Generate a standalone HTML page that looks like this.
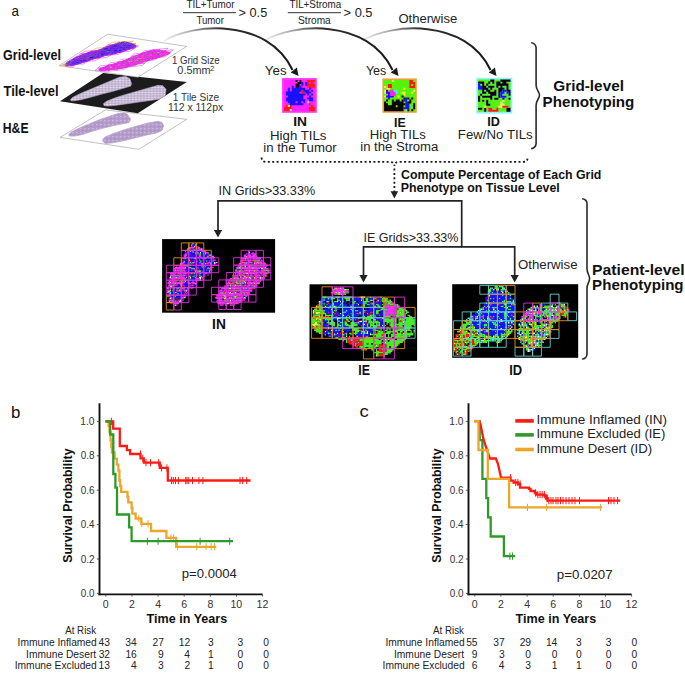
<!DOCTYPE html>
<html><head><meta charset="utf-8"><style>
html,body{margin:0;padding:0;background:#fff;overflow:hidden;}
svg{display:block;font-family:"Liberation Sans", sans-serif;}
</style></head><body>
<svg width="685" height="680" viewBox="0 0 685 680">
<rect width="685" height="680" fill="#fff"/>
<text x="11.52" y="16.0" font-size="15.00" fill="#111" textLength="7.46" lengthAdjust="spacingAndGlyphs">a</text>
<text x="3.10" y="59.6" font-size="13.95" font-weight="bold" fill="#111" textLength="57.85" lengthAdjust="spacingAndGlyphs">Grid-level</text>
<text x="3.47" y="96.1" font-size="13.81" font-weight="bold" fill="#111" textLength="55.09" lengthAdjust="spacingAndGlyphs">Tile-level</text>
<text x="2.81" y="132.9" font-size="13.81" font-weight="bold" fill="#111" textLength="25.74" lengthAdjust="spacingAndGlyphs">H&amp;E</text>
<defs><g id="inT"><path d="M192.4 243.2h1.2v1.25h-1.2zM191.2 244.4h1.2v1.25h-1.2zM194.9 244.4h1.2v1.25h-1.2zM193.7 245.7h1.2v1.25h-1.2zM187.4 248.2h1.2v1.25h-1.2zM201.2 248.2h1.2v1.25h-1.2zM187.4 249.4h1.2v1.25h-1.2zM198.7 249.4h1.2v1.25h-1.2zM201.2 249.4h1.2v1.25h-1.2zM192.4 251.9h1.2v1.25h-1.2zM199.9 251.9h1.2v1.25h-1.2zM248.7 251.9h1.2v1.25h-1.2zM204.9 253.2h1.2v1.25h-1.2zM207.4 253.2h1.2v1.25h-1.2zM186.2 254.4h1.2v1.25h-1.2zM208.7 254.4h2.5v1.25h-2.5zM212.4 255.7h1.2v1.25h-1.2zM246.2 255.7h1.2v1.25h-1.2zM194.9 258.1h1.2v1.25h-1.2zM198.7 259.4h1.2v1.25h-1.2zM258.6 259.4h1.2v1.25h-1.2zM183.7 260.6h1.2v1.25h-1.2zM213.7 261.9h1.2v1.25h-1.2zM216.2 261.9h1.2v1.25h-1.2zM242.4 261.9h1.2v1.25h-1.2zM256.1 261.9h1.2v1.25h-1.2zM201.2 263.1h1.2v1.25h-1.2zM213.7 263.1h1.2v1.25h-1.2zM253.7 263.1h1.2v1.25h-1.2zM179.9 264.4h1.2v1.25h-1.2zM251.2 264.4h1.2v1.25h-1.2zM263.6 264.4h1.2v1.25h-1.2zM202.4 265.6h1.2v1.25h-1.2zM239.9 265.6h1.2v1.25h-1.2zM244.9 265.6h1.2v1.25h-1.2zM207.4 266.9h1.2v1.25h-1.2zM211.2 266.9h1.2v1.25h-1.2zM264.9 266.9h1.2v1.25h-1.2zM193.7 268.1h1.2v1.25h-1.2zM174.9 269.4h1.2v1.25h-1.2zM206.2 269.4h1.2v1.25h-1.2zM209.9 269.4h1.2v1.25h-1.2zM236.2 269.4h1.2v1.25h-1.2zM246.2 269.4h1.2v1.25h-1.2zM263.6 269.4h1.2v1.25h-1.2zM194.9 270.6h1.2v1.25h-1.2zM198.7 270.6h1.2v1.25h-1.2zM202.4 270.6h1.2v1.25h-1.2zM208.7 270.6h1.2v1.25h-1.2zM242.4 270.6h1.2v1.25h-1.2zM172.4 271.9h1.2v1.25h-1.2zM194.9 271.9h1.2v1.25h-1.2zM202.4 271.9h1.2v1.25h-1.2zM241.2 271.9h1.2v1.25h-1.2zM256.1 273.1h1.2v1.25h-1.2zM172.4 274.4h1.2v1.25h-1.2zM238.7 274.4h1.2v1.25h-1.2zM258.6 274.4h1.2v1.25h-1.2zM264.9 274.4h1.2v1.25h-1.2zM169.9 275.6h1.2v1.25h-1.2zM181.2 275.6h1.2v1.25h-1.2zM188.7 275.6h1.2v1.25h-1.2zM192.4 275.6h1.2v1.25h-1.2zM201.2 275.6h1.2v1.25h-1.2zM239.9 275.6h1.2v1.25h-1.2zM243.7 275.6h1.2v1.25h-1.2zM252.4 275.6h1.2v1.25h-1.2zM169.9 276.9h1.2v1.25h-1.2zM176.2 276.9h1.2v1.25h-1.2zM186.2 276.9h1.2v1.25h-1.2zM189.9 276.9h1.2v1.25h-1.2zM198.7 276.9h2.5v1.25h-2.5zM239.9 276.9h1.2v1.25h-1.2zM248.7 276.9h1.2v1.25h-1.2zM199.9 278.1h1.2v1.25h-1.2zM233.7 278.1h1.2v1.25h-1.2zM196.2 279.4h1.2v1.25h-1.2zM198.7 279.4h2.5v1.25h-2.5zM242.4 279.4h1.2v1.25h-1.2zM246.2 279.4h1.2v1.25h-1.2zM252.4 279.4h1.2v1.25h-1.2zM168.7 280.6h1.2v1.25h-1.2zM184.9 280.6h1.2v1.25h-1.2zM196.2 280.6h1.2v1.25h-1.2zM236.2 280.6h1.2v1.25h-1.2zM243.7 280.6h1.2v1.25h-1.2zM256.1 280.6h1.2v1.25h-1.2zM169.9 281.9h1.2v1.25h-1.2zM181.2 283.1h1.2v1.25h-1.2zM194.9 283.1h1.2v1.25h-1.2zM239.9 283.1h1.2v1.25h-1.2zM253.7 283.1h1.2v1.25h-1.2zM168.7 284.4h1.2v1.25h-1.2zM229.9 284.4h1.2v1.25h-1.2zM169.9 285.6h2.5v1.25h-2.5zM233.7 285.6h1.2v1.25h-1.2zM253.7 285.6h1.2v1.25h-1.2zM178.7 286.9h1.2v1.25h-1.2zM192.4 286.9h1.2v1.25h-1.2zM243.7 286.9h1.2v1.25h-1.2zM167.4 288.1h1.2v1.25h-1.2zM229.9 288.1h1.2v1.25h-1.2zM169.9 289.4h1.2v1.25h-1.2zM186.2 289.4h1.2v1.25h-1.2zM167.4 290.6h2.5v1.25h-2.5zM186.2 290.6h1.2v1.25h-1.2zM167.4 291.9h1.2v1.25h-1.2zM229.9 291.9h1.2v1.25h-1.2zM228.7 293.1h1.2v1.25h-1.2zM232.4 293.1h1.2v1.25h-1.2zM222.4 294.4h2.5v1.25h-2.5zM227.4 294.4h1.2v1.25h-1.2zM167.4 295.6h1.2v1.25h-1.2zM224.9 295.6h1.2v1.25h-1.2zM233.7 295.6h2.5v1.25h-2.5zM183.7 296.9h1.2v1.25h-1.2zM224.9 296.9h1.2v1.25h-1.2zM243.7 296.9h1.2v1.25h-1.2zM169.9 298.1h1.2v1.25h-1.2zM181.2 298.1h1.2v1.25h-1.2zM172.4 299.4h1.2v1.25h-1.2zM179.9 299.4h1.2v1.25h-1.2zM218.7 299.4h1.2v1.25h-1.2zM229.9 299.4h1.2v1.25h-1.2zM236.2 299.4h1.2v1.25h-1.2zM168.7 300.6h1.2v1.25h-1.2zM172.4 300.6h1.2v1.25h-1.2zM178.7 300.6h2.5v1.25h-2.5zM229.9 300.6h1.2v1.25h-1.2zM169.9 301.9h1.2v1.25h-1.2zM219.9 301.9h1.2v1.25h-1.2zM229.9 301.9h1.2v1.25h-1.2zM236.2 301.9h1.2v1.25h-1.2zM177.4 303.1h1.2v1.25h-1.2zM174.9 304.4h1.2v1.25h-1.2z" fill="#ffffff"/>
<path d="M192.4 244.4h2.5v1.25h-2.5zM188.7 245.7h1.2v1.25h-1.2zM192.4 245.7h1.2v1.25h-1.2zM194.9 245.7h1.2v1.25h-1.2zM194.9 246.9h2.5v1.25h-2.5zM191.2 248.2h1.2v1.25h-1.2zM193.7 248.2h3.8v1.25h-3.8zM186.2 249.4h1.2v1.25h-1.2zM188.7 249.4h5.0v1.25h-5.0zM197.4 249.4h1.2v1.25h-1.2zM204.9 249.4h1.2v1.25h-1.2zM188.7 250.7h1.2v1.25h-1.2zM191.2 250.7h1.2v1.25h-1.2zM193.7 250.7h2.5v1.25h-2.5zM197.4 250.7h3.8v1.25h-3.8zM184.9 251.9h2.5v1.25h-2.5zM188.7 251.9h3.8v1.25h-3.8zM193.7 251.9h1.2v1.25h-1.2zM198.7 251.9h1.2v1.25h-1.2zM201.2 251.9h3.8v1.25h-3.8zM183.7 253.2h1.2v1.25h-1.2zM187.4 253.2h7.5v1.25h-7.5zM201.2 253.2h2.5v1.25h-2.5zM206.2 253.2h1.2v1.25h-1.2zM208.7 253.2h1.2v1.25h-1.2zM249.9 253.2h1.2v1.25h-1.2zM187.4 254.4h3.8v1.25h-3.8zM192.4 254.4h6.2v1.25h-6.2zM201.2 254.4h7.5v1.25h-7.5zM211.2 254.4h1.2v1.25h-1.2zM246.2 254.4h1.2v1.25h-1.2zM251.2 254.4h1.2v1.25h-1.2zM186.2 255.7h12.5v1.25h-12.5zM201.2 255.7h6.2v1.25h-6.2zM208.7 255.7h2.5v1.25h-2.5zM186.2 256.9h5.0v1.25h-5.0zM192.4 256.9h2.5v1.25h-2.5zM197.4 256.9h3.8v1.25h-3.8zM202.4 256.9h7.5v1.25h-7.5zM186.2 258.1h7.5v1.25h-7.5zM196.2 258.1h2.5v1.25h-2.5zM199.9 258.1h2.5v1.25h-2.5zM206.2 258.1h6.2v1.25h-6.2zM248.7 258.1h1.2v1.25h-1.2zM254.9 258.1h1.2v1.25h-1.2zM183.7 259.4h5.0v1.25h-5.0zM189.9 259.4h8.8v1.25h-8.8zM199.9 259.4h12.5v1.25h-12.5zM259.9 259.4h1.2v1.25h-1.2zM184.9 260.6h5.0v1.25h-5.0zM191.2 260.6h2.5v1.25h-2.5zM194.9 260.6h1.2v1.25h-1.2zM197.4 260.6h2.5v1.25h-2.5zM202.4 260.6h3.8v1.25h-3.8zM207.4 260.6h1.2v1.25h-1.2zM209.9 260.6h2.5v1.25h-2.5zM213.7 260.6h1.2v1.25h-1.2zM244.9 260.6h1.2v1.25h-1.2zM184.9 261.9h5.0v1.25h-5.0zM191.2 261.9h1.2v1.25h-1.2zM194.9 261.9h3.8v1.25h-3.8zM201.2 261.9h5.0v1.25h-5.0zM211.2 261.9h2.5v1.25h-2.5zM183.7 263.1h3.8v1.25h-3.8zM188.7 263.1h2.5v1.25h-2.5zM192.4 263.1h8.8v1.25h-8.8zM203.7 263.1h1.2v1.25h-1.2zM208.7 263.1h1.2v1.25h-1.2zM211.2 263.1h2.5v1.25h-2.5zM248.7 263.1h2.5v1.25h-2.5zM252.4 263.1h1.2v1.25h-1.2zM188.7 264.4h1.2v1.25h-1.2zM191.2 264.4h10.0v1.25h-10.0zM203.7 264.4h6.2v1.25h-6.2zM212.4 264.4h1.2v1.25h-1.2zM256.1 264.4h1.2v1.25h-1.2zM258.6 264.4h1.2v1.25h-1.2zM188.7 265.6h12.5v1.25h-12.5zM203.7 265.6h1.2v1.25h-1.2zM206.2 265.6h3.8v1.25h-3.8zM246.2 265.6h1.2v1.25h-1.2zM186.2 266.9h2.5v1.25h-2.5zM192.4 266.9h5.0v1.25h-5.0zM198.7 266.9h3.8v1.25h-3.8zM203.7 266.9h3.8v1.25h-3.8zM208.7 266.9h1.2v1.25h-1.2zM266.1 266.9h1.2v1.25h-1.2zM186.2 268.1h1.2v1.25h-1.2zM188.7 268.1h2.5v1.25h-2.5zM194.9 268.1h2.5v1.25h-2.5zM198.7 268.1h8.8v1.25h-8.8zM259.9 268.1h1.2v1.25h-1.2zM172.4 269.4h1.2v1.25h-1.2zM184.9 269.4h6.2v1.25h-6.2zM192.4 269.4h1.2v1.25h-1.2zM197.4 269.4h1.2v1.25h-1.2zM199.9 269.4h6.2v1.25h-6.2zM207.4 269.4h1.2v1.25h-1.2zM237.4 269.4h2.5v1.25h-2.5zM258.6 269.4h2.5v1.25h-2.5zM186.2 270.6h8.8v1.25h-8.8zM201.2 270.6h1.2v1.25h-1.2zM203.7 270.6h5.0v1.25h-5.0zM209.9 270.6h1.2v1.25h-1.2zM266.1 270.6h1.2v1.25h-1.2zM186.2 271.9h1.2v1.25h-1.2zM188.7 271.9h3.8v1.25h-3.8zM193.7 271.9h1.2v1.25h-1.2zM198.7 271.9h3.8v1.25h-3.8zM203.7 271.9h2.5v1.25h-2.5zM207.4 271.9h1.2v1.25h-1.2zM234.9 271.9h1.2v1.25h-1.2zM247.4 271.9h1.2v1.25h-1.2zM181.2 273.1h1.2v1.25h-1.2zM187.4 273.1h2.5v1.25h-2.5zM192.4 273.1h1.2v1.25h-1.2zM194.9 273.1h3.8v1.25h-3.8zM201.2 273.1h3.8v1.25h-3.8zM207.4 273.1h2.5v1.25h-2.5zM236.2 273.1h1.2v1.25h-1.2zM258.6 273.1h1.2v1.25h-1.2zM186.2 274.4h10.0v1.25h-10.0zM197.4 274.4h1.2v1.25h-1.2zM199.9 274.4h3.8v1.25h-3.8zM204.9 274.4h1.2v1.25h-1.2zM247.4 274.4h2.5v1.25h-2.5zM252.4 274.4h1.2v1.25h-1.2zM259.9 274.4h1.2v1.25h-1.2zM184.9 275.6h1.2v1.25h-1.2zM187.4 275.6h1.2v1.25h-1.2zM191.2 275.6h1.2v1.25h-1.2zM194.9 275.6h3.8v1.25h-3.8zM202.4 275.6h1.2v1.25h-1.2zM204.9 275.6h1.2v1.25h-1.2zM241.2 275.6h1.2v1.25h-1.2zM262.4 275.6h1.2v1.25h-1.2zM184.9 276.9h1.2v1.25h-1.2zM187.4 276.9h2.5v1.25h-2.5zM191.2 276.9h3.8v1.25h-3.8zM196.2 276.9h2.5v1.25h-2.5zM238.7 276.9h1.2v1.25h-1.2zM252.4 276.9h1.2v1.25h-1.2zM168.7 278.1h1.2v1.25h-1.2zM186.2 278.1h2.5v1.25h-2.5zM191.2 278.1h5.0v1.25h-5.0zM252.4 278.1h1.2v1.25h-1.2zM168.7 279.4h2.5v1.25h-2.5zM176.2 279.4h3.8v1.25h-3.8zM186.2 279.4h1.2v1.25h-1.2zM188.7 279.4h6.2v1.25h-6.2zM253.7 279.4h1.2v1.25h-1.2zM177.4 280.6h1.2v1.25h-1.2zM186.2 280.6h1.2v1.25h-1.2zM188.7 280.6h3.8v1.25h-3.8zM193.7 280.6h2.5v1.25h-2.5zM197.4 280.6h1.2v1.25h-1.2zM247.4 280.6h1.2v1.25h-1.2zM184.9 281.9h2.5v1.25h-2.5zM189.9 281.9h1.2v1.25h-1.2zM194.9 281.9h1.2v1.25h-1.2zM231.2 281.9h1.2v1.25h-1.2zM183.7 283.1h5.0v1.25h-5.0zM234.9 283.1h1.2v1.25h-1.2zM241.2 283.1h1.2v1.25h-1.2zM243.7 283.1h1.2v1.25h-1.2zM246.2 283.1h1.2v1.25h-1.2zM177.4 284.4h2.5v1.25h-2.5zM183.7 284.4h7.5v1.25h-7.5zM193.7 284.4h1.2v1.25h-1.2zM242.4 284.4h1.2v1.25h-1.2zM173.7 285.6h7.5v1.25h-7.5zM184.9 285.6h5.0v1.25h-5.0zM191.2 285.6h1.2v1.25h-1.2zM228.7 285.6h1.2v1.25h-1.2zM241.2 285.6h1.2v1.25h-1.2zM249.9 285.6h1.2v1.25h-1.2zM173.7 286.9h2.5v1.25h-2.5zM179.9 286.9h1.2v1.25h-1.2zM183.7 286.9h3.8v1.25h-3.8zM224.9 286.9h1.2v1.25h-1.2zM236.2 286.9h1.2v1.25h-1.2zM238.7 286.9h1.2v1.25h-1.2zM168.7 288.1h1.2v1.25h-1.2zM171.2 288.1h1.2v1.25h-1.2zM174.9 288.1h1.2v1.25h-1.2zM178.7 288.1h1.2v1.25h-1.2zM184.9 288.1h2.5v1.25h-2.5zM188.7 288.1h1.2v1.25h-1.2zM241.2 288.1h1.2v1.25h-1.2zM247.4 288.1h1.2v1.25h-1.2zM171.2 289.4h1.2v1.25h-1.2zM173.7 289.4h2.5v1.25h-2.5zM177.4 289.4h1.2v1.25h-1.2zM181.2 289.4h1.2v1.25h-1.2zM222.4 289.4h1.2v1.25h-1.2zM171.2 290.6h1.2v1.25h-1.2zM173.7 290.6h2.5v1.25h-2.5zM181.2 290.6h2.5v1.25h-2.5zM187.4 290.6h1.2v1.25h-1.2zM171.2 291.9h3.8v1.25h-3.8zM177.4 291.9h7.5v1.25h-7.5zM186.2 291.9h1.2v1.25h-1.2zM218.7 291.9h1.2v1.25h-1.2zM231.2 291.9h1.2v1.25h-1.2zM237.4 291.9h1.2v1.25h-1.2zM167.4 293.1h1.2v1.25h-1.2zM171.2 293.1h6.2v1.25h-6.2zM178.7 293.1h5.0v1.25h-5.0zM184.9 293.1h1.2v1.25h-1.2zM226.2 293.1h1.2v1.25h-1.2zM171.2 294.4h5.0v1.25h-5.0zM178.7 294.4h5.0v1.25h-5.0zM184.9 294.4h2.5v1.25h-2.5zM241.2 294.4h1.2v1.25h-1.2zM171.2 295.6h3.8v1.25h-3.8zM176.2 295.6h6.2v1.25h-6.2zM243.7 295.6h1.2v1.25h-1.2zM168.7 296.9h1.2v1.25h-1.2zM172.4 296.9h8.8v1.25h-8.8zM232.4 296.9h1.2v1.25h-1.2zM172.4 298.1h3.8v1.25h-3.8zM177.4 298.1h3.8v1.25h-3.8zM222.4 298.1h1.2v1.25h-1.2zM174.9 299.4h2.5v1.25h-2.5zM181.2 299.4h1.2v1.25h-1.2zM222.4 299.4h1.2v1.25h-1.2zM234.9 299.4h1.2v1.25h-1.2zM173.7 300.6h1.2v1.25h-1.2zM172.4 301.9h1.2v1.25h-1.2zM176.2 301.9h1.2v1.25h-1.2zM224.9 301.9h1.2v1.25h-1.2zM173.7 304.4h1.2v1.25h-1.2z" fill="#1414ff"/>
<path d="M191.2 245.7h1.2v1.25h-1.2zM197.4 245.7h1.2v1.25h-1.2zM188.7 246.9h6.2v1.25h-6.2zM197.4 246.9h2.5v1.25h-2.5zM188.7 248.2h2.5v1.25h-2.5zM192.4 248.2h1.2v1.25h-1.2zM197.4 248.2h3.8v1.25h-3.8zM199.9 249.4h1.2v1.25h-1.2zM202.4 249.4h1.2v1.25h-1.2zM184.9 250.7h1.2v1.25h-1.2zM187.4 250.7h1.2v1.25h-1.2zM201.2 250.7h5.0v1.25h-5.0zM248.7 250.7h1.2v1.25h-1.2zM187.4 251.9h1.2v1.25h-1.2zM194.9 251.9h2.5v1.25h-2.5zM204.9 251.9h3.8v1.25h-3.8zM252.4 251.9h1.2v1.25h-1.2zM184.9 253.2h2.5v1.25h-2.5zM194.9 253.2h2.5v1.25h-2.5zM198.7 253.2h1.2v1.25h-1.2zM246.2 253.2h1.2v1.25h-1.2zM248.7 253.2h1.2v1.25h-1.2zM251.2 253.2h5.0v1.25h-5.0zM183.7 254.4h2.5v1.25h-2.5zM198.7 254.4h1.2v1.25h-1.2zM243.7 254.4h2.5v1.25h-2.5zM247.4 254.4h3.8v1.25h-3.8zM252.4 254.4h3.8v1.25h-3.8zM183.7 255.7h2.5v1.25h-2.5zM198.7 255.7h2.5v1.25h-2.5zM211.2 255.7h1.2v1.25h-1.2zM243.7 255.7h2.5v1.25h-2.5zM247.4 255.7h10.0v1.25h-10.0zM184.9 256.9h1.2v1.25h-1.2zM209.9 256.9h5.0v1.25h-5.0zM243.7 256.9h2.5v1.25h-2.5zM247.4 256.9h1.2v1.25h-1.2zM249.9 256.9h1.2v1.25h-1.2zM252.4 256.9h7.5v1.25h-7.5zM182.4 258.1h3.8v1.25h-3.8zM202.4 258.1h3.8v1.25h-3.8zM212.4 258.1h1.2v1.25h-1.2zM241.2 258.1h3.8v1.25h-3.8zM246.2 258.1h2.5v1.25h-2.5zM249.9 258.1h1.2v1.25h-1.2zM252.4 258.1h2.5v1.25h-2.5zM256.1 258.1h2.5v1.25h-2.5zM259.9 258.1h1.2v1.25h-1.2zM212.4 259.4h3.8v1.25h-3.8zM241.2 259.4h3.8v1.25h-3.8zM246.2 259.4h12.5v1.25h-12.5zM261.1 259.4h1.2v1.25h-1.2zM182.4 260.6h1.2v1.25h-1.2zM193.7 260.6h1.2v1.25h-1.2zM201.2 260.6h1.2v1.25h-1.2zM208.7 260.6h1.2v1.25h-1.2zM239.9 260.6h3.8v1.25h-3.8zM246.2 260.6h1.2v1.25h-1.2zM248.7 260.6h2.5v1.25h-2.5zM252.4 260.6h1.2v1.25h-1.2zM256.1 260.6h1.2v1.25h-1.2zM259.9 260.6h3.8v1.25h-3.8zM182.4 261.9h2.5v1.25h-2.5zM193.7 261.9h1.2v1.25h-1.2zM198.7 261.9h2.5v1.25h-2.5zM207.4 261.9h3.8v1.25h-3.8zM214.9 261.9h1.2v1.25h-1.2zM241.2 261.9h1.2v1.25h-1.2zM243.7 261.9h2.5v1.25h-2.5zM247.4 261.9h1.2v1.25h-1.2zM249.9 261.9h1.2v1.25h-1.2zM253.7 261.9h2.5v1.25h-2.5zM258.6 261.9h3.8v1.25h-3.8zM263.6 261.9h1.2v1.25h-1.2zM179.9 263.1h3.8v1.25h-3.8zM191.2 263.1h1.2v1.25h-1.2zM206.2 263.1h2.5v1.25h-2.5zM214.9 263.1h1.2v1.25h-1.2zM238.7 263.1h1.2v1.25h-1.2zM243.7 263.1h3.8v1.25h-3.8zM254.9 263.1h1.2v1.25h-1.2zM257.4 263.1h8.8v1.25h-8.8zM181.2 264.4h3.8v1.25h-3.8zM186.2 264.4h1.2v1.25h-1.2zM202.4 264.4h1.2v1.25h-1.2zM211.2 264.4h1.2v1.25h-1.2zM213.7 264.4h1.2v1.25h-1.2zM238.7 264.4h5.0v1.25h-5.0zM246.2 264.4h3.8v1.25h-3.8zM253.7 264.4h1.2v1.25h-1.2zM257.4 264.4h1.2v1.25h-1.2zM262.4 264.4h1.2v1.25h-1.2zM264.9 264.4h2.5v1.25h-2.5zM176.2 265.6h1.2v1.25h-1.2zM178.7 265.6h8.8v1.25h-8.8zM201.2 265.6h1.2v1.25h-1.2zM211.2 265.6h1.2v1.25h-1.2zM237.4 265.6h2.5v1.25h-2.5zM242.4 265.6h1.2v1.25h-1.2zM247.4 265.6h1.2v1.25h-1.2zM249.9 265.6h1.2v1.25h-1.2zM252.4 265.6h15.0v1.25h-15.0zM174.9 266.9h10.0v1.25h-10.0zM197.4 266.9h1.2v1.25h-1.2zM209.9 266.9h1.2v1.25h-1.2zM212.4 266.9h1.2v1.25h-1.2zM236.2 266.9h2.5v1.25h-2.5zM241.2 266.9h11.2v1.25h-11.2zM253.7 266.9h2.5v1.25h-2.5zM257.4 266.9h1.2v1.25h-1.2zM259.9 266.9h5.0v1.25h-5.0zM173.7 268.1h12.5v1.25h-12.5zM197.4 268.1h1.2v1.25h-1.2zM208.7 268.1h2.5v1.25h-2.5zM236.2 268.1h1.2v1.25h-1.2zM241.2 268.1h18.8v1.25h-18.8zM263.6 268.1h5.0v1.25h-5.0zM173.7 269.4h1.2v1.25h-1.2zM176.2 269.4h8.8v1.25h-8.8zM191.2 269.4h1.2v1.25h-1.2zM193.7 269.4h2.5v1.25h-2.5zM198.7 269.4h1.2v1.25h-1.2zM208.7 269.4h1.2v1.25h-1.2zM211.2 269.4h1.2v1.25h-1.2zM234.9 269.4h1.2v1.25h-1.2zM239.9 269.4h2.5v1.25h-2.5zM243.7 269.4h2.5v1.25h-2.5zM248.7 269.4h10.0v1.25h-10.0zM261.1 269.4h2.5v1.25h-2.5zM267.4 269.4h2.5v1.25h-2.5zM173.7 270.6h6.2v1.25h-6.2zM181.2 270.6h5.0v1.25h-5.0zM196.2 270.6h1.2v1.25h-1.2zM234.9 270.6h3.8v1.25h-3.8zM243.7 270.6h5.0v1.25h-5.0zM249.9 270.6h3.8v1.25h-3.8zM254.9 270.6h7.5v1.25h-7.5zM263.6 270.6h2.5v1.25h-2.5zM268.6 270.6h1.2v1.25h-1.2zM171.2 271.9h1.2v1.25h-1.2zM173.7 271.9h12.5v1.25h-12.5zM196.2 271.9h2.5v1.25h-2.5zM206.2 271.9h1.2v1.25h-1.2zM208.7 271.9h1.2v1.25h-1.2zM236.2 271.9h3.8v1.25h-3.8zM242.4 271.9h3.8v1.25h-3.8zM248.7 271.9h3.8v1.25h-3.8zM253.7 271.9h8.8v1.25h-8.8zM264.9 271.9h5.0v1.25h-5.0zM169.9 273.1h6.2v1.25h-6.2zM177.4 273.1h3.8v1.25h-3.8zM182.4 273.1h5.0v1.25h-5.0zM198.7 273.1h1.2v1.25h-1.2zM204.9 273.1h2.5v1.25h-2.5zM234.9 273.1h1.2v1.25h-1.2zM237.4 273.1h3.8v1.25h-3.8zM242.4 273.1h3.8v1.25h-3.8zM248.7 273.1h7.5v1.25h-7.5zM257.4 273.1h1.2v1.25h-1.2zM259.9 273.1h2.5v1.25h-2.5zM263.6 273.1h2.5v1.25h-2.5zM267.4 273.1h1.2v1.25h-1.2zM169.9 274.4h2.5v1.25h-2.5zM173.7 274.4h1.2v1.25h-1.2zM176.2 274.4h1.2v1.25h-1.2zM178.7 274.4h2.5v1.25h-2.5zM182.4 274.4h3.8v1.25h-3.8zM203.7 274.4h1.2v1.25h-1.2zM207.4 274.4h1.2v1.25h-1.2zM232.4 274.4h1.2v1.25h-1.2zM234.9 274.4h3.8v1.25h-3.8zM239.9 274.4h1.2v1.25h-1.2zM243.7 274.4h1.2v1.25h-1.2zM246.2 274.4h1.2v1.25h-1.2zM249.9 274.4h2.5v1.25h-2.5zM253.7 274.4h5.0v1.25h-5.0zM261.1 274.4h3.8v1.25h-3.8zM171.2 275.6h1.2v1.25h-1.2zM174.9 275.6h3.8v1.25h-3.8zM179.9 275.6h1.2v1.25h-1.2zM182.4 275.6h2.5v1.25h-2.5zM186.2 275.6h1.2v1.25h-1.2zM198.7 275.6h1.2v1.25h-1.2zM203.7 275.6h1.2v1.25h-1.2zM233.7 275.6h5.0v1.25h-5.0zM242.4 275.6h1.2v1.25h-1.2zM246.2 275.6h1.2v1.25h-1.2zM248.7 275.6h3.8v1.25h-3.8zM254.9 275.6h6.2v1.25h-6.2zM263.6 275.6h3.8v1.25h-3.8zM168.7 276.9h1.2v1.25h-1.2zM171.2 276.9h5.0v1.25h-5.0zM177.4 276.9h7.5v1.25h-7.5zM201.2 276.9h2.5v1.25h-2.5zM233.7 276.9h3.8v1.25h-3.8zM241.2 276.9h5.0v1.25h-5.0zM247.4 276.9h1.2v1.25h-1.2zM251.2 276.9h1.2v1.25h-1.2zM254.9 276.9h5.0v1.25h-5.0zM261.1 276.9h1.2v1.25h-1.2zM263.6 276.9h1.2v1.25h-1.2zM169.9 278.1h16.2v1.25h-16.2zM196.2 278.1h3.8v1.25h-3.8zM202.4 278.1h1.2v1.25h-1.2zM229.9 278.1h2.5v1.25h-2.5zM234.9 278.1h2.5v1.25h-2.5zM238.7 278.1h1.2v1.25h-1.2zM243.7 278.1h3.8v1.25h-3.8zM248.7 278.1h1.2v1.25h-1.2zM251.2 278.1h1.2v1.25h-1.2zM253.7 278.1h1.2v1.25h-1.2zM256.1 278.1h1.2v1.25h-1.2zM258.6 278.1h1.2v1.25h-1.2zM261.1 278.1h3.8v1.25h-3.8zM171.2 279.4h3.8v1.25h-3.8zM181.2 279.4h3.8v1.25h-3.8zM187.4 279.4h1.2v1.25h-1.2zM194.9 279.4h1.2v1.25h-1.2zM197.4 279.4h1.2v1.25h-1.2zM228.7 279.4h1.2v1.25h-1.2zM231.2 279.4h1.2v1.25h-1.2zM233.7 279.4h3.8v1.25h-3.8zM238.7 279.4h2.5v1.25h-2.5zM243.7 279.4h2.5v1.25h-2.5zM247.4 279.4h5.0v1.25h-5.0zM256.1 279.4h6.2v1.25h-6.2zM169.9 280.6h6.2v1.25h-6.2zM178.7 280.6h1.2v1.25h-1.2zM183.7 280.6h1.2v1.25h-1.2zM187.4 280.6h1.2v1.25h-1.2zM227.4 280.6h5.0v1.25h-5.0zM233.7 280.6h2.5v1.25h-2.5zM241.2 280.6h1.2v1.25h-1.2zM246.2 280.6h1.2v1.25h-1.2zM248.7 280.6h2.5v1.25h-2.5zM252.4 280.6h3.8v1.25h-3.8zM257.4 280.6h3.8v1.25h-3.8zM167.4 281.9h2.5v1.25h-2.5zM171.2 281.9h13.8v1.25h-13.8zM187.4 281.9h2.5v1.25h-2.5zM191.2 281.9h3.8v1.25h-3.8zM196.2 281.9h1.2v1.25h-1.2zM227.4 281.9h2.5v1.25h-2.5zM234.9 281.9h1.2v1.25h-1.2zM238.7 281.9h3.8v1.25h-3.8zM243.7 281.9h1.2v1.25h-1.2zM249.9 281.9h10.0v1.25h-10.0zM167.4 283.1h7.5v1.25h-7.5zM176.2 283.1h5.0v1.25h-5.0zM182.4 283.1h1.2v1.25h-1.2zM188.7 283.1h2.5v1.25h-2.5zM192.4 283.1h2.5v1.25h-2.5zM226.2 283.1h2.5v1.25h-2.5zM229.9 283.1h3.8v1.25h-3.8zM236.2 283.1h1.2v1.25h-1.2zM238.7 283.1h1.2v1.25h-1.2zM244.9 283.1h1.2v1.25h-1.2zM248.7 283.1h2.5v1.25h-2.5zM252.4 283.1h1.2v1.25h-1.2zM254.9 283.1h2.5v1.25h-2.5zM258.6 283.1h1.2v1.25h-1.2zM169.9 284.4h2.5v1.25h-2.5zM173.7 284.4h3.8v1.25h-3.8zM179.9 284.4h3.8v1.25h-3.8zM191.2 284.4h2.5v1.25h-2.5zM226.2 284.4h3.8v1.25h-3.8zM231.2 284.4h2.5v1.25h-2.5zM236.2 284.4h2.5v1.25h-2.5zM241.2 284.4h1.2v1.25h-1.2zM243.7 284.4h1.2v1.25h-1.2zM246.2 284.4h1.2v1.25h-1.2zM249.9 284.4h7.5v1.25h-7.5zM167.4 285.6h2.5v1.25h-2.5zM172.4 285.6h1.2v1.25h-1.2zM181.2 285.6h1.2v1.25h-1.2zM183.7 285.6h1.2v1.25h-1.2zM189.9 285.6h1.2v1.25h-1.2zM192.4 285.6h1.2v1.25h-1.2zM223.7 285.6h5.0v1.25h-5.0zM231.2 285.6h2.5v1.25h-2.5zM234.9 285.6h6.2v1.25h-6.2zM243.7 285.6h1.2v1.25h-1.2zM246.2 285.6h1.2v1.25h-1.2zM248.7 285.6h1.2v1.25h-1.2zM251.2 285.6h1.2v1.25h-1.2zM254.9 285.6h2.5v1.25h-2.5zM168.7 286.9h2.5v1.25h-2.5zM172.4 286.9h1.2v1.25h-1.2zM176.2 286.9h1.2v1.25h-1.2zM181.2 286.9h2.5v1.25h-2.5zM188.7 286.9h2.5v1.25h-2.5zM222.4 286.9h1.2v1.25h-1.2zM226.2 286.9h10.0v1.25h-10.0zM239.9 286.9h1.2v1.25h-1.2zM244.9 286.9h7.5v1.25h-7.5zM253.7 286.9h1.2v1.25h-1.2zM169.9 288.1h1.2v1.25h-1.2zM176.2 288.1h1.2v1.25h-1.2zM179.9 288.1h5.0v1.25h-5.0zM187.4 288.1h1.2v1.25h-1.2zM191.2 288.1h1.2v1.25h-1.2zM221.2 288.1h7.5v1.25h-7.5zM231.2 288.1h2.5v1.25h-2.5zM234.9 288.1h6.2v1.25h-6.2zM242.4 288.1h3.8v1.25h-3.8zM248.7 288.1h3.8v1.25h-3.8zM253.7 288.1h1.2v1.25h-1.2zM167.4 289.4h2.5v1.25h-2.5zM179.9 289.4h1.2v1.25h-1.2zM183.7 289.4h2.5v1.25h-2.5zM187.4 289.4h1.2v1.25h-1.2zM219.9 289.4h2.5v1.25h-2.5zM223.7 289.4h2.5v1.25h-2.5zM227.4 289.4h8.8v1.25h-8.8zM237.4 289.4h2.5v1.25h-2.5zM241.2 289.4h11.2v1.25h-11.2zM172.4 290.6h1.2v1.25h-1.2zM176.2 290.6h5.0v1.25h-5.0zM183.7 290.6h2.5v1.25h-2.5zM218.7 290.6h6.2v1.25h-6.2zM226.2 290.6h7.5v1.25h-7.5zM234.9 290.6h5.0v1.25h-5.0zM241.2 290.6h11.2v1.25h-11.2zM168.7 291.9h1.2v1.25h-1.2zM176.2 291.9h1.2v1.25h-1.2zM184.9 291.9h1.2v1.25h-1.2zM187.4 291.9h1.2v1.25h-1.2zM219.9 291.9h1.2v1.25h-1.2zM226.2 291.9h3.8v1.25h-3.8zM232.4 291.9h2.5v1.25h-2.5zM236.2 291.9h1.2v1.25h-1.2zM239.9 291.9h1.2v1.25h-1.2zM242.4 291.9h5.0v1.25h-5.0zM248.7 291.9h1.2v1.25h-1.2zM168.7 293.1h1.2v1.25h-1.2zM186.2 293.1h1.2v1.25h-1.2zM218.7 293.1h3.8v1.25h-3.8zM223.7 293.1h2.5v1.25h-2.5zM227.4 293.1h1.2v1.25h-1.2zM229.9 293.1h1.2v1.25h-1.2zM233.7 293.1h8.8v1.25h-8.8zM246.2 293.1h1.2v1.25h-1.2zM248.7 293.1h1.2v1.25h-1.2zM168.7 294.4h2.5v1.25h-2.5zM183.7 294.4h1.2v1.25h-1.2zM216.2 294.4h1.2v1.25h-1.2zM218.7 294.4h3.8v1.25h-3.8zM226.2 294.4h1.2v1.25h-1.2zM228.7 294.4h6.2v1.25h-6.2zM236.2 294.4h5.0v1.25h-5.0zM242.4 294.4h1.2v1.25h-1.2zM244.9 294.4h3.8v1.25h-3.8zM168.7 295.6h2.5v1.25h-2.5zM182.4 295.6h3.8v1.25h-3.8zM216.2 295.6h5.0v1.25h-5.0zM222.4 295.6h1.2v1.25h-1.2zM226.2 295.6h7.5v1.25h-7.5zM238.7 295.6h5.0v1.25h-5.0zM244.9 295.6h2.5v1.25h-2.5zM169.9 296.9h1.2v1.25h-1.2zM181.2 296.9h2.5v1.25h-2.5zM184.9 296.9h1.2v1.25h-1.2zM214.9 296.9h10.0v1.25h-10.0zM226.2 296.9h1.2v1.25h-1.2zM229.9 296.9h1.2v1.25h-1.2zM236.2 296.9h7.5v1.25h-7.5zM244.9 296.9h1.2v1.25h-1.2zM168.7 298.1h1.2v1.25h-1.2zM171.2 298.1h1.2v1.25h-1.2zM182.4 298.1h1.2v1.25h-1.2zM216.2 298.1h6.2v1.25h-6.2zM226.2 298.1h15.0v1.25h-15.0zM242.4 298.1h3.8v1.25h-3.8zM168.7 299.4h3.8v1.25h-3.8zM178.7 299.4h1.2v1.25h-1.2zM182.4 299.4h1.2v1.25h-1.2zM217.4 299.4h1.2v1.25h-1.2zM219.9 299.4h2.5v1.25h-2.5zM224.9 299.4h5.0v1.25h-5.0zM231.2 299.4h3.8v1.25h-3.8zM237.4 299.4h7.5v1.25h-7.5zM169.9 300.6h2.5v1.25h-2.5zM176.2 300.6h2.5v1.25h-2.5zM181.2 300.6h1.2v1.25h-1.2zM216.2 300.6h1.2v1.25h-1.2zM218.7 300.6h6.2v1.25h-6.2zM226.2 300.6h3.8v1.25h-3.8zM231.2 300.6h3.8v1.25h-3.8zM236.2 300.6h3.8v1.25h-3.8zM241.2 300.6h1.2v1.25h-1.2zM173.7 301.9h2.5v1.25h-2.5zM177.4 301.9h2.5v1.25h-2.5zM217.4 301.9h2.5v1.25h-2.5zM221.2 301.9h3.8v1.25h-3.8zM226.2 301.9h3.8v1.25h-3.8zM231.2 301.9h3.8v1.25h-3.8zM237.4 301.9h1.2v1.25h-1.2zM171.2 303.1h1.2v1.25h-1.2zM173.7 303.1h3.8v1.25h-3.8zM217.4 303.1h8.8v1.25h-8.8zM228.7 303.1h2.5v1.25h-2.5zM232.4 303.1h6.2v1.25h-6.2zM176.2 304.4h1.2v1.25h-1.2zM219.9 304.4h3.8v1.25h-3.8zM224.9 304.4h2.5v1.25h-2.5zM229.9 304.4h5.0v1.25h-5.0z" fill="#ff2cff"/>
<path d="M193.7 249.4h1.2v1.25h-1.2zM207.4 255.7h1.2v1.25h-1.2zM248.7 256.9h1.2v1.25h-1.2zM188.7 259.4h1.2v1.25h-1.2zM196.2 260.6h1.2v1.25h-1.2zM254.9 260.6h1.2v1.25h-1.2zM257.4 260.6h1.2v1.25h-1.2zM192.4 261.9h1.2v1.25h-1.2zM257.4 261.9h1.2v1.25h-1.2zM239.9 263.1h1.2v1.25h-1.2zM184.9 264.4h1.2v1.25h-1.2zM201.2 264.4h1.2v1.25h-1.2zM243.7 264.4h2.5v1.25h-2.5zM248.7 265.6h1.2v1.25h-1.2zM238.7 266.9h1.2v1.25h-1.2zM252.4 266.9h1.2v1.25h-1.2zM192.4 268.1h1.2v1.25h-1.2zM261.1 268.1h2.5v1.25h-2.5zM266.1 269.4h1.2v1.25h-1.2zM197.4 270.6h1.2v1.25h-1.2zM199.9 270.6h1.2v1.25h-1.2zM238.7 270.6h2.5v1.25h-2.5zM248.7 270.6h1.2v1.25h-1.2zM253.7 270.6h1.2v1.25h-1.2zM262.4 270.6h1.2v1.25h-1.2zM267.4 270.6h1.2v1.25h-1.2zM246.2 271.9h1.2v1.25h-1.2zM191.2 273.1h1.2v1.25h-1.2zM246.2 273.1h2.5v1.25h-2.5zM196.2 274.4h1.2v1.25h-1.2zM242.4 274.4h1.2v1.25h-1.2zM244.9 275.6h1.2v1.25h-1.2zM247.4 275.6h1.2v1.25h-1.2zM246.2 276.9h1.2v1.25h-1.2zM253.7 276.9h1.2v1.25h-1.2zM259.9 276.9h1.2v1.25h-1.2zM262.4 276.9h1.2v1.25h-1.2zM237.4 278.1h1.2v1.25h-1.2zM242.4 278.1h1.2v1.25h-1.2zM249.9 278.1h1.2v1.25h-1.2zM241.2 279.4h1.2v1.25h-1.2zM239.9 280.6h1.2v1.25h-1.2zM242.4 280.6h1.2v1.25h-1.2zM236.2 281.9h1.2v1.25h-1.2zM244.9 281.9h1.2v1.25h-1.2zM237.4 283.1h1.2v1.25h-1.2zM242.4 283.1h1.2v1.25h-1.2zM247.4 283.1h1.2v1.25h-1.2zM251.2 283.1h1.2v1.25h-1.2zM257.4 283.1h1.2v1.25h-1.2zM234.9 284.4h1.2v1.25h-1.2zM239.9 284.4h1.2v1.25h-1.2zM187.4 286.9h1.2v1.25h-1.2zM242.4 286.9h1.2v1.25h-1.2zM228.7 288.1h1.2v1.25h-1.2zM233.7 288.1h1.2v1.25h-1.2zM178.7 289.4h1.2v1.25h-1.2zM222.4 291.9h1.2v1.25h-1.2zM234.9 291.9h1.2v1.25h-1.2zM241.2 291.9h1.2v1.25h-1.2zM231.2 293.1h1.2v1.25h-1.2zM223.7 295.6h1.2v1.25h-1.2zM236.2 295.6h1.2v1.25h-1.2zM223.7 298.1h2.5v1.25h-2.5zM226.2 303.1h2.5v1.25h-2.5z" fill="#f0f040"/>
<path d="M194.9 249.4h1.2v1.25h-1.2zM203.7 253.2h1.2v1.25h-1.2zM247.4 253.2h1.2v1.25h-1.2zM191.2 254.4h1.2v1.25h-1.2zM196.2 256.9h1.2v1.25h-1.2zM198.7 258.1h1.2v1.25h-1.2zM251.2 258.1h1.2v1.25h-1.2zM189.9 260.6h1.2v1.25h-1.2zM243.7 260.6h1.2v1.25h-1.2zM247.4 260.6h1.2v1.25h-1.2zM251.2 260.6h1.2v1.25h-1.2zM206.2 261.9h1.2v1.25h-1.2zM239.9 261.9h1.2v1.25h-1.2zM252.4 261.9h1.2v1.25h-1.2zM262.4 261.9h1.2v1.25h-1.2zM187.4 263.1h1.2v1.25h-1.2zM241.2 263.1h2.5v1.25h-2.5zM247.4 263.1h1.2v1.25h-1.2zM251.2 263.1h1.2v1.25h-1.2zM209.9 265.6h1.2v1.25h-1.2zM191.2 266.9h1.2v1.25h-1.2zM187.4 268.1h1.2v1.25h-1.2zM242.4 269.4h1.2v1.25h-1.2zM176.2 273.1h1.2v1.25h-1.2zM189.9 273.1h1.2v1.25h-1.2zM241.2 273.1h1.2v1.25h-1.2zM262.4 273.1h1.2v1.25h-1.2zM233.7 274.4h1.2v1.25h-1.2zM244.9 274.4h1.2v1.25h-1.2zM266.1 274.4h1.2v1.25h-1.2zM238.7 275.6h1.2v1.25h-1.2zM253.7 275.6h1.2v1.25h-1.2zM261.1 275.6h1.2v1.25h-1.2zM188.7 278.1h1.2v1.25h-1.2zM232.4 278.1h1.2v1.25h-1.2zM239.9 278.1h2.5v1.25h-2.5zM247.4 278.1h1.2v1.25h-1.2zM257.4 278.1h1.2v1.25h-1.2zM174.9 279.4h1.2v1.25h-1.2zM179.9 279.4h1.2v1.25h-1.2zM229.9 279.4h1.2v1.25h-1.2zM179.9 280.6h1.2v1.25h-1.2zM251.2 280.6h1.2v1.25h-1.2zM229.9 281.9h1.2v1.25h-1.2zM233.7 281.9h1.2v1.25h-1.2zM246.2 281.9h1.2v1.25h-1.2zM191.2 283.1h1.2v1.25h-1.2zM233.7 283.1h1.2v1.25h-1.2zM247.4 284.4h1.2v1.25h-1.2zM182.4 285.6h1.2v1.25h-1.2zM244.9 285.6h1.2v1.25h-1.2zM171.2 286.9h1.2v1.25h-1.2zM241.2 286.9h1.2v1.25h-1.2zM172.4 288.1h1.2v1.25h-1.2zM252.4 288.1h1.2v1.25h-1.2zM226.2 289.4h1.2v1.25h-1.2zM224.9 290.6h1.2v1.25h-1.2zM223.7 291.9h1.2v1.25h-1.2zM238.7 291.9h1.2v1.25h-1.2zM183.7 293.1h1.2v1.25h-1.2zM242.4 293.1h1.2v1.25h-1.2zM244.9 293.1h1.2v1.25h-1.2zM234.9 294.4h1.2v1.25h-1.2zM227.4 296.9h1.2v1.25h-1.2zM176.2 298.1h1.2v1.25h-1.2zM241.2 298.1h1.2v1.25h-1.2zM173.7 299.4h1.2v1.25h-1.2zM177.4 299.4h1.2v1.25h-1.2zM234.9 301.9h1.2v1.25h-1.2z" fill="#ff1818"/>
<path d="M196.2 249.4h1.2v1.25h-1.2zM189.9 250.7h1.2v1.25h-1.2zM197.4 253.2h1.2v1.25h-1.2zM199.9 254.4h1.2v1.25h-1.2zM194.9 256.9h1.2v1.25h-1.2zM246.2 256.9h1.2v1.25h-1.2zM258.6 258.1h1.2v1.25h-1.2zM244.9 259.4h1.2v1.25h-1.2zM199.9 260.6h1.2v1.25h-1.2zM253.7 260.6h1.2v1.25h-1.2zM258.6 260.6h1.2v1.25h-1.2zM189.9 261.9h1.2v1.25h-1.2zM248.7 261.9h1.2v1.25h-1.2zM251.2 261.9h1.2v1.25h-1.2zM256.1 263.1h1.2v1.25h-1.2zM189.9 264.4h1.2v1.25h-1.2zM249.9 264.4h1.2v1.25h-1.2zM252.4 264.4h1.2v1.25h-1.2zM254.9 264.4h1.2v1.25h-1.2zM259.9 264.4h2.5v1.25h-2.5zM204.9 265.6h1.2v1.25h-1.2zM241.2 265.6h1.2v1.25h-1.2zM243.7 265.6h1.2v1.25h-1.2zM184.9 266.9h1.2v1.25h-1.2zM189.9 266.9h1.2v1.25h-1.2zM256.1 266.9h1.2v1.25h-1.2zM258.6 266.9h1.2v1.25h-1.2zM238.7 268.1h1.2v1.25h-1.2zM247.4 269.4h1.2v1.25h-1.2zM264.9 269.4h1.2v1.25h-1.2zM179.9 270.6h1.2v1.25h-1.2zM241.2 270.6h1.2v1.25h-1.2zM187.4 271.9h1.2v1.25h-1.2zM192.4 271.9h1.2v1.25h-1.2zM239.9 271.9h1.2v1.25h-1.2zM252.4 271.9h1.2v1.25h-1.2zM262.4 271.9h2.5v1.25h-2.5zM193.7 273.1h1.2v1.25h-1.2zM266.1 273.1h1.2v1.25h-1.2zM174.9 274.4h1.2v1.25h-1.2zM198.7 274.4h1.2v1.25h-1.2zM241.2 274.4h1.2v1.25h-1.2zM189.9 275.6h1.2v1.25h-1.2zM193.7 275.6h1.2v1.25h-1.2zM199.9 275.6h1.2v1.25h-1.2zM232.4 275.6h1.2v1.25h-1.2zM232.4 276.9h1.2v1.25h-1.2zM237.4 276.9h1.2v1.25h-1.2zM249.9 276.9h1.2v1.25h-1.2zM189.9 278.1h1.2v1.25h-1.2zM254.9 278.1h1.2v1.25h-1.2zM232.4 279.4h1.2v1.25h-1.2zM237.4 279.4h1.2v1.25h-1.2zM254.9 279.4h1.2v1.25h-1.2zM176.2 280.6h1.2v1.25h-1.2zM181.2 280.6h1.2v1.25h-1.2zM232.4 280.6h1.2v1.25h-1.2zM237.4 280.6h1.2v1.25h-1.2zM244.9 280.6h1.2v1.25h-1.2zM232.4 281.9h1.2v1.25h-1.2zM237.4 281.9h1.2v1.25h-1.2zM247.4 281.9h2.5v1.25h-2.5zM174.9 283.1h1.2v1.25h-1.2zM228.7 283.1h1.2v1.25h-1.2zM172.4 284.4h1.2v1.25h-1.2zM233.7 284.4h1.2v1.25h-1.2zM238.7 284.4h1.2v1.25h-1.2zM244.9 284.4h1.2v1.25h-1.2zM229.9 285.6h1.2v1.25h-1.2zM247.4 285.6h1.2v1.25h-1.2zM252.4 285.6h1.2v1.25h-1.2zM177.4 286.9h1.2v1.25h-1.2zM223.7 286.9h1.2v1.25h-1.2zM237.4 286.9h1.2v1.25h-1.2zM182.4 289.4h1.2v1.25h-1.2zM236.2 289.4h1.2v1.25h-1.2zM169.9 290.6h1.2v1.25h-1.2zM233.7 290.6h1.2v1.25h-1.2zM221.2 291.9h1.2v1.25h-1.2zM243.7 293.1h1.2v1.25h-1.2zM247.4 293.1h1.2v1.25h-1.2zM176.2 294.4h2.5v1.25h-2.5zM217.4 294.4h1.2v1.25h-1.2zM224.9 294.4h1.2v1.25h-1.2zM221.2 295.6h1.2v1.25h-1.2zM237.4 295.6h1.2v1.25h-1.2zM228.7 296.9h1.2v1.25h-1.2zM233.7 296.9h2.5v1.25h-2.5zM223.7 299.4h1.2v1.25h-1.2zM224.9 300.6h1.2v1.25h-1.2zM238.7 301.9h1.2v1.25h-1.2zM231.2 303.1h1.2v1.25h-1.2z" fill="#40f020"/>
<path d="M192.4 250.7h1.2v1.25h-1.2zM196.2 250.7h1.2v1.25h-1.2zM197.4 251.9h1.2v1.25h-1.2zM199.9 253.2h1.2v1.25h-1.2zM191.2 256.9h1.2v1.25h-1.2zM201.2 256.9h1.2v1.25h-1.2zM251.2 256.9h1.2v1.25h-1.2zM193.7 258.1h1.2v1.25h-1.2zM244.9 258.1h1.2v1.25h-1.2zM206.2 260.6h1.2v1.25h-1.2zM212.4 260.6h1.2v1.25h-1.2zM246.2 261.9h1.2v1.25h-1.2zM202.4 263.1h1.2v1.25h-1.2zM204.9 263.1h1.2v1.25h-1.2zM209.9 263.1h1.2v1.25h-1.2zM187.4 264.4h1.2v1.25h-1.2zM209.9 264.4h1.2v1.25h-1.2zM187.4 265.6h1.2v1.25h-1.2zM251.2 265.6h1.2v1.25h-1.2zM188.7 266.9h1.2v1.25h-1.2zM202.4 266.9h1.2v1.25h-1.2zM239.9 266.9h1.2v1.25h-1.2zM191.2 268.1h1.2v1.25h-1.2zM207.4 268.1h1.2v1.25h-1.2zM237.4 268.1h1.2v1.25h-1.2zM239.9 268.1h1.2v1.25h-1.2zM196.2 269.4h1.2v1.25h-1.2zM199.9 273.1h1.2v1.25h-1.2zM177.4 274.4h1.2v1.25h-1.2zM181.2 274.4h1.2v1.25h-1.2zM172.4 275.6h2.5v1.25h-2.5zM178.7 275.6h1.2v1.25h-1.2zM194.9 276.9h1.2v1.25h-1.2zM259.9 278.1h1.2v1.25h-1.2zM184.9 279.4h1.2v1.25h-1.2zM182.4 280.6h1.2v1.25h-1.2zM192.4 280.6h1.2v1.25h-1.2zM238.7 280.6h1.2v1.25h-1.2zM242.4 281.9h1.2v1.25h-1.2zM248.7 284.4h1.2v1.25h-1.2zM242.4 285.6h1.2v1.25h-1.2zM252.4 286.9h1.2v1.25h-1.2zM173.7 288.1h1.2v1.25h-1.2zM177.4 288.1h1.2v1.25h-1.2zM246.2 288.1h1.2v1.25h-1.2zM172.4 289.4h1.2v1.25h-1.2zM176.2 289.4h1.2v1.25h-1.2zM239.9 289.4h1.2v1.25h-1.2zM239.9 290.6h1.2v1.25h-1.2zM169.9 291.9h1.2v1.25h-1.2zM174.9 291.9h1.2v1.25h-1.2zM224.9 291.9h1.2v1.25h-1.2zM247.4 291.9h1.2v1.25h-1.2zM169.9 293.1h1.2v1.25h-1.2zM177.4 293.1h1.2v1.25h-1.2zM222.4 293.1h1.2v1.25h-1.2zM243.7 294.4h1.2v1.25h-1.2zM174.9 295.6h1.2v1.25h-1.2zM171.2 296.9h1.2v1.25h-1.2zM231.2 296.9h1.2v1.25h-1.2zM174.9 300.6h1.2v1.25h-1.2zM217.4 300.6h1.2v1.25h-1.2zM234.9 300.6h1.2v1.25h-1.2zM239.9 300.6h1.2v1.25h-1.2z" fill="#40e8f0"/>
<path d="M181.3 242.9h7.5v7.5h-7.5zM188.8 242.9h7.5v7.5h-7.5zM196.3 242.9h7.5v7.5h-7.5zM203.8 250.3h7.5v7.5h-7.5zM173.8 257.8h7.5v7.5h-7.5zM181.3 257.8h7.5v7.5h-7.5zM173.8 280.1h7.5v7.5h-7.5zM181.3 280.1h7.5v7.5h-7.5zM166.3 295.1h7.5v7.5h-7.5zM166.3 302.5h7.5v7.5h-7.5z" fill="none" stroke="#e0921e"/>
<path d="M181.3 250.3h7.5v7.5h-7.5zM188.8 250.3h7.5v7.5h-7.5zM196.3 250.3h7.5v7.5h-7.5zM188.8 257.8h7.5v7.5h-7.5zM196.3 257.8h7.5v7.5h-7.5zM203.8 257.8h7.5v7.5h-7.5zM211.3 257.8h7.5v7.5h-7.5zM166.3 265.2h7.5v7.5h-7.5zM173.8 265.2h7.5v7.5h-7.5zM181.3 265.2h7.5v7.5h-7.5zM188.8 265.2h7.5v7.5h-7.5zM196.3 265.2h7.5v7.5h-7.5zM203.8 265.2h7.5v7.5h-7.5zM211.3 265.2h7.5v7.5h-7.5zM166.3 272.7h7.5v7.5h-7.5zM173.8 272.7h7.5v7.5h-7.5zM181.3 272.7h7.5v7.5h-7.5zM188.8 272.7h7.5v7.5h-7.5zM196.3 272.7h7.5v7.5h-7.5zM203.8 272.7h7.5v7.5h-7.5zM166.3 280.1h7.5v7.5h-7.5zM188.8 280.1h7.5v7.5h-7.5zM196.3 280.1h7.5v7.5h-7.5zM166.3 287.6h7.5v7.5h-7.5zM173.8 287.6h7.5v7.5h-7.5zM181.3 287.6h7.5v7.5h-7.5zM188.8 287.6h7.5v7.5h-7.5zM173.8 295.1h7.5v7.5h-7.5zM181.3 295.1h7.5v7.5h-7.5zM173.8 302.5h7.5v7.5h-7.5z" fill="none" stroke="#dc32dc"/>
<path d="M241.1 250.3h7.4v7.4h-7.4zM248.6 250.3h7.4v7.4h-7.4zM256.0 250.3h7.4v7.4h-7.4zM233.7 257.7h7.4v7.4h-7.4zM241.1 257.7h7.4v7.4h-7.4zM248.6 257.7h7.4v7.4h-7.4zM256.0 257.7h7.4v7.4h-7.4zM263.4 257.7h7.4v7.4h-7.4zM233.7 265.1h7.4v7.4h-7.4zM241.1 265.1h7.4v7.4h-7.4zM248.6 265.1h7.4v7.4h-7.4zM256.0 265.1h7.4v7.4h-7.4zM263.4 265.1h7.4v7.4h-7.4zM226.3 272.5h7.4v7.4h-7.4zM233.7 272.5h7.4v7.4h-7.4zM241.1 272.5h7.4v7.4h-7.4zM248.6 272.5h7.4v7.4h-7.4zM256.0 272.5h7.4v7.4h-7.4zM263.4 272.5h7.4v7.4h-7.4zM218.8 279.9h7.4v7.4h-7.4zM226.3 279.9h7.4v7.4h-7.4zM233.7 279.9h7.4v7.4h-7.4zM241.1 279.9h7.4v7.4h-7.4zM248.6 279.9h7.4v7.4h-7.4zM256.0 279.9h7.4v7.4h-7.4zM211.4 287.3h7.4v7.4h-7.4zM218.8 287.3h7.4v7.4h-7.4zM226.3 287.3h7.4v7.4h-7.4zM233.7 287.3h7.4v7.4h-7.4zM241.1 287.3h7.4v7.4h-7.4zM248.6 287.3h7.4v7.4h-7.4zM211.4 294.7h7.4v7.4h-7.4zM218.8 294.7h7.4v7.4h-7.4zM226.3 294.7h7.4v7.4h-7.4zM233.7 294.7h7.4v7.4h-7.4zM241.1 294.7h7.4v7.4h-7.4zM248.6 294.7h7.4v7.4h-7.4zM218.8 302.1h7.4v7.4h-7.4zM226.3 302.1h7.4v7.4h-7.4zM233.7 302.1h7.4v7.4h-7.4z" fill="none" stroke="#dc32dc"/></g></defs>
<polygon points="60.0,137.4 105.5,109.9 186.8,119.3 138.8,149.3" fill="#fff" stroke="#999" stroke-width="0.6"/>
<defs><pattern id="hep" width="4" height="4" patternUnits="userSpaceOnUse"><rect width="4" height="4" fill="#b59dcb"/><rect x="0" y="0" width="1.6" height="1.2" fill="#cbb9dc"/><rect x="2" y="2" width="1.2" height="1.2" fill="#a58bbd"/></pattern></defs>
<polygon points="68.8,134.5 71.2,132.1 79.3,128.1 88.9,124.1 98.5,120.1 108.2,116.8 117.8,113.6 124.2,112.8 127.4,114.4 130.7,119.3 129.1,122.5 121.0,124.1 113.0,125.7 103.4,128.1 92.1,131.3 82.5,134.5 74.5,136.1 69.6,136.1" fill="url(#hep)" stroke="#b9a3cf" stroke-width="0.8" stroke-linejoin="round"/>
<polygon points="102.4,140.6 104.6,137.2 113.0,133.7 124.2,129.7 135.5,126.5 146.7,123.3 158.0,121.3 162.0,122.5 163.6,125.7 162.0,130.5 156.4,132.9 146.7,135.0 135.5,137.8 124.2,140.6 113.0,142.8 105.0,143.4" fill="url(#hep)" stroke="#b9a3cf" stroke-width="0.8" stroke-linejoin="round"/>
<polygon points="60.0,101.3 103.1,73.0 186.8,81.9 137.8,113.3" fill="#1c1c1c"/>
<defs><pattern id="hexp" width="3.2" height="2.4" patternUnits="userSpaceOnUse"><rect width="3.2" height="2.4" fill="#e8e0f0"/><path d="M0,1.2 L0.8,0 L2.4,0 L3.2,1.2 L2.4,2.4 L0.8,2.4 z" fill="none" stroke="#9684ac" stroke-width="0.55"/></pattern></defs>
<polygon points="70.4,99.7 72.8,97.3 80.9,93.3 90.5,89.3 100.1,85.3 109.8,81.2 119.4,77.2 125.8,76.4 129.9,78.8 131.5,83.7 130.7,86.1 122.6,88.5 111.4,91.7 101.8,94.1 90.5,97.3 80.9,99.7 73.7,100.8 71.0,100.8" fill="url(#hexp)" stroke="#b8a8cc" stroke-width="0.6" stroke-linejoin="round"/>
<polygon points="103.4,103.7 106.6,101.3 114.6,98.1 124.2,94.9 135.5,91.7 146.7,88.5 158.0,85.3 162.8,85.7 166.0,89.3 165.2,95.7 159.6,98.9 149.9,100.5 138.7,102.1 127.4,103.7 116.2,105.3 108.2,106.1 104.2,105.7" fill="url(#hexp)" stroke="#b8a8cc" stroke-width="0.6" stroke-linejoin="round"/>
<polygon points="59.0,65.7 107.7,34.2 186.7,46.4 138.0,77.2" fill="#fff" stroke="#999" stroke-width="0.6"/>
<defs><clipPath id="gclip"><polygon points="59.0,65.7 107.7,34.2 186.7,46.4 138.0,77.2"/></clipPath></defs>
<defs><clipPath id="cpL"><polygon points="150,230 222,230 222,270 210,285 210,320 150,320"/></clipPath><clipPath id="cpR"><polygon points="222,230 290,230 290,320 210,320 210,285 222,270"/></clipPath></defs>
<g clip-path="url(#gclip)"><g transform="matrix(0.9389,-0.0495,-0.5969,0.3701,87.02,-38.68)"><g clip-path="url(#cpL)"><polygon points="166.9,293.3 168.0,281.8 170.3,273.8 173.8,268.1 179.5,264.6 182.9,258.9 184.1,253.2 188.7,246.3 193.2,243.4 196.7,245.2 203.5,248.6 210.4,253.2 215.0,257.8 217.3,262.4 213.9,266.9 210.4,272.7 205.8,277.3 197.8,281.8 194.4,286.4 189.8,291.0 186.4,296.7 181.8,302.5 178.3,305.9 172.6,304.8 169.2,301.3" fill="#7a2cf0" stroke="#7a2cf0" stroke-width="3" stroke-linejoin="round"/><use href="#inT" stroke-width="0.6"/><polygon points="166.9,293.3 168.0,281.8 170.3,273.8 173.8,268.1 179.5,264.6 182.9,258.9 184.1,253.2 188.7,246.3 193.2,243.4 196.7,245.2 203.5,248.6 210.4,253.2 215.0,257.8 217.3,262.4 213.9,266.9 210.4,272.7 205.8,277.3 197.8,281.8 194.4,286.4 189.8,291.0 186.4,296.7 181.8,302.5 178.3,305.9 172.6,304.8 169.2,301.3" fill="#2418e8" fill-opacity="0.4"/></g></g><g transform="matrix(1.0602,-0.1133,-0.3458,0.3170,-24.65,-1.26)"><g clip-path="url(#cpR)"><polygon points="214.9,298.0 218.3,291.1 225.2,284.2 231.0,277.3 235.5,269.3 239.0,262.4 243.6,255.5 249.3,250.9 255.0,253.2 261.9,259.0 267.7,264.7 270.5,270.4 267.7,276.2 261.9,281.9 256.2,287.6 250.5,293.4 245.9,299.1 240.1,303.7 231.0,306.0 221.8,306.0 217.2,303.7" fill="#f030f0" stroke="#f030f0" stroke-width="3" stroke-linejoin="round"/><use href="#inT" stroke-width="0.6"/></g></g></g>
<text x="171.88" y="63.8" font-size="10.17" fill="#333" textLength="47.77" lengthAdjust="spacingAndGlyphs">1 Grid Size</text>
<text x="177.37" y="73.5" font-size="10.03" fill="#333" textLength="33.20" lengthAdjust="spacingAndGlyphs">0.5mm</text>
<text x="210.00" y="70.9" font-size="7.00" fill="#333" textLength="4.40" lengthAdjust="spacingAndGlyphs">2</text>
<text x="172.75" y="100.9" font-size="10.03" fill="#333">1 Tile Size</text>
<text x="167.92" y="111.0" font-size="10.03" fill="#333" textLength="55.29" lengthAdjust="spacingAndGlyphs">112 x 112px</text>
<text x="186.40" y="8.3" font-size="10.17" fill="#222" textLength="48.16" lengthAdjust="spacingAndGlyphs">TIL+Tumor</text>
<line x1="183.1" y1="12.7" x2="236.1" y2="12.7" stroke="#333" stroke-width="1"/>
<text x="196.41" y="23.7" font-size="10.17" fill="#222" textLength="27.56" lengthAdjust="spacingAndGlyphs">Tumor</text>
<text x="238.56" y="17.0" font-size="13.08" fill="#222" textLength="28.67" lengthAdjust="spacingAndGlyphs">&gt; 0.5</text>
<text x="289.40" y="8.3" font-size="10.17" fill="#222" textLength="51.72" lengthAdjust="spacingAndGlyphs">TIL+Stroma</text>
<line x1="287.8" y1="12.7" x2="341.1" y2="12.7" stroke="#333" stroke-width="1"/>
<text x="298.04" y="23.8" font-size="10.17" fill="#222">Stroma</text>
<text x="343.56" y="17.0" font-size="13.08" fill="#222" textLength="28.98" lengthAdjust="spacingAndGlyphs">&gt; 0.5</text>
<text x="398.41" y="22.9" font-size="13.08" fill="#222">Otherwise</text>
<defs>
<linearGradient id="ag" gradientUnits="objectBoundingBox" x1="0" y1="0" x2="1" y2="0"><stop offset="0" stop-color="#eeeeee"/><stop offset="0.22" stop-color="#a8a8a8"/><stop offset="0.45" stop-color="#2e2e2e"/><stop offset="1" stop-color="#1a1a1a"/></linearGradient>
</defs>
<path d="M362,41 C390,23.2 466,17.5 490.5,70" fill="none" stroke="url(#ag)" stroke-width="2"/>
<path d="M496.5,76 L488.7,72.4 L494.9,67.6 z" fill="#1a1a1a"/>
<path d="M264,41 C292,23.2 368,17.5 392.5,70" fill="none" stroke="url(#ag)" stroke-width="2"/>
<path d="M398.5,76 L390.7,72.4 L396.9,67.6 z" fill="#1a1a1a"/>
<path d="M164,41 C192,23.2 268,17.5 292.5,70" fill="none" stroke="url(#ag)" stroke-width="2"/>
<path d="M298.5,76 L290.7,72.4 L296.9,67.6 z" fill="#1a1a1a"/>
<text x="264.87" y="74.6" font-size="12.79" fill="#222" textLength="21.72" lengthAdjust="spacingAndGlyphs">Yes</text>
<text x="365.89" y="74.6" font-size="12.79" fill="#222" textLength="20.47" lengthAdjust="spacingAndGlyphs">Yes</text>
<rect x="282.1" y="78.1" width="34.7" height="34.7" fill="#ff33ff"/>
<path d="M284.00 80.00h1.97v1.97h-1.97zM285.93 80.00h1.97v1.97h-1.97zM287.86 80.00h1.97v1.97h-1.97zM289.79 80.00h1.97v1.97h-1.97zM291.73 80.00h1.97v1.97h-1.97zM293.66 80.00h1.97v1.97h-1.97zM297.52 80.00h1.97v1.97h-1.97zM301.38 80.00h1.97v1.97h-1.97zM303.31 80.00h1.97v1.97h-1.97zM305.24 80.00h1.97v1.97h-1.97zM284.00 81.93h1.97v1.97h-1.97zM285.93 81.93h1.97v1.97h-1.97zM287.86 81.93h1.97v1.97h-1.97zM289.79 81.93h1.97v1.97h-1.97zM291.73 81.93h1.97v1.97h-1.97zM293.66 81.93h1.97v1.97h-1.97zM295.59 81.93h1.97v1.97h-1.97zM303.31 81.93h1.97v1.97h-1.97zM309.11 81.93h1.97v1.97h-1.97zM312.97 81.93h1.97v1.97h-1.97zM284.00 83.86h1.97v1.97h-1.97zM285.93 83.86h1.97v1.97h-1.97zM287.86 83.86h1.97v1.97h-1.97zM289.79 83.86h1.97v1.97h-1.97zM291.73 83.86h1.97v1.97h-1.97zM293.66 83.86h1.97v1.97h-1.97zM299.45 83.86h1.97v1.97h-1.97zM303.31 83.86h1.97v1.97h-1.97zM284.00 85.79h1.97v1.97h-1.97zM285.93 85.79h1.97v1.97h-1.97zM287.86 85.79h1.97v1.97h-1.97zM289.79 85.79h1.97v1.97h-1.97zM293.66 85.79h1.97v1.97h-1.97zM301.38 85.79h1.97v1.97h-1.97zM303.31 85.79h1.97v1.97h-1.97zM305.24 85.79h1.97v1.97h-1.97zM284.00 87.72h1.97v1.97h-1.97zM285.93 87.72h1.97v1.97h-1.97zM289.79 87.72h1.97v1.97h-1.97zM305.24 87.72h1.97v1.97h-1.97zM307.18 87.72h1.97v1.97h-1.97zM311.04 87.72h1.97v1.97h-1.97zM312.97 87.72h1.97v1.97h-1.97zM284.00 89.66h1.97v1.97h-1.97zM285.93 89.66h1.97v1.97h-1.97zM289.79 89.66h1.97v1.97h-1.97zM309.11 89.66h1.97v1.97h-1.97zM312.97 89.66h1.97v1.97h-1.97zM284.00 91.59h1.97v1.97h-1.97zM299.45 91.59h1.97v1.97h-1.97zM311.04 91.59h1.97v1.97h-1.97zM312.97 91.59h1.97v1.97h-1.97zM284.00 93.52h1.97v1.97h-1.97zM305.24 93.52h1.97v1.97h-1.97zM309.11 93.52h1.97v1.97h-1.97zM312.97 93.52h1.97v1.97h-1.97zM284.00 95.45h1.97v1.97h-1.97zM285.93 95.45h1.97v1.97h-1.97zM303.31 95.45h1.97v1.97h-1.97zM305.24 95.45h1.97v1.97h-1.97zM307.18 95.45h1.97v1.97h-1.97zM311.04 95.45h1.97v1.97h-1.97zM312.97 95.45h1.97v1.97h-1.97zM284.00 97.38h1.97v1.97h-1.97zM303.31 97.38h1.97v1.97h-1.97zM305.24 97.38h1.97v1.97h-1.97zM312.97 97.38h1.97v1.97h-1.97zM284.00 99.31h1.97v1.97h-1.97zM305.24 99.31h1.97v1.97h-1.97zM307.18 99.31h1.97v1.97h-1.97zM312.97 99.31h1.97v1.97h-1.97zM284.00 101.24h1.97v1.97h-1.97zM285.93 101.24h1.97v1.97h-1.97zM295.59 101.24h1.97v1.97h-1.97zM301.38 101.24h1.97v1.97h-1.97zM305.24 101.24h1.97v1.97h-1.97zM309.11 101.24h1.97v1.97h-1.97zM311.04 101.24h1.97v1.97h-1.97zM312.97 101.24h1.97v1.97h-1.97zM284.00 103.17h1.97v1.97h-1.97zM285.93 103.17h1.97v1.97h-1.97zM287.86 103.17h1.97v1.97h-1.97zM303.31 103.17h1.97v1.97h-1.97zM305.24 103.17h1.97v1.97h-1.97zM307.18 103.17h1.97v1.97h-1.97zM311.04 103.17h1.97v1.97h-1.97zM312.97 103.17h1.97v1.97h-1.97zM284.00 105.11h1.97v1.97h-1.97zM291.73 105.11h1.97v1.97h-1.97zM293.66 105.11h1.97v1.97h-1.97zM295.59 105.11h1.97v1.97h-1.97zM297.52 105.11h1.97v1.97h-1.97zM299.45 105.11h1.97v1.97h-1.97zM301.38 105.11h1.97v1.97h-1.97zM303.31 105.11h1.97v1.97h-1.97zM305.24 105.11h1.97v1.97h-1.97zM307.18 105.11h1.97v1.97h-1.97zM309.11 105.11h1.97v1.97h-1.97zM312.97 105.11h1.97v1.97h-1.97zM291.73 107.04h1.97v1.97h-1.97zM293.66 107.04h1.97v1.97h-1.97zM295.59 107.04h1.97v1.97h-1.97zM297.52 107.04h1.97v1.97h-1.97zM299.45 107.04h1.97v1.97h-1.97zM301.38 107.04h1.97v1.97h-1.97zM303.31 107.04h1.97v1.97h-1.97zM305.24 107.04h1.97v1.97h-1.97zM307.18 107.04h1.97v1.97h-1.97zM291.73 108.97h1.97v1.97h-1.97zM293.66 108.97h1.97v1.97h-1.97zM295.59 108.97h1.97v1.97h-1.97zM297.52 108.97h1.97v1.97h-1.97zM299.45 108.97h1.97v1.97h-1.97zM301.38 108.97h1.97v1.97h-1.97zM303.31 108.97h1.97v1.97h-1.97zM305.24 108.97h1.97v1.97h-1.97zM307.18 108.97h1.97v1.97h-1.97z" fill="#ff22ff"/>
<path d="M295.59 80.00h1.97v1.97h-1.97zM299.45 80.00h1.97v1.97h-1.97zM297.52 81.93h1.97v1.97h-1.97zM299.45 81.93h1.97v1.97h-1.97zM295.59 83.86h1.97v1.97h-1.97zM297.52 83.86h1.97v1.97h-1.97zM295.59 85.79h1.97v1.97h-1.97zM297.52 85.79h1.97v1.97h-1.97z" fill="#050505"/>
<path d="M307.18 80.00h1.97v1.97h-1.97zM309.11 80.00h1.97v1.97h-1.97zM311.04 80.00h1.97v1.97h-1.97zM312.97 80.00h1.97v1.97h-1.97zM307.18 81.93h1.97v1.97h-1.97zM311.04 81.93h1.97v1.97h-1.97zM307.18 83.86h1.97v1.97h-1.97zM309.11 83.86h1.97v1.97h-1.97zM311.04 83.86h1.97v1.97h-1.97zM312.97 83.86h1.97v1.97h-1.97zM307.18 85.79h1.97v1.97h-1.97zM309.11 85.79h1.97v1.97h-1.97zM311.04 85.79h1.97v1.97h-1.97zM312.97 85.79h1.97v1.97h-1.97zM301.38 89.66h1.97v1.97h-1.97zM301.38 91.59h1.97v1.97h-1.97zM303.31 91.59h1.97v1.97h-1.97zM309.11 103.17h1.97v1.97h-1.97zM285.93 105.11h1.97v1.97h-1.97zM289.79 105.11h1.97v1.97h-1.97zM311.04 105.11h1.97v1.97h-1.97zM284.00 107.04h1.97v1.97h-1.97zM285.93 107.04h1.97v1.97h-1.97zM287.86 107.04h1.97v1.97h-1.97zM289.79 107.04h1.97v1.97h-1.97zM309.11 107.04h1.97v1.97h-1.97zM311.04 107.04h1.97v1.97h-1.97zM312.97 107.04h1.97v1.97h-1.97zM284.00 108.97h1.97v1.97h-1.97zM285.93 108.97h1.97v1.97h-1.97zM287.86 108.97h1.97v1.97h-1.97zM309.11 108.97h1.97v1.97h-1.97zM311.04 108.97h1.97v1.97h-1.97zM312.97 108.97h1.97v1.97h-1.97z" fill="#ff1a10"/>
<path d="M301.38 81.93h1.97v1.97h-1.97zM305.24 81.93h1.97v1.97h-1.97zM301.38 83.86h1.97v1.97h-1.97zM305.24 83.86h1.97v1.97h-1.97zM291.73 85.79h1.97v1.97h-1.97zM299.45 85.79h1.97v1.97h-1.97zM287.86 87.72h1.97v1.97h-1.97zM291.73 87.72h1.97v1.97h-1.97zM293.66 87.72h1.97v1.97h-1.97zM295.59 87.72h1.97v1.97h-1.97zM297.52 87.72h1.97v1.97h-1.97zM299.45 87.72h1.97v1.97h-1.97zM301.38 87.72h1.97v1.97h-1.97zM303.31 87.72h1.97v1.97h-1.97zM309.11 87.72h1.97v1.97h-1.97zM287.86 89.66h1.97v1.97h-1.97zM291.73 89.66h1.97v1.97h-1.97zM293.66 89.66h1.97v1.97h-1.97zM295.59 89.66h1.97v1.97h-1.97zM297.52 89.66h1.97v1.97h-1.97zM299.45 89.66h1.97v1.97h-1.97zM303.31 89.66h1.97v1.97h-1.97zM305.24 89.66h1.97v1.97h-1.97zM307.18 89.66h1.97v1.97h-1.97zM311.04 89.66h1.97v1.97h-1.97zM285.93 91.59h1.97v1.97h-1.97zM287.86 91.59h1.97v1.97h-1.97zM289.79 91.59h1.97v1.97h-1.97zM291.73 91.59h1.97v1.97h-1.97zM293.66 91.59h1.97v1.97h-1.97zM295.59 91.59h1.97v1.97h-1.97zM297.52 91.59h1.97v1.97h-1.97zM305.24 91.59h1.97v1.97h-1.97zM307.18 91.59h1.97v1.97h-1.97zM309.11 91.59h1.97v1.97h-1.97zM285.93 93.52h1.97v1.97h-1.97zM287.86 93.52h1.97v1.97h-1.97zM289.79 93.52h1.97v1.97h-1.97zM291.73 93.52h1.97v1.97h-1.97zM293.66 93.52h1.97v1.97h-1.97zM295.59 93.52h1.97v1.97h-1.97zM297.52 93.52h1.97v1.97h-1.97zM299.45 93.52h1.97v1.97h-1.97zM301.38 93.52h1.97v1.97h-1.97zM303.31 93.52h1.97v1.97h-1.97zM307.18 93.52h1.97v1.97h-1.97zM311.04 93.52h1.97v1.97h-1.97zM287.86 95.45h1.97v1.97h-1.97zM289.79 95.45h1.97v1.97h-1.97zM291.73 95.45h1.97v1.97h-1.97zM293.66 95.45h1.97v1.97h-1.97zM295.59 95.45h1.97v1.97h-1.97zM297.52 95.45h1.97v1.97h-1.97zM299.45 95.45h1.97v1.97h-1.97zM301.38 95.45h1.97v1.97h-1.97zM309.11 95.45h1.97v1.97h-1.97zM285.93 97.38h1.97v1.97h-1.97zM287.86 97.38h1.97v1.97h-1.97zM289.79 97.38h1.97v1.97h-1.97zM291.73 97.38h1.97v1.97h-1.97zM293.66 97.38h1.97v1.97h-1.97zM295.59 97.38h1.97v1.97h-1.97zM297.52 97.38h1.97v1.97h-1.97zM299.45 97.38h1.97v1.97h-1.97zM301.38 97.38h1.97v1.97h-1.97zM307.18 97.38h1.97v1.97h-1.97zM309.11 97.38h1.97v1.97h-1.97zM311.04 97.38h1.97v1.97h-1.97zM285.93 99.31h1.97v1.97h-1.97zM287.86 99.31h1.97v1.97h-1.97zM289.79 99.31h1.97v1.97h-1.97zM291.73 99.31h1.97v1.97h-1.97zM293.66 99.31h1.97v1.97h-1.97zM295.59 99.31h1.97v1.97h-1.97zM297.52 99.31h1.97v1.97h-1.97zM299.45 99.31h1.97v1.97h-1.97zM301.38 99.31h1.97v1.97h-1.97zM303.31 99.31h1.97v1.97h-1.97zM309.11 99.31h1.97v1.97h-1.97zM311.04 99.31h1.97v1.97h-1.97zM287.86 101.24h1.97v1.97h-1.97zM289.79 101.24h1.97v1.97h-1.97zM291.73 101.24h1.97v1.97h-1.97zM293.66 101.24h1.97v1.97h-1.97zM297.52 101.24h1.97v1.97h-1.97zM299.45 101.24h1.97v1.97h-1.97zM303.31 101.24h1.97v1.97h-1.97zM289.79 103.17h1.97v1.97h-1.97zM291.73 103.17h1.97v1.97h-1.97zM293.66 103.17h1.97v1.97h-1.97zM295.59 103.17h1.97v1.97h-1.97zM297.52 103.17h1.97v1.97h-1.97zM299.45 103.17h1.97v1.97h-1.97zM301.38 103.17h1.97v1.97h-1.97z" fill="#1a10ff"/>
<path d="M307.18 101.24h1.97v1.97h-1.97z" fill="#40f0f0"/>
<path d="M287.86 105.11h1.97v1.97h-1.97zM289.79 108.97h1.97v1.97h-1.97z" fill="#f4f040"/>
<rect x="382.4" y="78.4" width="34.4" height="34.4" fill="#eba23a"/>
<path d="M384.10 80.10h1.98v1.98h-1.98zM386.04 80.10h1.98v1.98h-1.98zM387.97 80.10h1.98v1.98h-1.98zM389.91 80.10h1.98v1.98h-1.98zM393.79 80.10h1.98v1.98h-1.98zM395.72 80.10h1.98v1.98h-1.98zM397.66 80.10h1.98v1.98h-1.98zM399.60 80.10h1.98v1.98h-1.98zM401.54 80.10h1.98v1.98h-1.98zM403.47 80.10h1.98v1.98h-1.98zM405.41 80.10h1.98v1.98h-1.98zM407.35 80.10h1.98v1.98h-1.98zM413.16 80.10h1.98v1.98h-1.98zM384.10 82.04h1.98v1.98h-1.98zM386.04 82.04h1.98v1.98h-1.98zM387.97 82.04h1.98v1.98h-1.98zM389.91 82.04h1.98v1.98h-1.98zM391.85 82.04h1.98v1.98h-1.98zM393.79 82.04h1.98v1.98h-1.98zM395.72 82.04h1.98v1.98h-1.98zM397.66 82.04h1.98v1.98h-1.98zM399.60 82.04h1.98v1.98h-1.98zM401.54 82.04h1.98v1.98h-1.98zM403.47 82.04h1.98v1.98h-1.98zM405.41 82.04h1.98v1.98h-1.98zM407.35 82.04h1.98v1.98h-1.98zM384.10 83.98h1.98v1.98h-1.98zM386.04 83.98h1.98v1.98h-1.98zM391.85 83.98h1.98v1.98h-1.98zM393.79 83.98h1.98v1.98h-1.98zM395.72 83.98h1.98v1.98h-1.98zM397.66 83.98h1.98v1.98h-1.98zM399.60 83.98h1.98v1.98h-1.98zM401.54 83.98h1.98v1.98h-1.98zM403.47 83.98h1.98v1.98h-1.98zM405.41 83.98h1.98v1.98h-1.98zM407.35 83.98h1.98v1.98h-1.98zM411.22 83.98h1.98v1.98h-1.98zM386.04 85.91h1.98v1.98h-1.98zM391.85 85.91h1.98v1.98h-1.98zM393.79 85.91h1.98v1.98h-1.98zM395.72 85.91h1.98v1.98h-1.98zM397.66 85.91h1.98v1.98h-1.98zM399.60 85.91h1.98v1.98h-1.98zM401.54 85.91h1.98v1.98h-1.98zM403.47 85.91h1.98v1.98h-1.98zM405.41 85.91h1.98v1.98h-1.98zM407.35 85.91h1.98v1.98h-1.98zM384.10 87.85h1.98v1.98h-1.98zM389.91 87.85h1.98v1.98h-1.98zM391.85 87.85h1.98v1.98h-1.98zM393.79 87.85h1.98v1.98h-1.98zM395.72 87.85h1.98v1.98h-1.98zM397.66 87.85h1.98v1.98h-1.98zM399.60 87.85h1.98v1.98h-1.98zM401.54 87.85h1.98v1.98h-1.98zM405.41 87.85h1.98v1.98h-1.98zM407.35 87.85h1.98v1.98h-1.98zM409.29 87.85h1.98v1.98h-1.98zM411.22 87.85h1.98v1.98h-1.98zM413.16 87.85h1.98v1.98h-1.98zM387.97 89.79h1.98v1.98h-1.98zM397.66 89.79h1.98v1.98h-1.98zM399.60 89.79h1.98v1.98h-1.98zM401.54 89.79h1.98v1.98h-1.98zM403.47 89.79h1.98v1.98h-1.98zM405.41 89.79h1.98v1.98h-1.98zM407.35 89.79h1.98v1.98h-1.98zM409.29 89.79h1.98v1.98h-1.98zM411.22 89.79h1.98v1.98h-1.98zM397.66 91.73h1.98v1.98h-1.98zM399.60 91.73h1.98v1.98h-1.98zM405.41 91.73h1.98v1.98h-1.98zM407.35 91.73h1.98v1.98h-1.98zM409.29 91.73h1.98v1.98h-1.98zM413.16 91.73h1.98v1.98h-1.98zM384.10 93.66h1.98v1.98h-1.98zM386.04 93.66h1.98v1.98h-1.98zM395.72 93.66h1.98v1.98h-1.98zM397.66 93.66h1.98v1.98h-1.98zM399.60 93.66h1.98v1.98h-1.98zM401.54 93.66h1.98v1.98h-1.98zM405.41 93.66h1.98v1.98h-1.98zM407.35 93.66h1.98v1.98h-1.98zM409.29 93.66h1.98v1.98h-1.98zM411.22 93.66h1.98v1.98h-1.98zM413.16 93.66h1.98v1.98h-1.98zM393.79 95.60h1.98v1.98h-1.98zM395.72 95.60h1.98v1.98h-1.98zM399.60 95.60h1.98v1.98h-1.98zM403.47 95.60h1.98v1.98h-1.98zM405.41 95.60h1.98v1.98h-1.98zM407.35 95.60h1.98v1.98h-1.98zM409.29 95.60h1.98v1.98h-1.98zM411.22 95.60h1.98v1.98h-1.98zM413.16 95.60h1.98v1.98h-1.98zM384.10 97.54h1.98v1.98h-1.98zM386.04 97.54h1.98v1.98h-1.98zM389.91 97.54h1.98v1.98h-1.98zM391.85 97.54h1.98v1.98h-1.98zM393.79 97.54h1.98v1.98h-1.98zM395.72 97.54h1.98v1.98h-1.98zM397.66 97.54h1.98v1.98h-1.98zM399.60 97.54h1.98v1.98h-1.98zM401.54 97.54h1.98v1.98h-1.98zM409.29 97.54h1.98v1.98h-1.98zM413.16 97.54h1.98v1.98h-1.98zM384.10 99.48h1.98v1.98h-1.98zM387.97 99.48h1.98v1.98h-1.98zM389.91 99.48h1.98v1.98h-1.98zM393.79 99.48h1.98v1.98h-1.98zM399.60 99.48h1.98v1.98h-1.98zM411.22 99.48h1.98v1.98h-1.98zM413.16 99.48h1.98v1.98h-1.98zM386.04 101.41h1.98v1.98h-1.98zM387.97 101.41h1.98v1.98h-1.98zM389.91 101.41h1.98v1.98h-1.98zM403.47 101.41h1.98v1.98h-1.98zM411.22 101.41h1.98v1.98h-1.98zM413.16 101.41h1.98v1.98h-1.98zM387.97 103.35h1.98v1.98h-1.98zM389.91 103.35h1.98v1.98h-1.98zM409.29 103.35h1.98v1.98h-1.98zM411.22 103.35h1.98v1.98h-1.98zM395.72 105.29h1.98v1.98h-1.98zM403.47 105.29h1.98v1.98h-1.98zM409.29 105.29h1.98v1.98h-1.98zM411.22 105.29h1.98v1.98h-1.98zM409.29 107.23h1.98v1.98h-1.98zM411.22 107.23h1.98v1.98h-1.98zM403.47 109.16h1.98v1.98h-1.98zM409.29 109.16h1.98v1.98h-1.98zM413.16 109.16h1.98v1.98h-1.98z" fill="#55f20a"/>
<path d="M391.85 80.10h1.98v1.98h-1.98zM384.10 85.91h1.98v1.98h-1.98zM386.04 87.85h1.98v1.98h-1.98zM387.97 87.85h1.98v1.98h-1.98zM403.47 87.85h1.98v1.98h-1.98zM384.10 89.79h1.98v1.98h-1.98zM413.16 89.79h1.98v1.98h-1.98zM384.10 91.73h1.98v1.98h-1.98zM401.54 91.73h1.98v1.98h-1.98zM403.47 91.73h1.98v1.98h-1.98zM411.22 91.73h1.98v1.98h-1.98zM403.47 93.66h1.98v1.98h-1.98zM384.10 95.60h1.98v1.98h-1.98zM397.66 95.60h1.98v1.98h-1.98z" fill="#f4f040"/>
<path d="M409.29 80.10h1.98v1.98h-1.98zM411.22 80.10h1.98v1.98h-1.98zM409.29 82.04h1.98v1.98h-1.98zM411.22 82.04h1.98v1.98h-1.98zM413.16 82.04h1.98v1.98h-1.98zM387.97 83.98h1.98v1.98h-1.98zM389.91 83.98h1.98v1.98h-1.98zM409.29 83.98h1.98v1.98h-1.98zM413.16 83.98h1.98v1.98h-1.98zM387.97 85.91h1.98v1.98h-1.98zM389.91 85.91h1.98v1.98h-1.98zM409.29 85.91h1.98v1.98h-1.98zM411.22 85.91h1.98v1.98h-1.98zM413.16 85.91h1.98v1.98h-1.98z" fill="#ff1a10"/>
<path d="M386.04 89.79h1.98v1.98h-1.98zM386.04 91.73h1.98v1.98h-1.98zM387.97 91.73h1.98v1.98h-1.98zM387.97 93.66h1.98v1.98h-1.98zM386.04 95.60h1.98v1.98h-1.98zM387.97 95.60h1.98v1.98h-1.98zM389.91 95.60h1.98v1.98h-1.98zM391.85 95.60h1.98v1.98h-1.98zM387.97 97.54h1.98v1.98h-1.98zM405.41 97.54h1.98v1.98h-1.98zM403.47 99.48h1.98v1.98h-1.98zM405.41 99.48h1.98v1.98h-1.98zM405.41 101.41h1.98v1.98h-1.98zM405.41 103.35h1.98v1.98h-1.98zM407.35 103.35h1.98v1.98h-1.98zM405.41 105.29h1.98v1.98h-1.98zM407.35 105.29h1.98v1.98h-1.98zM403.47 107.23h1.98v1.98h-1.98zM405.41 107.23h1.98v1.98h-1.98zM407.35 107.23h1.98v1.98h-1.98z" fill="#1a10ff"/>
<path d="M389.91 89.79h1.98v1.98h-1.98zM391.85 89.79h1.98v1.98h-1.98zM389.91 91.73h1.98v1.98h-1.98zM391.85 91.73h1.98v1.98h-1.98zM393.79 91.73h1.98v1.98h-1.98zM389.91 93.66h1.98v1.98h-1.98zM391.85 93.66h1.98v1.98h-1.98zM393.79 93.66h1.98v1.98h-1.98z" fill="#ff22ff"/>
<path d="M393.79 89.79h1.98v1.98h-1.98zM395.72 89.79h1.98v1.98h-1.98zM395.72 91.73h1.98v1.98h-1.98zM407.35 99.48h1.98v1.98h-1.98zM405.41 109.16h1.98v1.98h-1.98z" fill="#40f0f0"/>
<path d="M401.54 95.60h1.98v1.98h-1.98zM403.47 97.54h1.98v1.98h-1.98zM407.35 97.54h1.98v1.98h-1.98zM411.22 97.54h1.98v1.98h-1.98zM386.04 99.48h1.98v1.98h-1.98zM391.85 99.48h1.98v1.98h-1.98zM395.72 99.48h1.98v1.98h-1.98zM397.66 99.48h1.98v1.98h-1.98zM401.54 99.48h1.98v1.98h-1.98zM409.29 99.48h1.98v1.98h-1.98zM384.10 101.41h1.98v1.98h-1.98zM391.85 101.41h1.98v1.98h-1.98zM393.79 101.41h1.98v1.98h-1.98zM395.72 101.41h1.98v1.98h-1.98zM397.66 101.41h1.98v1.98h-1.98zM399.60 101.41h1.98v1.98h-1.98zM401.54 101.41h1.98v1.98h-1.98zM407.35 101.41h1.98v1.98h-1.98zM409.29 101.41h1.98v1.98h-1.98zM384.10 103.35h1.98v1.98h-1.98zM386.04 103.35h1.98v1.98h-1.98zM391.85 103.35h1.98v1.98h-1.98zM393.79 103.35h1.98v1.98h-1.98zM395.72 103.35h1.98v1.98h-1.98zM397.66 103.35h1.98v1.98h-1.98zM399.60 103.35h1.98v1.98h-1.98zM401.54 103.35h1.98v1.98h-1.98zM403.47 103.35h1.98v1.98h-1.98zM413.16 103.35h1.98v1.98h-1.98zM384.10 105.29h1.98v1.98h-1.98zM386.04 105.29h1.98v1.98h-1.98zM387.97 105.29h1.98v1.98h-1.98zM389.91 105.29h1.98v1.98h-1.98zM391.85 105.29h1.98v1.98h-1.98zM393.79 105.29h1.98v1.98h-1.98zM397.66 105.29h1.98v1.98h-1.98zM399.60 105.29h1.98v1.98h-1.98zM401.54 105.29h1.98v1.98h-1.98zM413.16 105.29h1.98v1.98h-1.98zM384.10 107.23h1.98v1.98h-1.98zM386.04 107.23h1.98v1.98h-1.98zM387.97 107.23h1.98v1.98h-1.98zM389.91 107.23h1.98v1.98h-1.98zM391.85 107.23h1.98v1.98h-1.98zM393.79 107.23h1.98v1.98h-1.98zM395.72 107.23h1.98v1.98h-1.98zM397.66 107.23h1.98v1.98h-1.98zM399.60 107.23h1.98v1.98h-1.98zM401.54 107.23h1.98v1.98h-1.98zM413.16 107.23h1.98v1.98h-1.98zM384.10 109.16h1.98v1.98h-1.98zM386.04 109.16h1.98v1.98h-1.98zM387.97 109.16h1.98v1.98h-1.98zM389.91 109.16h1.98v1.98h-1.98zM391.85 109.16h1.98v1.98h-1.98zM393.79 109.16h1.98v1.98h-1.98zM395.72 109.16h1.98v1.98h-1.98zM397.66 109.16h1.98v1.98h-1.98zM399.60 109.16h1.98v1.98h-1.98zM401.54 109.16h1.98v1.98h-1.98zM407.35 109.16h1.98v1.98h-1.98zM411.22 109.16h1.98v1.98h-1.98z" fill="#050505"/>
<rect x="476.3" y="77.8" width="36" height="35.8" fill="#8ef2ff"/>
<path d="M478.10 79.60h2.06v2.05h-2.06zM480.12 79.60h2.06v2.05h-2.06zM482.15 79.60h2.06v2.05h-2.06zM484.18 79.60h2.06v2.05h-2.06zM486.20 79.60h2.06v2.05h-2.06zM488.23 79.60h2.06v2.05h-2.06zM494.30 79.60h2.06v2.05h-2.06zM496.33 79.60h2.06v2.05h-2.06zM498.35 79.60h2.06v2.05h-2.06zM484.18 81.61h2.06v2.05h-2.06zM486.20 81.61h2.06v2.05h-2.06zM490.25 81.61h2.06v2.05h-2.06zM494.30 81.61h2.06v2.05h-2.06zM500.38 81.61h2.06v2.05h-2.06zM506.45 81.61h2.06v2.05h-2.06zM508.48 81.61h2.06v2.05h-2.06zM480.12 83.62h2.06v2.05h-2.06zM484.18 83.62h2.06v2.05h-2.06zM488.23 83.62h2.06v2.05h-2.06zM490.25 83.62h2.06v2.05h-2.06zM492.28 83.62h2.06v2.05h-2.06zM494.30 83.62h2.06v2.05h-2.06zM508.48 83.62h2.06v2.05h-2.06zM486.20 85.64h2.06v2.05h-2.06zM494.30 85.64h2.06v2.05h-2.06zM498.35 85.64h2.06v2.05h-2.06zM502.40 85.64h2.06v2.05h-2.06zM504.43 85.64h2.06v2.05h-2.06zM508.48 85.64h2.06v2.05h-2.06zM488.23 87.65h2.06v2.05h-2.06zM492.28 87.65h2.06v2.05h-2.06zM494.30 87.65h2.06v2.05h-2.06zM496.33 87.65h2.06v2.05h-2.06zM504.43 87.65h2.06v2.05h-2.06zM508.48 87.65h2.06v2.05h-2.06zM478.10 89.66h2.06v2.05h-2.06zM480.12 89.66h2.06v2.05h-2.06zM484.18 89.66h2.06v2.05h-2.06zM490.25 89.66h2.06v2.05h-2.06zM492.28 89.66h2.06v2.05h-2.06zM496.33 89.66h2.06v2.05h-2.06zM478.10 91.67h2.06v2.05h-2.06zM480.12 91.67h2.06v2.05h-2.06zM486.20 91.67h2.06v2.05h-2.06zM496.33 91.67h2.06v2.05h-2.06zM504.43 91.67h2.06v2.05h-2.06zM478.10 93.69h2.06v2.05h-2.06zM482.15 93.69h2.06v2.05h-2.06zM484.18 93.69h2.06v2.05h-2.06zM486.20 93.69h2.06v2.05h-2.06zM488.23 93.69h2.06v2.05h-2.06zM496.33 93.69h2.06v2.05h-2.06zM502.40 93.69h2.06v2.05h-2.06zM504.43 93.69h2.06v2.05h-2.06zM506.45 93.69h2.06v2.05h-2.06zM480.12 95.70h2.06v2.05h-2.06zM492.28 95.70h2.06v2.05h-2.06zM494.30 95.70h2.06v2.05h-2.06zM496.33 95.70h2.06v2.05h-2.06zM506.45 95.70h2.06v2.05h-2.06zM508.48 95.70h2.06v2.05h-2.06zM480.12 97.71h2.06v2.05h-2.06zM482.15 97.71h2.06v2.05h-2.06zM484.18 97.71h2.06v2.05h-2.06zM486.20 97.71h2.06v2.05h-2.06zM488.23 97.71h2.06v2.05h-2.06zM492.28 97.71h2.06v2.05h-2.06zM498.35 97.71h2.06v2.05h-2.06zM500.38 97.71h2.06v2.05h-2.06zM504.43 97.71h2.06v2.05h-2.06zM506.45 97.71h2.06v2.05h-2.06zM480.12 99.72h2.06v2.05h-2.06zM484.18 99.72h2.06v2.05h-2.06zM488.23 99.72h2.06v2.05h-2.06zM490.25 99.72h2.06v2.05h-2.06zM492.28 99.72h2.06v2.05h-2.06zM494.30 99.72h2.06v2.05h-2.06zM496.33 99.72h2.06v2.05h-2.06zM498.35 99.72h2.06v2.05h-2.06zM500.38 99.72h2.06v2.05h-2.06zM504.43 99.72h2.06v2.05h-2.06zM506.45 99.72h2.06v2.05h-2.06zM508.48 99.72h2.06v2.05h-2.06zM478.10 101.74h2.06v2.05h-2.06zM480.12 101.74h2.06v2.05h-2.06zM482.15 101.74h2.06v2.05h-2.06zM484.18 101.74h2.06v2.05h-2.06zM488.23 101.74h2.06v2.05h-2.06zM490.25 101.74h2.06v2.05h-2.06zM492.28 101.74h2.06v2.05h-2.06zM494.30 101.74h2.06v2.05h-2.06zM496.33 101.74h2.06v2.05h-2.06zM498.35 101.74h2.06v2.05h-2.06zM502.40 101.74h2.06v2.05h-2.06zM504.43 101.74h2.06v2.05h-2.06zM506.45 101.74h2.06v2.05h-2.06zM508.48 101.74h2.06v2.05h-2.06zM478.10 103.75h2.06v2.05h-2.06zM480.12 103.75h2.06v2.05h-2.06zM482.15 103.75h2.06v2.05h-2.06zM484.18 103.75h2.06v2.05h-2.06zM490.25 103.75h2.06v2.05h-2.06zM492.28 103.75h2.06v2.05h-2.06zM494.30 103.75h2.06v2.05h-2.06zM496.33 103.75h2.06v2.05h-2.06zM498.35 103.75h2.06v2.05h-2.06zM504.43 103.75h2.06v2.05h-2.06zM506.45 103.75h2.06v2.05h-2.06zM508.48 103.75h2.06v2.05h-2.06zM478.10 105.76h2.06v2.05h-2.06zM480.12 105.76h2.06v2.05h-2.06zM482.15 105.76h2.06v2.05h-2.06zM486.20 105.76h2.06v2.05h-2.06zM488.23 105.76h2.06v2.05h-2.06zM490.25 105.76h2.06v2.05h-2.06zM492.28 105.76h2.06v2.05h-2.06zM494.30 105.76h2.06v2.05h-2.06zM496.33 105.76h2.06v2.05h-2.06zM508.48 105.76h2.06v2.05h-2.06zM482.15 107.77h2.06v2.05h-2.06zM486.20 107.77h2.06v2.05h-2.06zM492.28 107.77h2.06v2.05h-2.06zM494.30 107.77h2.06v2.05h-2.06zM498.35 107.77h2.06v2.05h-2.06zM500.38 107.77h2.06v2.05h-2.06zM502.40 107.77h2.06v2.05h-2.06zM504.43 107.77h2.06v2.05h-2.06zM478.10 109.79h2.06v2.05h-2.06zM480.12 109.79h2.06v2.05h-2.06zM482.15 109.79h2.06v2.05h-2.06zM486.20 109.79h2.06v2.05h-2.06zM498.35 109.79h2.06v2.05h-2.06zM500.38 109.79h2.06v2.05h-2.06zM502.40 109.79h2.06v2.05h-2.06zM504.43 109.79h2.06v2.05h-2.06z" fill="#55f20a"/>
<path d="M490.25 79.60h2.06v2.05h-2.06zM492.28 79.60h2.06v2.05h-2.06zM500.38 79.60h2.06v2.05h-2.06zM502.40 79.60h2.06v2.05h-2.06zM504.43 79.60h2.06v2.05h-2.06zM506.45 79.60h2.06v2.05h-2.06zM508.48 79.60h2.06v2.05h-2.06zM478.10 81.61h2.06v2.05h-2.06zM480.12 81.61h2.06v2.05h-2.06zM482.15 81.61h2.06v2.05h-2.06zM488.23 81.61h2.06v2.05h-2.06zM492.28 81.61h2.06v2.05h-2.06zM496.33 81.61h2.06v2.05h-2.06zM498.35 81.61h2.06v2.05h-2.06zM502.40 81.61h2.06v2.05h-2.06zM504.43 81.61h2.06v2.05h-2.06zM482.15 83.62h2.06v2.05h-2.06zM486.20 83.62h2.06v2.05h-2.06zM496.33 83.62h2.06v2.05h-2.06zM498.35 83.62h2.06v2.05h-2.06zM500.38 83.62h2.06v2.05h-2.06zM502.40 83.62h2.06v2.05h-2.06zM504.43 83.62h2.06v2.05h-2.06zM506.45 83.62h2.06v2.05h-2.06zM482.15 85.64h2.06v2.05h-2.06zM484.18 85.64h2.06v2.05h-2.06zM488.23 85.64h2.06v2.05h-2.06zM490.25 85.64h2.06v2.05h-2.06zM492.28 85.64h2.06v2.05h-2.06zM496.33 85.64h2.06v2.05h-2.06zM500.38 85.64h2.06v2.05h-2.06zM506.45 85.64h2.06v2.05h-2.06zM482.15 87.65h2.06v2.05h-2.06zM484.18 87.65h2.06v2.05h-2.06zM486.20 87.65h2.06v2.05h-2.06zM490.25 87.65h2.06v2.05h-2.06zM498.35 87.65h2.06v2.05h-2.06zM500.38 87.65h2.06v2.05h-2.06zM502.40 87.65h2.06v2.05h-2.06zM506.45 87.65h2.06v2.05h-2.06zM482.15 89.66h2.06v2.05h-2.06zM486.20 89.66h2.06v2.05h-2.06zM488.23 89.66h2.06v2.05h-2.06zM494.30 89.66h2.06v2.05h-2.06zM498.35 89.66h2.06v2.05h-2.06zM500.38 89.66h2.06v2.05h-2.06zM506.45 89.66h2.06v2.05h-2.06zM508.48 89.66h2.06v2.05h-2.06zM482.15 91.67h2.06v2.05h-2.06zM484.18 91.67h2.06v2.05h-2.06zM488.23 91.67h2.06v2.05h-2.06zM490.25 91.67h2.06v2.05h-2.06zM492.28 91.67h2.06v2.05h-2.06zM494.30 91.67h2.06v2.05h-2.06zM498.35 91.67h2.06v2.05h-2.06zM508.48 91.67h2.06v2.05h-2.06zM480.12 93.69h2.06v2.05h-2.06zM490.25 93.69h2.06v2.05h-2.06zM492.28 93.69h2.06v2.05h-2.06zM494.30 93.69h2.06v2.05h-2.06zM498.35 93.69h2.06v2.05h-2.06zM508.48 93.69h2.06v2.05h-2.06zM478.10 95.70h2.06v2.05h-2.06zM482.15 95.70h2.06v2.05h-2.06zM484.18 95.70h2.06v2.05h-2.06zM486.20 95.70h2.06v2.05h-2.06zM488.23 95.70h2.06v2.05h-2.06zM490.25 95.70h2.06v2.05h-2.06zM498.35 95.70h2.06v2.05h-2.06zM478.10 97.71h2.06v2.05h-2.06zM490.25 97.71h2.06v2.05h-2.06zM494.30 97.71h2.06v2.05h-2.06zM496.33 97.71h2.06v2.05h-2.06zM502.40 97.71h2.06v2.05h-2.06zM508.48 97.71h2.06v2.05h-2.06zM478.10 99.72h2.06v2.05h-2.06zM482.15 99.72h2.06v2.05h-2.06zM486.20 99.72h2.06v2.05h-2.06zM486.20 101.74h2.06v2.05h-2.06zM486.20 103.75h2.06v2.05h-2.06zM488.23 103.75h2.06v2.05h-2.06zM478.10 107.77h2.06v2.05h-2.06zM480.12 107.77h2.06v2.05h-2.06zM484.18 107.77h2.06v2.05h-2.06zM506.45 107.77h2.06v2.05h-2.06zM508.48 107.77h2.06v2.05h-2.06zM484.18 109.79h2.06v2.05h-2.06zM506.45 109.79h2.06v2.05h-2.06zM508.48 109.79h2.06v2.05h-2.06z" fill="#050505"/>
<path d="M478.10 83.62h2.06v2.05h-2.06zM478.10 85.64h2.06v2.05h-2.06zM480.12 85.64h2.06v2.05h-2.06zM478.10 87.65h2.06v2.05h-2.06zM480.12 87.65h2.06v2.05h-2.06zM502.40 89.66h2.06v2.05h-2.06zM504.43 89.66h2.06v2.05h-2.06zM500.38 91.67h2.06v2.05h-2.06zM502.40 91.67h2.06v2.05h-2.06zM506.45 91.67h2.06v2.05h-2.06zM500.38 93.69h2.06v2.05h-2.06zM500.38 95.70h2.06v2.05h-2.06zM502.40 95.70h2.06v2.05h-2.06zM504.43 95.70h2.06v2.05h-2.06z" fill="#1a10ff"/>
<path d="M502.40 99.72h2.06v2.05h-2.06zM500.38 101.74h2.06v2.05h-2.06zM500.38 103.75h2.06v2.05h-2.06zM502.40 103.75h2.06v2.05h-2.06zM484.18 105.76h2.06v2.05h-2.06zM498.35 105.76h2.06v2.05h-2.06zM500.38 105.76h2.06v2.05h-2.06z" fill="#f4f040"/>
<path d="M502.40 105.76h2.06v2.05h-2.06zM504.43 105.76h2.06v2.05h-2.06zM506.45 105.76h2.06v2.05h-2.06zM488.23 107.77h2.06v2.05h-2.06zM490.25 107.77h2.06v2.05h-2.06zM496.33 107.77h2.06v2.05h-2.06zM488.23 109.79h2.06v2.05h-2.06zM490.25 109.79h2.06v2.05h-2.06zM492.28 109.79h2.06v2.05h-2.06zM494.30 109.79h2.06v2.05h-2.06zM496.33 109.79h2.06v2.05h-2.06z" fill="#ff1a10"/>
<text x="293.20" y="126.3" font-size="12.79" font-weight="bold" fill="#111" textLength="13.79" lengthAdjust="spacingAndGlyphs">IN</text>
<text x="270.04" y="139.5" font-size="12.65" fill="#222" textLength="56.44" lengthAdjust="spacingAndGlyphs">High TILs</text>
<text x="263.24" y="151.6" font-size="12.65" fill="#222" textLength="73.50" lengthAdjust="spacingAndGlyphs">in the Tumor</text>
<text x="394.00" y="126.6" font-size="12.79" font-weight="bold" fill="#111" textLength="11.63" lengthAdjust="spacingAndGlyphs">IE</text>
<text x="369.85" y="139.3" font-size="12.65" fill="#222" textLength="56.03" lengthAdjust="spacingAndGlyphs">High TILs</text>
<text x="360.25" y="151.4" font-size="12.65" fill="#222" textLength="78.09" lengthAdjust="spacingAndGlyphs">in the Stroma</text>
<text x="487.28" y="126.3" font-size="12.79" font-weight="bold" fill="#111" textLength="12.63" lengthAdjust="spacingAndGlyphs">ID</text>
<text x="457.84" y="139.1" font-size="12.65" fill="#222" textLength="74.82" lengthAdjust="spacingAndGlyphs">Few/No TILs</text>
<path d="M531.1,42.8 A5.0,5.0 0 0 1 536.1,47.8 L536.1,85.2 C536.1,90.2 539.5,91.7 539.5,95.2 C539.5,98.7 536.1,100.2 536.1,105.2 L536.1,143.6 A5.0,5.0 0 0 1 531.1,148.6" fill="none" stroke="#2a2a2a" stroke-width="1.6"/>
<text x="553.29" y="91.3" font-size="14.83" font-weight="bold" fill="#111" textLength="70.65" lengthAdjust="spacingAndGlyphs">Grid-level</text>
<text x="542.61" y="107.4" font-size="14.83" font-weight="bold" fill="#111" textLength="91.78" lengthAdjust="spacingAndGlyphs">Phenotyping</text>
<path d="M261.5,157.5 Q261.8,161.9 265.8,161.9 L390,161.9 Q394.4,162.1 394.4,166 Q394.4,162.1 398.8,161.9 L523.6,161.9 Q527.4,161.9 527.8,157.5" fill="none" stroke="#1a1a1a" stroke-width="1.8" stroke-dasharray="2,2.4"/>
<line x1="394.4" y1="168.5" x2="394.4" y2="192" stroke="#1a1a1a" stroke-width="1.8" stroke-dasharray="2,2.4"/>
<path d="M390.6,191.2 L398.2,191.2 L394.4,198.6 z" fill="#222"/>
<text x="401.11" y="178.8" font-size="12.35" font-weight="bold" fill="#111">Compute Percentage of Each Grid</text>
<text x="400.79" y="191.6" font-size="12.35" font-weight="bold" fill="#111">Phenotype on Tissue Level</text>
<path d="M218,230.5 L218,200.9 L461.7,200.9 L461.7,246.9 L514.7,246.9 L514.7,275.5" fill="none" stroke="#222" stroke-width="1.7"/>
<path d="M363.5,275.5 L363.5,246.9 L461.7,246.9" fill="none" stroke="#222" stroke-width="1.7"/>
<path d="M213.9,229.9 L222.1,229.9 L218,237.5 z" fill="#222"/>
<path d="M359.4,275.0 L367.6,275.0 L363.5,282.6 z" fill="#222"/>
<path d="M510.6,275.0 L518.8000000000001,275.0 L514.7,282.6 z" fill="#222"/>
<text x="218.56" y="195.3" font-size="12.50" fill="#222" textLength="96.65" lengthAdjust="spacingAndGlyphs">IN Grids&gt;33.33%</text>
<text x="363.57" y="241.8" font-size="12.50" fill="#222">IE Grids&gt;33.33%</text>
<text x="518.01" y="269.3" font-size="12.79" fill="#222" textLength="59.51" lengthAdjust="spacingAndGlyphs">Otherwise</text>
<text x="212.10" y="328.8" font-size="14.39" font-weight="bold" fill="#111" textLength="13.79" lengthAdjust="spacingAndGlyphs">IN</text>
<text x="358.19" y="374.9" font-size="14.39" font-weight="bold" fill="#111" textLength="11.74" lengthAdjust="spacingAndGlyphs">IE</text>
<text x="509.26" y="374.8" font-size="14.39" font-weight="bold" fill="#111" textLength="12.96" lengthAdjust="spacingAndGlyphs">ID</text>
<path d="M582.1,198.7 A4.899999999999977,4.899999999999977 0 0 1 587.0,203.59999999999997 L587.0,268.6 C587.0,273.6 589.6,275.1 589.6,278.6 C589.6,282.1 587.0,283.6 587.0,288.6 L587.0,354.1 A4.899999999999977,4.899999999999977 0 0 1 582.1,359.0" fill="none" stroke="#2a2a2a" stroke-width="1.6"/>
<text x="592.08" y="274.6" font-size="15.12" font-weight="bold" fill="#111" textLength="92.56" lengthAdjust="spacingAndGlyphs">Patient-level</text>
<text x="592.11" y="290.4" font-size="15.12" font-weight="bold" fill="#111">Phenotyping</text>
<rect x="162.1" y="239.1" width="113" height="73.6" fill="#000"/>
<use href="#inT" stroke-width="0.9"/>
<rect x="309.5" y="284.3" width="107.6" height="76.6" fill="#000"/>
<path d="M333.8 287.6h1.5v1.5h-1.5zM336.8 287.6h3.0v1.5h-3.0zM341.3 287.6h1.5v1.5h-1.5zM332.3 289.1h1.5v1.5h-1.5zM335.3 289.1h6.0v1.5h-6.0zM342.8 289.1h1.5v1.5h-1.5zM332.3 290.6h9.0v1.5h-9.0zM344.3 290.6h4.5v1.5h-4.5zM330.8 292.1h4.5v1.5h-4.5zM336.8 292.1h1.5v1.5h-1.5zM339.8 292.1h1.5v1.5h-1.5zM345.8 292.1h1.5v1.5h-1.5zM333.8 293.6h1.5v1.5h-1.5zM336.8 293.6h1.5v1.5h-1.5zM339.8 293.6h1.5v1.5h-1.5zM342.8 293.6h1.5v1.5h-1.5zM350.3 296.6h1.5v1.5h-1.5zM359.3 296.6h1.5v1.5h-1.5zM360.8 298.1h1.5v1.5h-1.5zM320.3 301.1h1.5v1.5h-1.5zM342.8 301.1h1.5v1.5h-1.5zM377.3 301.1h1.5v1.5h-1.5zM320.3 302.6h1.5v1.5h-1.5zM384.8 302.6h3.0v1.5h-3.0zM390.8 302.6h4.5v1.5h-4.5zM320.3 304.1h1.5v1.5h-1.5zM384.8 304.1h1.5v1.5h-1.5zM387.8 304.1h1.5v1.5h-1.5zM393.8 304.1h3.0v1.5h-3.0zM344.3 305.6h1.5v1.5h-1.5zM384.8 305.6h12.0v1.5h-12.0zM317.3 307.1h1.5v1.5h-1.5zM383.3 307.1h12.0v1.5h-12.0zM402.8 307.1h1.5v1.5h-1.5zM387.8 308.6h9.0v1.5h-9.0zM365.3 310.1h1.5v1.5h-1.5zM380.3 310.1h1.5v1.5h-1.5zM384.8 310.1h9.0v1.5h-9.0zM395.3 310.1h1.5v1.5h-1.5zM371.3 311.6h1.5v1.5h-1.5zM384.8 311.6h1.5v1.5h-1.5zM387.8 311.6h9.0v1.5h-9.0zM314.3 313.1h1.5v1.5h-1.5zM384.8 313.1h12.0v1.5h-12.0zM404.3 313.1h1.5v1.5h-1.5zM312.8 314.6h1.5v1.5h-1.5zM338.3 314.6h1.5v1.5h-1.5zM384.8 314.6h4.5v1.5h-4.5zM390.8 314.6h1.5v1.5h-1.5zM393.8 314.6h1.5v1.5h-1.5zM327.8 316.1h1.5v1.5h-1.5zM335.3 316.1h1.5v1.5h-1.5zM399.8 316.1h1.5v1.5h-1.5zM359.3 317.6h1.5v1.5h-1.5zM377.3 317.6h1.5v1.5h-1.5zM336.8 320.6h1.5v1.5h-1.5zM318.8 322.1h1.5v1.5h-1.5zM354.8 322.1h3.0v1.5h-3.0zM389.3 322.1h1.5v1.5h-1.5zM327.8 323.6h1.5v1.5h-1.5zM372.8 323.6h1.5v1.5h-1.5zM377.3 323.6h1.5v1.5h-1.5zM326.3 325.1h1.5v1.5h-1.5zM344.3 325.1h1.5v1.5h-1.5zM320.3 326.6h1.5v1.5h-1.5zM366.8 326.6h1.5v1.5h-1.5zM380.3 326.6h1.5v1.5h-1.5zM314.3 328.1h1.5v1.5h-1.5zM357.8 328.1h1.5v1.5h-1.5zM395.3 328.1h3.0v1.5h-3.0zM332.3 329.6h1.5v1.5h-1.5zM333.8 332.6h1.5v1.5h-1.5zM344.3 332.6h1.5v1.5h-1.5zM335.3 334.1h1.5v1.5h-1.5zM365.3 335.6h3.0v1.5h-3.0zM407.3 335.6h1.5v1.5h-1.5zM389.3 338.6h1.5v1.5h-1.5zM381.8 341.6h1.5v1.5h-1.5zM356.3 343.1h1.5v1.5h-1.5zM362.3 343.1h1.5v1.5h-1.5zM374.3 344.6h1.5v1.5h-1.5zM369.8 347.6h1.5v1.5h-1.5z" fill="#ff2cff"/>
<path d="M335.3 287.6h1.5v1.5h-1.5zM339.8 287.6h1.5v1.5h-1.5zM347.3 289.1h1.5v1.5h-1.5zM341.3 290.6h3.0v1.5h-3.0zM335.3 292.1h1.5v1.5h-1.5zM338.3 293.6h1.5v1.5h-1.5zM347.3 298.1h1.5v1.5h-1.5zM389.3 299.6h1.5v1.5h-1.5zM336.8 301.1h1.5v1.5h-1.5zM315.8 305.6h1.5v1.5h-1.5zM315.8 307.1h1.5v1.5h-1.5zM318.8 307.1h3.0v1.5h-3.0zM314.3 308.6h1.5v1.5h-1.5zM312.8 310.1h1.5v1.5h-1.5zM312.8 311.6h1.5v1.5h-1.5zM315.8 311.6h4.5v1.5h-4.5zM383.3 311.6h1.5v1.5h-1.5zM399.8 311.6h1.5v1.5h-1.5zM315.8 313.1h3.0v1.5h-3.0zM398.3 313.1h1.5v1.5h-1.5zM318.8 316.1h1.5v1.5h-1.5zM311.3 317.6h1.5v1.5h-1.5zM315.8 317.6h3.0v1.5h-3.0zM399.8 317.6h1.5v1.5h-1.5zM315.8 319.1h1.5v1.5h-1.5zM318.8 319.1h3.0v1.5h-3.0zM383.3 319.1h1.5v1.5h-1.5zM317.3 320.6h1.5v1.5h-1.5zM320.3 320.6h1.5v1.5h-1.5zM368.3 320.6h1.5v1.5h-1.5zM402.8 320.6h1.5v1.5h-1.5zM314.3 322.1h3.0v1.5h-3.0zM371.3 322.1h1.5v1.5h-1.5zM393.8 322.1h1.5v1.5h-1.5zM402.8 322.1h1.5v1.5h-1.5zM311.3 323.6h7.5v1.5h-7.5zM312.8 325.1h3.0v1.5h-3.0zM317.3 325.1h1.5v1.5h-1.5zM314.3 326.6h1.5v1.5h-1.5zM386.3 326.6h1.5v1.5h-1.5zM318.8 328.1h1.5v1.5h-1.5zM314.3 329.6h1.5v1.5h-1.5zM405.8 329.6h1.5v1.5h-1.5zM413.3 329.6h1.5v1.5h-1.5zM356.3 331.1h1.5v1.5h-1.5zM378.8 331.1h1.5v1.5h-1.5zM320.3 332.6h1.5v1.5h-1.5zM402.8 332.6h1.5v1.5h-1.5zM395.3 334.1h1.5v1.5h-1.5zM345.8 335.6h1.5v1.5h-1.5zM401.3 335.6h1.5v1.5h-1.5zM384.8 338.6h1.5v1.5h-1.5zM387.8 338.6h1.5v1.5h-1.5zM362.3 340.1h1.5v1.5h-1.5zM374.3 340.1h1.5v1.5h-1.5zM384.8 341.6h1.5v1.5h-1.5zM375.8 344.6h1.5v1.5h-1.5zM359.3 346.1h1.5v1.5h-1.5zM372.8 346.1h1.5v1.5h-1.5zM377.3 350.6h1.5v1.5h-1.5zM375.8 355.1h1.5v1.5h-1.5z" fill="#f0f040"/>
<path d="M342.8 287.6h1.5v1.5h-1.5zM333.8 289.1h1.5v1.5h-1.5zM341.3 289.1h1.5v1.5h-1.5zM345.8 289.1h1.5v1.5h-1.5zM341.3 292.1h4.5v1.5h-4.5zM347.3 292.1h1.5v1.5h-1.5zM335.3 293.6h1.5v1.5h-1.5zM344.3 293.6h1.5v1.5h-1.5zM323.3 296.6h3.0v1.5h-3.0zM335.3 296.6h3.0v1.5h-3.0zM345.8 296.6h4.5v1.5h-4.5zM369.8 296.6h1.5v1.5h-1.5zM380.3 296.6h1.5v1.5h-1.5zM323.3 298.1h1.5v1.5h-1.5zM332.3 298.1h3.0v1.5h-3.0zM336.8 298.1h1.5v1.5h-1.5zM344.3 298.1h3.0v1.5h-3.0zM348.8 298.1h1.5v1.5h-1.5zM351.8 298.1h1.5v1.5h-1.5zM362.3 298.1h1.5v1.5h-1.5zM365.3 298.1h3.0v1.5h-3.0zM381.8 298.1h6.0v1.5h-6.0zM336.8 299.6h1.5v1.5h-1.5zM345.8 299.6h4.5v1.5h-4.5zM365.3 299.6h3.0v1.5h-3.0zM369.8 299.6h1.5v1.5h-1.5zM381.8 299.6h1.5v1.5h-1.5zM384.8 299.6h3.0v1.5h-3.0zM327.8 301.1h1.5v1.5h-1.5zM333.8 301.1h3.0v1.5h-3.0zM353.3 301.1h3.0v1.5h-3.0zM363.8 301.1h6.0v1.5h-6.0zM372.8 301.1h1.5v1.5h-1.5zM381.8 301.1h10.5v1.5h-10.5zM318.8 302.6h1.5v1.5h-1.5zM323.3 302.6h1.5v1.5h-1.5zM353.3 302.6h1.5v1.5h-1.5zM356.3 302.6h1.5v1.5h-1.5zM365.3 302.6h1.5v1.5h-1.5zM387.8 302.6h3.0v1.5h-3.0zM318.8 304.1h1.5v1.5h-1.5zM323.3 304.1h1.5v1.5h-1.5zM326.3 304.1h1.5v1.5h-1.5zM363.8 304.1h1.5v1.5h-1.5zM366.8 304.1h3.0v1.5h-3.0zM371.3 304.1h1.5v1.5h-1.5zM375.8 304.1h3.0v1.5h-3.0zM381.8 304.1h1.5v1.5h-1.5zM386.3 304.1h1.5v1.5h-1.5zM389.3 304.1h4.5v1.5h-4.5zM396.8 304.1h1.5v1.5h-1.5zM317.3 305.6h4.5v1.5h-4.5zM332.3 305.6h1.5v1.5h-1.5zM335.3 305.6h1.5v1.5h-1.5zM338.3 305.6h1.5v1.5h-1.5zM363.8 305.6h1.5v1.5h-1.5zM377.3 305.6h1.5v1.5h-1.5zM383.3 305.6h1.5v1.5h-1.5zM396.8 305.6h3.0v1.5h-3.0zM338.3 307.1h1.5v1.5h-1.5zM345.8 307.1h1.5v1.5h-1.5zM354.8 307.1h1.5v1.5h-1.5zM381.8 307.1h1.5v1.5h-1.5zM395.3 307.1h7.5v1.5h-7.5zM315.8 308.6h1.5v1.5h-1.5zM318.8 308.6h3.0v1.5h-3.0zM335.3 308.6h1.5v1.5h-1.5zM380.3 308.6h7.5v1.5h-7.5zM398.3 308.6h7.5v1.5h-7.5zM314.3 310.1h9.0v1.5h-9.0zM333.8 310.1h1.5v1.5h-1.5zM354.8 310.1h1.5v1.5h-1.5zM363.8 310.1h1.5v1.5h-1.5zM375.8 310.1h4.5v1.5h-4.5zM383.3 310.1h1.5v1.5h-1.5zM393.8 310.1h1.5v1.5h-1.5zM396.8 310.1h10.5v1.5h-10.5zM314.3 311.6h1.5v1.5h-1.5zM320.3 311.6h4.5v1.5h-4.5zM342.8 311.6h1.5v1.5h-1.5zM375.8 311.6h3.0v1.5h-3.0zM386.3 311.6h1.5v1.5h-1.5zM396.8 311.6h3.0v1.5h-3.0zM401.3 311.6h3.0v1.5h-3.0zM405.8 311.6h3.0v1.5h-3.0zM312.8 313.1h1.5v1.5h-1.5zM318.8 313.1h7.5v1.5h-7.5zM350.3 313.1h1.5v1.5h-1.5zM356.3 313.1h1.5v1.5h-1.5zM366.8 313.1h1.5v1.5h-1.5zM372.8 313.1h1.5v1.5h-1.5zM375.8 313.1h3.0v1.5h-3.0zM383.3 313.1h1.5v1.5h-1.5zM396.8 313.1h1.5v1.5h-1.5zM399.8 313.1h4.5v1.5h-4.5zM405.8 313.1h1.5v1.5h-1.5zM314.3 314.6h6.0v1.5h-6.0zM321.8 314.6h1.5v1.5h-1.5zM324.8 314.6h9.0v1.5h-9.0zM347.3 314.6h1.5v1.5h-1.5zM369.8 314.6h1.5v1.5h-1.5zM374.3 314.6h1.5v1.5h-1.5zM383.3 314.6h1.5v1.5h-1.5zM389.3 314.6h1.5v1.5h-1.5zM392.3 314.6h1.5v1.5h-1.5zM395.3 314.6h10.5v1.5h-10.5zM407.3 314.6h3.0v1.5h-3.0zM312.8 316.1h3.0v1.5h-3.0zM317.3 316.1h1.5v1.5h-1.5zM320.3 316.1h3.0v1.5h-3.0zM324.8 316.1h1.5v1.5h-1.5zM330.8 316.1h1.5v1.5h-1.5zM345.8 316.1h1.5v1.5h-1.5zM348.8 316.1h1.5v1.5h-1.5zM362.3 316.1h3.0v1.5h-3.0zM366.8 316.1h6.0v1.5h-6.0zM374.3 316.1h1.5v1.5h-1.5zM383.3 316.1h7.5v1.5h-7.5zM392.3 316.1h1.5v1.5h-1.5zM395.3 316.1h4.5v1.5h-4.5zM401.3 316.1h4.5v1.5h-4.5zM408.8 316.1h3.0v1.5h-3.0zM314.3 317.6h1.5v1.5h-1.5zM318.8 317.6h15.0v1.5h-15.0zM339.8 317.6h1.5v1.5h-1.5zM345.8 317.6h1.5v1.5h-1.5zM348.8 317.6h1.5v1.5h-1.5zM357.8 317.6h1.5v1.5h-1.5zM362.3 317.6h12.0v1.5h-12.0zM383.3 317.6h6.0v1.5h-6.0zM390.8 317.6h6.0v1.5h-6.0zM398.3 317.6h1.5v1.5h-1.5zM401.3 317.6h12.0v1.5h-12.0zM311.3 319.1h4.5v1.5h-4.5zM317.3 319.1h1.5v1.5h-1.5zM326.3 319.1h6.0v1.5h-6.0zM345.8 319.1h3.0v1.5h-3.0zM362.3 319.1h1.5v1.5h-1.5zM365.3 319.1h6.0v1.5h-6.0zM372.8 319.1h1.5v1.5h-1.5zM384.8 319.1h12.0v1.5h-12.0zM398.3 319.1h6.0v1.5h-6.0zM405.8 319.1h9.0v1.5h-9.0zM311.3 320.6h6.0v1.5h-6.0zM318.8 320.6h1.5v1.5h-1.5zM327.8 320.6h1.5v1.5h-1.5zM330.8 320.6h3.0v1.5h-3.0zM344.3 320.6h1.5v1.5h-1.5zM347.3 320.6h3.0v1.5h-3.0zM369.8 320.6h3.0v1.5h-3.0zM374.3 320.6h4.5v1.5h-4.5zM383.3 320.6h13.5v1.5h-13.5zM398.3 320.6h1.5v1.5h-1.5zM401.3 320.6h1.5v1.5h-1.5zM404.3 320.6h10.5v1.5h-10.5zM311.3 322.1h3.0v1.5h-3.0zM317.3 322.1h1.5v1.5h-1.5zM320.3 322.1h1.5v1.5h-1.5zM326.3 322.1h1.5v1.5h-1.5zM329.3 322.1h6.0v1.5h-6.0zM336.8 322.1h1.5v1.5h-1.5zM339.8 322.1h3.0v1.5h-3.0zM344.3 322.1h3.0v1.5h-3.0zM350.3 322.1h4.5v1.5h-4.5zM369.8 322.1h1.5v1.5h-1.5zM372.8 322.1h7.5v1.5h-7.5zM386.3 322.1h3.0v1.5h-3.0zM390.8 322.1h3.0v1.5h-3.0zM395.3 322.1h1.5v1.5h-1.5zM398.3 322.1h4.5v1.5h-4.5zM404.3 322.1h10.5v1.5h-10.5zM318.8 323.6h1.5v1.5h-1.5zM321.8 323.6h1.5v1.5h-1.5zM329.3 323.6h6.0v1.5h-6.0zM336.8 323.6h3.0v1.5h-3.0zM344.3 323.6h4.5v1.5h-4.5zM350.3 323.6h7.5v1.5h-7.5zM369.8 323.6h3.0v1.5h-3.0zM375.8 323.6h1.5v1.5h-1.5zM378.8 323.6h1.5v1.5h-1.5zM386.3 323.6h1.5v1.5h-1.5zM389.3 323.6h25.5v1.5h-25.5zM311.3 325.1h1.5v1.5h-1.5zM315.8 325.1h1.5v1.5h-1.5zM318.8 325.1h3.0v1.5h-3.0zM332.3 325.1h3.0v1.5h-3.0zM336.8 325.1h3.0v1.5h-3.0zM345.8 325.1h12.0v1.5h-12.0zM369.8 325.1h10.5v1.5h-10.5zM384.8 325.1h1.5v1.5h-1.5zM389.3 325.1h7.5v1.5h-7.5zM398.3 325.1h4.5v1.5h-4.5zM404.3 325.1h7.5v1.5h-7.5zM413.3 325.1h1.5v1.5h-1.5zM317.3 326.6h3.0v1.5h-3.0zM335.3 326.6h3.0v1.5h-3.0zM350.3 326.6h3.0v1.5h-3.0zM357.8 326.6h1.5v1.5h-1.5zM369.8 326.6h1.5v1.5h-1.5zM374.3 326.6h3.0v1.5h-3.0zM383.3 326.6h1.5v1.5h-1.5zM387.8 326.6h1.5v1.5h-1.5zM390.8 326.6h21.0v1.5h-21.0zM315.8 328.1h3.0v1.5h-3.0zM320.3 328.1h1.5v1.5h-1.5zM339.8 328.1h1.5v1.5h-1.5zM351.8 328.1h6.0v1.5h-6.0zM374.3 328.1h1.5v1.5h-1.5zM380.3 328.1h1.5v1.5h-1.5zM383.3 328.1h1.5v1.5h-1.5zM386.3 328.1h4.5v1.5h-4.5zM392.3 328.1h3.0v1.5h-3.0zM398.3 328.1h12.0v1.5h-12.0zM315.8 329.6h6.0v1.5h-6.0zM341.3 329.6h1.5v1.5h-1.5zM351.8 329.6h9.0v1.5h-9.0zM374.3 329.6h4.5v1.5h-4.5zM380.3 329.6h1.5v1.5h-1.5zM384.8 329.6h3.0v1.5h-3.0zM389.3 329.6h1.5v1.5h-1.5zM392.3 329.6h13.5v1.5h-13.5zM407.3 329.6h4.5v1.5h-4.5zM315.8 331.1h6.0v1.5h-6.0zM341.3 331.1h3.0v1.5h-3.0zM354.8 331.1h1.5v1.5h-1.5zM357.8 331.1h1.5v1.5h-1.5zM360.8 331.1h1.5v1.5h-1.5zM374.3 331.1h1.5v1.5h-1.5zM377.3 331.1h1.5v1.5h-1.5zM380.3 331.1h3.0v1.5h-3.0zM386.3 331.1h12.0v1.5h-12.0zM399.8 331.1h3.0v1.5h-3.0zM404.3 331.1h3.0v1.5h-3.0zM410.3 331.1h1.5v1.5h-1.5zM413.3 331.1h1.5v1.5h-1.5zM318.8 332.6h1.5v1.5h-1.5zM329.3 332.6h1.5v1.5h-1.5zM345.8 332.6h1.5v1.5h-1.5zM348.8 332.6h3.0v1.5h-3.0zM353.3 332.6h4.5v1.5h-4.5zM365.3 332.6h1.5v1.5h-1.5zM369.8 332.6h1.5v1.5h-1.5zM374.3 332.6h1.5v1.5h-1.5zM377.3 332.6h13.5v1.5h-13.5zM392.3 332.6h3.0v1.5h-3.0zM396.8 332.6h4.5v1.5h-4.5zM404.3 332.6h9.0v1.5h-9.0zM324.8 334.1h1.5v1.5h-1.5zM345.8 334.1h1.5v1.5h-1.5zM350.3 334.1h1.5v1.5h-1.5zM354.8 334.1h1.5v1.5h-1.5zM371.3 334.1h10.5v1.5h-10.5zM383.3 334.1h3.0v1.5h-3.0zM387.8 334.1h1.5v1.5h-1.5zM390.8 334.1h4.5v1.5h-4.5zM396.8 334.1h16.5v1.5h-16.5zM329.3 335.6h1.5v1.5h-1.5zM348.8 335.6h1.5v1.5h-1.5zM372.8 335.6h1.5v1.5h-1.5zM375.8 335.6h10.5v1.5h-10.5zM387.8 335.6h1.5v1.5h-1.5zM390.8 335.6h10.5v1.5h-10.5zM402.8 335.6h4.5v1.5h-4.5zM408.8 335.6h1.5v1.5h-1.5zM335.3 337.1h3.0v1.5h-3.0zM341.3 337.1h4.5v1.5h-4.5zM365.3 337.1h16.5v1.5h-16.5zM383.3 337.1h9.0v1.5h-9.0zM393.8 337.1h13.5v1.5h-13.5zM338.3 338.6h9.0v1.5h-9.0zM350.3 338.6h3.0v1.5h-3.0zM359.3 338.6h19.5v1.5h-19.5zM380.3 338.6h4.5v1.5h-4.5zM386.3 338.6h1.5v1.5h-1.5zM390.8 338.6h4.5v1.5h-4.5zM396.8 338.6h9.0v1.5h-9.0zM342.8 340.1h1.5v1.5h-1.5zM345.8 340.1h1.5v1.5h-1.5zM350.3 340.1h3.0v1.5h-3.0zM356.3 340.1h1.5v1.5h-1.5zM359.3 340.1h3.0v1.5h-3.0zM363.8 340.1h10.5v1.5h-10.5zM375.8 340.1h6.0v1.5h-6.0zM383.3 340.1h4.5v1.5h-4.5zM389.3 340.1h15.0v1.5h-15.0zM345.8 341.6h1.5v1.5h-1.5zM357.8 341.6h1.5v1.5h-1.5zM362.3 341.6h19.5v1.5h-19.5zM383.3 341.6h1.5v1.5h-1.5zM386.3 341.6h16.5v1.5h-16.5zM354.8 343.1h1.5v1.5h-1.5zM363.8 343.1h3.0v1.5h-3.0zM368.3 343.1h3.0v1.5h-3.0zM372.8 343.1h9.0v1.5h-9.0zM383.3 343.1h16.5v1.5h-16.5zM354.8 344.6h1.5v1.5h-1.5zM362.3 344.6h12.0v1.5h-12.0zM377.3 344.6h1.5v1.5h-1.5zM386.3 344.6h12.0v1.5h-12.0zM360.8 346.1h12.0v1.5h-12.0zM374.3 346.1h4.5v1.5h-4.5zM380.3 346.1h1.5v1.5h-1.5zM383.3 346.1h1.5v1.5h-1.5zM386.3 346.1h3.0v1.5h-3.0zM390.8 346.1h6.0v1.5h-6.0zM357.8 347.6h7.5v1.5h-7.5zM368.3 347.6h1.5v1.5h-1.5zM371.3 347.6h4.5v1.5h-4.5zM378.8 347.6h1.5v1.5h-1.5zM384.8 347.6h4.5v1.5h-4.5zM390.8 347.6h4.5v1.5h-4.5zM362.3 349.1h1.5v1.5h-1.5zM365.3 349.1h1.5v1.5h-1.5zM371.3 349.1h3.0v1.5h-3.0zM375.8 349.1h1.5v1.5h-1.5zM381.8 349.1h1.5v1.5h-1.5zM386.3 349.1h7.5v1.5h-7.5zM372.8 350.6h1.5v1.5h-1.5zM375.8 350.6h1.5v1.5h-1.5zM386.3 350.6h6.0v1.5h-6.0zM374.3 352.1h9.0v1.5h-9.0zM384.8 352.1h6.0v1.5h-6.0zM375.8 353.6h3.0v1.5h-3.0zM383.3 353.6h4.5v1.5h-4.5zM377.3 355.1h1.5v1.5h-1.5zM383.3 355.1h1.5v1.5h-1.5z" fill="#40f020"/>
<path d="M344.3 289.1h1.5v1.5h-1.5zM338.3 292.1h1.5v1.5h-1.5zM341.3 293.6h1.5v1.5h-1.5zM338.3 296.6h1.5v1.5h-1.5zM344.3 296.6h1.5v1.5h-1.5zM360.8 296.6h4.5v1.5h-4.5zM360.8 299.6h1.5v1.5h-1.5zM371.3 299.6h1.5v1.5h-1.5zM377.3 299.6h1.5v1.5h-1.5zM318.8 301.1h1.5v1.5h-1.5zM326.3 301.1h1.5v1.5h-1.5zM339.8 301.1h1.5v1.5h-1.5zM332.3 302.6h1.5v1.5h-1.5zM341.3 302.6h1.5v1.5h-1.5zM332.3 304.1h1.5v1.5h-1.5zM357.8 304.1h1.5v1.5h-1.5zM324.8 305.6h1.5v1.5h-1.5zM333.8 305.6h1.5v1.5h-1.5zM350.3 305.6h1.5v1.5h-1.5zM374.3 305.6h1.5v1.5h-1.5zM321.8 307.1h1.5v1.5h-1.5zM333.8 307.1h3.0v1.5h-3.0zM353.3 307.1h1.5v1.5h-1.5zM377.3 307.1h1.5v1.5h-1.5zM330.8 308.6h1.5v1.5h-1.5zM350.3 308.6h1.5v1.5h-1.5zM332.3 311.6h1.5v1.5h-1.5zM359.3 311.6h1.5v1.5h-1.5zM339.8 313.1h1.5v1.5h-1.5zM342.8 314.6h1.5v1.5h-1.5zM336.8 317.6h3.0v1.5h-3.0zM336.8 319.1h1.5v1.5h-1.5zM374.3 319.1h1.5v1.5h-1.5zM359.3 320.6h3.0v1.5h-3.0zM365.3 320.6h1.5v1.5h-1.5zM363.8 323.6h1.5v1.5h-1.5zM381.8 325.1h1.5v1.5h-1.5zM327.8 326.6h1.5v1.5h-1.5zM368.3 326.6h1.5v1.5h-1.5zM372.8 326.6h1.5v1.5h-1.5zM327.8 328.1h1.5v1.5h-1.5zM330.8 329.6h1.5v1.5h-1.5zM335.3 329.6h1.5v1.5h-1.5zM324.8 331.1h1.5v1.5h-1.5zM362.3 331.1h1.5v1.5h-1.5zM366.8 331.1h1.5v1.5h-1.5zM336.8 332.6h1.5v1.5h-1.5zM366.8 332.6h1.5v1.5h-1.5zM369.8 334.1h1.5v1.5h-1.5zM356.3 335.6h1.5v1.5h-1.5z" fill="#ffffff"/>
<path d="M326.3 296.6h7.5v1.5h-7.5zM342.8 296.6h1.5v1.5h-1.5zM351.8 296.6h4.5v1.5h-4.5zM357.8 296.6h1.5v1.5h-1.5zM366.8 296.6h3.0v1.5h-3.0zM371.3 296.6h9.0v1.5h-9.0zM321.8 298.1h1.5v1.5h-1.5zM324.8 298.1h3.0v1.5h-3.0zM329.3 298.1h1.5v1.5h-1.5zM338.3 298.1h3.0v1.5h-3.0zM342.8 298.1h1.5v1.5h-1.5zM350.3 298.1h1.5v1.5h-1.5zM353.3 298.1h7.5v1.5h-7.5zM368.3 298.1h6.0v1.5h-6.0zM377.3 298.1h4.5v1.5h-4.5zM320.3 299.6h3.0v1.5h-3.0zM324.8 299.6h7.5v1.5h-7.5zM339.8 299.6h4.5v1.5h-4.5zM353.3 299.6h7.5v1.5h-7.5zM368.3 299.6h1.5v1.5h-1.5zM372.8 299.6h1.5v1.5h-1.5zM375.8 299.6h1.5v1.5h-1.5zM378.8 299.6h1.5v1.5h-1.5zM321.8 301.1h3.0v1.5h-3.0zM330.8 301.1h3.0v1.5h-3.0zM338.3 301.1h1.5v1.5h-1.5zM344.3 301.1h3.0v1.5h-3.0zM348.8 301.1h4.5v1.5h-4.5zM357.8 301.1h6.0v1.5h-6.0zM369.8 301.1h1.5v1.5h-1.5zM374.3 301.1h1.5v1.5h-1.5zM378.8 301.1h3.0v1.5h-3.0zM321.8 302.6h1.5v1.5h-1.5zM324.8 302.6h3.0v1.5h-3.0zM329.3 302.6h1.5v1.5h-1.5zM333.8 302.6h7.5v1.5h-7.5zM344.3 302.6h1.5v1.5h-1.5zM347.3 302.6h3.0v1.5h-3.0zM351.8 302.6h1.5v1.5h-1.5zM354.8 302.6h1.5v1.5h-1.5zM357.8 302.6h6.0v1.5h-6.0zM366.8 302.6h3.0v1.5h-3.0zM372.8 302.6h9.0v1.5h-9.0zM327.8 304.1h4.5v1.5h-4.5zM333.8 304.1h6.0v1.5h-6.0zM341.3 304.1h6.0v1.5h-6.0zM348.8 304.1h9.0v1.5h-9.0zM360.8 304.1h3.0v1.5h-3.0zM365.3 304.1h1.5v1.5h-1.5zM369.8 304.1h1.5v1.5h-1.5zM372.8 304.1h3.0v1.5h-3.0zM378.8 304.1h3.0v1.5h-3.0zM321.8 305.6h3.0v1.5h-3.0zM326.3 305.6h3.0v1.5h-3.0zM330.8 305.6h1.5v1.5h-1.5zM336.8 305.6h1.5v1.5h-1.5zM339.8 305.6h4.5v1.5h-4.5zM345.8 305.6h4.5v1.5h-4.5zM351.8 305.6h9.0v1.5h-9.0zM368.3 305.6h6.0v1.5h-6.0zM375.8 305.6h1.5v1.5h-1.5zM380.3 305.6h1.5v1.5h-1.5zM324.8 307.1h1.5v1.5h-1.5zM329.3 307.1h4.5v1.5h-4.5zM336.8 307.1h1.5v1.5h-1.5zM339.8 307.1h3.0v1.5h-3.0zM344.3 307.1h1.5v1.5h-1.5zM347.3 307.1h4.5v1.5h-4.5zM356.3 307.1h1.5v1.5h-1.5zM359.3 307.1h18.0v1.5h-18.0zM378.8 307.1h1.5v1.5h-1.5zM321.8 308.6h9.0v1.5h-9.0zM333.8 308.6h1.5v1.5h-1.5zM336.8 308.6h3.0v1.5h-3.0zM341.3 308.6h9.0v1.5h-9.0zM351.8 308.6h4.5v1.5h-4.5zM357.8 308.6h6.0v1.5h-6.0zM365.3 308.6h1.5v1.5h-1.5zM368.3 308.6h12.0v1.5h-12.0zM324.8 310.1h9.0v1.5h-9.0zM339.8 310.1h1.5v1.5h-1.5zM342.8 310.1h3.0v1.5h-3.0zM347.3 310.1h4.5v1.5h-4.5zM353.3 310.1h1.5v1.5h-1.5zM357.8 310.1h6.0v1.5h-6.0zM366.8 310.1h9.0v1.5h-9.0zM381.8 310.1h1.5v1.5h-1.5zM324.8 311.6h3.0v1.5h-3.0zM329.3 311.6h3.0v1.5h-3.0zM333.8 311.6h6.0v1.5h-6.0zM341.3 311.6h1.5v1.5h-1.5zM345.8 311.6h13.5v1.5h-13.5zM360.8 311.6h3.0v1.5h-3.0zM365.3 311.6h4.5v1.5h-4.5zM372.8 311.6h3.0v1.5h-3.0zM380.3 311.6h3.0v1.5h-3.0zM326.3 313.1h7.5v1.5h-7.5zM336.8 313.1h3.0v1.5h-3.0zM341.3 313.1h9.0v1.5h-9.0zM351.8 313.1h4.5v1.5h-4.5zM360.8 313.1h3.0v1.5h-3.0zM365.3 313.1h1.5v1.5h-1.5zM368.3 313.1h1.5v1.5h-1.5zM371.3 313.1h1.5v1.5h-1.5zM374.3 313.1h1.5v1.5h-1.5zM378.8 313.1h4.5v1.5h-4.5zM333.8 314.6h4.5v1.5h-4.5zM339.8 314.6h3.0v1.5h-3.0zM344.3 314.6h3.0v1.5h-3.0zM348.8 314.6h3.0v1.5h-3.0zM353.3 314.6h6.0v1.5h-6.0zM360.8 314.6h7.5v1.5h-7.5zM372.8 314.6h1.5v1.5h-1.5zM375.8 314.6h3.0v1.5h-3.0zM380.3 314.6h3.0v1.5h-3.0zM332.3 316.1h3.0v1.5h-3.0zM336.8 316.1h1.5v1.5h-1.5zM339.8 316.1h6.0v1.5h-6.0zM350.3 316.1h7.5v1.5h-7.5zM359.3 316.1h3.0v1.5h-3.0zM372.8 316.1h1.5v1.5h-1.5zM375.8 316.1h1.5v1.5h-1.5zM378.8 316.1h3.0v1.5h-3.0zM333.8 317.6h3.0v1.5h-3.0zM341.3 317.6h1.5v1.5h-1.5zM350.3 317.6h7.5v1.5h-7.5zM360.8 317.6h1.5v1.5h-1.5zM374.3 317.6h3.0v1.5h-3.0zM378.8 317.6h3.0v1.5h-3.0zM321.8 319.1h3.0v1.5h-3.0zM332.3 319.1h4.5v1.5h-4.5zM338.3 319.1h7.5v1.5h-7.5zM351.8 319.1h3.0v1.5h-3.0zM356.3 319.1h3.0v1.5h-3.0zM375.8 319.1h4.5v1.5h-4.5zM381.8 319.1h1.5v1.5h-1.5zM321.8 320.6h6.0v1.5h-6.0zM339.8 320.6h3.0v1.5h-3.0zM353.3 320.6h1.5v1.5h-1.5zM356.3 320.6h1.5v1.5h-1.5zM362.3 320.6h1.5v1.5h-1.5zM366.8 320.6h1.5v1.5h-1.5zM378.8 320.6h4.5v1.5h-4.5zM323.3 322.1h1.5v1.5h-1.5zM338.3 322.1h1.5v1.5h-1.5zM342.8 322.1h1.5v1.5h-1.5zM359.3 322.1h6.0v1.5h-6.0zM366.8 322.1h1.5v1.5h-1.5zM380.3 322.1h3.0v1.5h-3.0zM323.3 323.6h4.5v1.5h-4.5zM339.8 323.6h4.5v1.5h-4.5zM357.8 323.6h3.0v1.5h-3.0zM365.3 323.6h1.5v1.5h-1.5zM368.3 323.6h1.5v1.5h-1.5zM380.3 323.6h3.0v1.5h-3.0zM321.8 325.1h4.5v1.5h-4.5zM327.8 325.1h1.5v1.5h-1.5zM330.8 325.1h1.5v1.5h-1.5zM341.3 325.1h3.0v1.5h-3.0zM359.3 325.1h1.5v1.5h-1.5zM362.3 325.1h4.5v1.5h-4.5zM380.3 325.1h1.5v1.5h-1.5zM321.8 326.6h6.0v1.5h-6.0zM329.3 326.6h6.0v1.5h-6.0zM338.3 326.6h3.0v1.5h-3.0zM342.8 326.6h6.0v1.5h-6.0zM360.8 326.6h6.0v1.5h-6.0zM371.3 326.6h1.5v1.5h-1.5zM381.8 326.6h1.5v1.5h-1.5zM321.8 328.1h1.5v1.5h-1.5zM324.8 328.1h3.0v1.5h-3.0zM329.3 328.1h10.5v1.5h-10.5zM342.8 328.1h7.5v1.5h-7.5zM362.3 328.1h3.0v1.5h-3.0zM366.8 328.1h6.0v1.5h-6.0zM375.8 328.1h4.5v1.5h-4.5zM323.3 329.6h1.5v1.5h-1.5zM329.3 329.6h1.5v1.5h-1.5zM333.8 329.6h1.5v1.5h-1.5zM336.8 329.6h1.5v1.5h-1.5zM339.8 329.6h1.5v1.5h-1.5zM342.8 329.6h9.0v1.5h-9.0zM362.3 329.6h3.0v1.5h-3.0zM366.8 329.6h6.0v1.5h-6.0zM323.3 331.1h1.5v1.5h-1.5zM326.3 331.1h13.5v1.5h-13.5zM345.8 331.1h3.0v1.5h-3.0zM350.3 331.1h1.5v1.5h-1.5zM359.3 331.1h1.5v1.5h-1.5zM368.3 331.1h4.5v1.5h-4.5zM321.8 332.6h6.0v1.5h-6.0zM330.8 332.6h3.0v1.5h-3.0zM335.3 332.6h1.5v1.5h-1.5zM338.3 332.6h1.5v1.5h-1.5zM341.3 332.6h3.0v1.5h-3.0zM357.8 332.6h3.0v1.5h-3.0zM362.3 332.6h1.5v1.5h-1.5zM368.3 332.6h1.5v1.5h-1.5zM371.3 332.6h3.0v1.5h-3.0zM323.3 334.1h1.5v1.5h-1.5zM327.8 334.1h3.0v1.5h-3.0zM332.3 334.1h1.5v1.5h-1.5zM336.8 334.1h6.0v1.5h-6.0zM344.3 334.1h1.5v1.5h-1.5zM356.3 334.1h13.5v1.5h-13.5zM327.8 335.6h1.5v1.5h-1.5zM330.8 335.6h7.5v1.5h-7.5zM339.8 335.6h6.0v1.5h-6.0zM357.8 335.6h7.5v1.5h-7.5zM368.3 335.6h1.5v1.5h-1.5zM333.8 337.1h1.5v1.5h-1.5zM338.3 337.1h3.0v1.5h-3.0z" fill="#1414ff"/>
<path d="M333.8 296.6h1.5v1.5h-1.5zM339.8 296.6h3.0v1.5h-3.0zM356.3 296.6h1.5v1.5h-1.5zM365.3 296.6h1.5v1.5h-1.5zM335.3 298.1h1.5v1.5h-1.5zM363.8 298.1h1.5v1.5h-1.5zM332.3 299.6h4.5v1.5h-4.5zM344.3 299.6h1.5v1.5h-1.5zM350.3 299.6h3.0v1.5h-3.0zM362.3 299.6h3.0v1.5h-3.0zM374.3 299.6h1.5v1.5h-1.5zM324.8 301.1h1.5v1.5h-1.5zM329.3 301.1h1.5v1.5h-1.5zM341.3 301.1h1.5v1.5h-1.5zM347.3 301.1h1.5v1.5h-1.5zM356.3 301.1h1.5v1.5h-1.5zM371.3 301.1h1.5v1.5h-1.5zM330.8 302.6h1.5v1.5h-1.5zM342.8 302.6h1.5v1.5h-1.5zM345.8 302.6h1.5v1.5h-1.5zM350.3 302.6h1.5v1.5h-1.5zM381.8 302.6h3.0v1.5h-3.0zM321.8 304.1h1.5v1.5h-1.5zM324.8 304.1h1.5v1.5h-1.5zM347.3 304.1h1.5v1.5h-1.5zM359.3 304.1h1.5v1.5h-1.5zM383.3 304.1h1.5v1.5h-1.5zM365.3 305.6h3.0v1.5h-3.0zM381.8 305.6h1.5v1.5h-1.5zM399.8 305.6h1.5v1.5h-1.5zM323.3 307.1h1.5v1.5h-1.5zM326.3 307.1h1.5v1.5h-1.5zM342.8 307.1h1.5v1.5h-1.5zM357.8 307.1h1.5v1.5h-1.5zM332.3 308.6h1.5v1.5h-1.5zM339.8 308.6h1.5v1.5h-1.5zM356.3 308.6h1.5v1.5h-1.5zM363.8 308.6h1.5v1.5h-1.5zM366.8 308.6h1.5v1.5h-1.5zM336.8 310.1h3.0v1.5h-3.0zM341.3 310.1h1.5v1.5h-1.5zM339.8 311.6h1.5v1.5h-1.5zM378.8 311.6h1.5v1.5h-1.5zM404.3 311.6h1.5v1.5h-1.5zM363.8 313.1h1.5v1.5h-1.5zM407.3 313.1h3.0v1.5h-3.0zM323.3 314.6h1.5v1.5h-1.5zM359.3 314.6h1.5v1.5h-1.5zM405.8 314.6h1.5v1.5h-1.5zM410.3 314.6h1.5v1.5h-1.5zM329.3 316.1h1.5v1.5h-1.5zM338.3 316.1h1.5v1.5h-1.5zM347.3 316.1h1.5v1.5h-1.5zM357.8 316.1h1.5v1.5h-1.5zM365.3 316.1h1.5v1.5h-1.5zM377.3 316.1h1.5v1.5h-1.5zM381.8 316.1h1.5v1.5h-1.5zM390.8 316.1h1.5v1.5h-1.5zM393.8 316.1h1.5v1.5h-1.5zM405.8 316.1h3.0v1.5h-3.0zM396.8 317.6h1.5v1.5h-1.5zM348.8 319.1h1.5v1.5h-1.5zM359.3 319.1h3.0v1.5h-3.0zM371.3 319.1h1.5v1.5h-1.5zM396.8 319.1h1.5v1.5h-1.5zM404.3 319.1h1.5v1.5h-1.5zM329.3 320.6h1.5v1.5h-1.5zM333.8 320.6h3.0v1.5h-3.0zM342.8 320.6h1.5v1.5h-1.5zM350.3 320.6h1.5v1.5h-1.5zM354.8 320.6h1.5v1.5h-1.5zM372.8 320.6h1.5v1.5h-1.5zM396.8 320.6h1.5v1.5h-1.5zM324.8 322.1h1.5v1.5h-1.5zM335.3 322.1h1.5v1.5h-1.5zM347.3 322.1h3.0v1.5h-3.0zM383.3 322.1h3.0v1.5h-3.0zM396.8 322.1h1.5v1.5h-1.5zM335.3 323.6h1.5v1.5h-1.5zM348.8 323.6h1.5v1.5h-1.5zM360.8 323.6h1.5v1.5h-1.5zM374.3 323.6h1.5v1.5h-1.5zM383.3 323.6h3.0v1.5h-3.0zM387.8 323.6h1.5v1.5h-1.5zM329.3 325.1h1.5v1.5h-1.5zM335.3 325.1h1.5v1.5h-1.5zM357.8 325.1h1.5v1.5h-1.5zM368.3 325.1h1.5v1.5h-1.5zM383.3 325.1h1.5v1.5h-1.5zM386.3 325.1h3.0v1.5h-3.0zM402.8 325.1h1.5v1.5h-1.5zM411.8 325.1h1.5v1.5h-1.5zM353.3 326.6h4.5v1.5h-4.5zM359.3 326.6h1.5v1.5h-1.5zM384.8 326.6h1.5v1.5h-1.5zM389.3 326.6h1.5v1.5h-1.5zM411.8 326.6h3.0v1.5h-3.0zM323.3 328.1h1.5v1.5h-1.5zM341.3 328.1h1.5v1.5h-1.5zM350.3 328.1h1.5v1.5h-1.5zM359.3 328.1h3.0v1.5h-3.0zM365.3 328.1h1.5v1.5h-1.5zM381.8 328.1h1.5v1.5h-1.5zM384.8 328.1h1.5v1.5h-1.5zM390.8 328.1h1.5v1.5h-1.5zM410.3 328.1h4.5v1.5h-4.5zM324.8 329.6h1.5v1.5h-1.5zM327.8 329.6h1.5v1.5h-1.5zM381.8 329.6h3.0v1.5h-3.0zM387.8 329.6h1.5v1.5h-1.5zM390.8 329.6h1.5v1.5h-1.5zM411.8 329.6h1.5v1.5h-1.5zM321.8 331.1h1.5v1.5h-1.5zM339.8 331.1h1.5v1.5h-1.5zM344.3 331.1h1.5v1.5h-1.5zM348.8 331.1h1.5v1.5h-1.5zM351.8 331.1h3.0v1.5h-3.0zM372.8 331.1h1.5v1.5h-1.5zM375.8 331.1h1.5v1.5h-1.5zM383.3 331.1h3.0v1.5h-3.0zM398.3 331.1h1.5v1.5h-1.5zM402.8 331.1h1.5v1.5h-1.5zM407.3 331.1h3.0v1.5h-3.0zM411.8 331.1h1.5v1.5h-1.5zM347.3 332.6h1.5v1.5h-1.5zM351.8 332.6h1.5v1.5h-1.5zM390.8 332.6h1.5v1.5h-1.5zM326.3 334.1h1.5v1.5h-1.5zM347.3 334.1h3.0v1.5h-3.0zM351.8 334.1h3.0v1.5h-3.0zM386.3 334.1h1.5v1.5h-1.5zM389.3 334.1h1.5v1.5h-1.5zM347.3 335.6h1.5v1.5h-1.5zM350.3 335.6h6.0v1.5h-6.0zM369.8 335.6h3.0v1.5h-3.0zM386.3 335.6h1.5v1.5h-1.5zM389.3 335.6h1.5v1.5h-1.5zM345.8 337.1h1.5v1.5h-1.5zM392.3 337.1h1.5v1.5h-1.5zM378.8 338.6h1.5v1.5h-1.5zM395.3 338.6h1.5v1.5h-1.5zM344.3 340.1h1.5v1.5h-1.5zM381.8 340.1h1.5v1.5h-1.5zM387.8 340.1h1.5v1.5h-1.5zM371.3 343.1h1.5v1.5h-1.5zM381.8 343.1h1.5v1.5h-1.5zM357.8 346.1h1.5v1.5h-1.5zM389.3 346.1h1.5v1.5h-1.5zM365.3 347.6h3.0v1.5h-3.0zM375.8 347.6h3.0v1.5h-3.0zM389.3 347.6h1.5v1.5h-1.5zM374.3 349.1h1.5v1.5h-1.5zM377.3 349.1h1.5v1.5h-1.5zM374.3 350.6h1.5v1.5h-1.5zM374.3 353.6h1.5v1.5h-1.5z" fill="#000000"/>
<path d="M327.8 298.1h1.5v1.5h-1.5zM330.8 298.1h1.5v1.5h-1.5zM374.3 298.1h1.5v1.5h-1.5zM323.3 299.6h1.5v1.5h-1.5zM338.3 299.6h1.5v1.5h-1.5zM363.8 302.6h1.5v1.5h-1.5zM371.3 302.6h1.5v1.5h-1.5zM339.8 304.1h1.5v1.5h-1.5zM329.3 305.6h1.5v1.5h-1.5zM378.8 305.6h1.5v1.5h-1.5zM327.8 307.1h1.5v1.5h-1.5zM323.3 310.1h1.5v1.5h-1.5zM335.3 310.1h1.5v1.5h-1.5zM345.8 310.1h1.5v1.5h-1.5zM351.8 310.1h1.5v1.5h-1.5zM356.3 310.1h1.5v1.5h-1.5zM344.3 311.6h1.5v1.5h-1.5zM359.3 313.1h1.5v1.5h-1.5zM351.8 314.6h1.5v1.5h-1.5zM371.3 314.6h1.5v1.5h-1.5zM344.3 317.6h1.5v1.5h-1.5zM381.8 317.6h1.5v1.5h-1.5zM324.8 319.1h1.5v1.5h-1.5zM350.3 319.1h1.5v1.5h-1.5zM338.3 320.6h1.5v1.5h-1.5zM363.8 320.6h1.5v1.5h-1.5zM321.8 322.1h1.5v1.5h-1.5zM327.8 322.1h1.5v1.5h-1.5zM357.8 322.1h1.5v1.5h-1.5zM368.3 322.1h1.5v1.5h-1.5zM366.8 323.6h1.5v1.5h-1.5zM339.8 325.1h1.5v1.5h-1.5zM366.8 325.1h1.5v1.5h-1.5zM348.8 326.6h1.5v1.5h-1.5zM372.8 328.1h1.5v1.5h-1.5zM338.3 329.6h1.5v1.5h-1.5zM365.3 329.6h1.5v1.5h-1.5zM372.8 329.6h1.5v1.5h-1.5zM363.8 331.1h1.5v1.5h-1.5zM327.8 332.6h1.5v1.5h-1.5zM360.8 332.6h1.5v1.5h-1.5zM363.8 332.6h1.5v1.5h-1.5zM333.8 334.1h1.5v1.5h-1.5zM342.8 334.1h1.5v1.5h-1.5z" fill="#40e8f0"/>
<path d="M341.3 298.1h1.5v1.5h-1.5zM375.8 298.1h1.5v1.5h-1.5zM380.3 299.6h1.5v1.5h-1.5zM383.3 299.6h1.5v1.5h-1.5zM387.8 299.6h1.5v1.5h-1.5zM375.8 301.1h1.5v1.5h-1.5zM327.8 302.6h1.5v1.5h-1.5zM369.8 302.6h1.5v1.5h-1.5zM317.3 304.1h1.5v1.5h-1.5zM360.8 305.6h3.0v1.5h-3.0zM351.8 307.1h1.5v1.5h-1.5zM380.3 307.1h1.5v1.5h-1.5zM317.3 308.6h1.5v1.5h-1.5zM396.8 308.6h1.5v1.5h-1.5zM327.8 311.6h1.5v1.5h-1.5zM363.8 311.6h1.5v1.5h-1.5zM369.8 311.6h1.5v1.5h-1.5zM333.8 313.1h3.0v1.5h-3.0zM357.8 313.1h1.5v1.5h-1.5zM369.8 313.1h1.5v1.5h-1.5zM320.3 314.6h1.5v1.5h-1.5zM368.3 314.6h1.5v1.5h-1.5zM378.8 314.6h1.5v1.5h-1.5zM315.8 316.1h1.5v1.5h-1.5zM323.3 316.1h1.5v1.5h-1.5zM326.3 316.1h1.5v1.5h-1.5zM312.8 317.6h1.5v1.5h-1.5zM342.8 317.6h1.5v1.5h-1.5zM347.3 317.6h1.5v1.5h-1.5zM389.3 317.6h1.5v1.5h-1.5zM354.8 319.1h1.5v1.5h-1.5zM363.8 319.1h1.5v1.5h-1.5zM380.3 319.1h1.5v1.5h-1.5zM345.8 320.6h1.5v1.5h-1.5zM351.8 320.6h1.5v1.5h-1.5zM357.8 320.6h1.5v1.5h-1.5zM399.8 320.6h1.5v1.5h-1.5zM365.3 322.1h1.5v1.5h-1.5zM320.3 323.6h1.5v1.5h-1.5zM362.3 323.6h1.5v1.5h-1.5zM360.8 325.1h1.5v1.5h-1.5zM396.8 325.1h1.5v1.5h-1.5zM312.8 326.6h1.5v1.5h-1.5zM315.8 326.6h1.5v1.5h-1.5zM341.3 326.6h1.5v1.5h-1.5zM377.3 326.6h3.0v1.5h-3.0zM321.8 329.6h1.5v1.5h-1.5zM326.3 329.6h1.5v1.5h-1.5zM360.8 329.6h1.5v1.5h-1.5zM378.8 329.6h1.5v1.5h-1.5zM365.3 331.1h1.5v1.5h-1.5zM339.8 332.6h1.5v1.5h-1.5zM375.8 332.6h1.5v1.5h-1.5zM395.3 332.6h1.5v1.5h-1.5zM401.3 332.6h1.5v1.5h-1.5zM330.8 334.1h1.5v1.5h-1.5zM381.8 334.1h1.5v1.5h-1.5zM338.3 335.6h1.5v1.5h-1.5zM374.3 335.6h1.5v1.5h-1.5zM347.3 337.1h18.0v1.5h-18.0zM381.8 337.1h1.5v1.5h-1.5zM347.3 338.6h3.0v1.5h-3.0zM353.3 338.6h6.0v1.5h-6.0zM347.3 340.1h3.0v1.5h-3.0zM353.3 340.1h3.0v1.5h-3.0zM357.8 340.1h1.5v1.5h-1.5zM347.3 341.6h10.5v1.5h-10.5zM359.3 341.6h3.0v1.5h-3.0zM348.8 343.1h6.0v1.5h-6.0zM357.8 343.1h4.5v1.5h-4.5zM366.8 343.1h1.5v1.5h-1.5zM351.8 344.6h3.0v1.5h-3.0zM356.3 344.6h6.0v1.5h-6.0zM378.8 344.6h7.5v1.5h-7.5zM354.8 346.1h3.0v1.5h-3.0zM378.8 346.1h1.5v1.5h-1.5zM381.8 346.1h1.5v1.5h-1.5zM384.8 346.1h1.5v1.5h-1.5zM356.3 347.6h1.5v1.5h-1.5zM380.3 347.6h4.5v1.5h-4.5zM360.8 349.1h1.5v1.5h-1.5zM363.8 349.1h1.5v1.5h-1.5zM378.8 349.1h3.0v1.5h-3.0zM383.3 349.1h3.0v1.5h-3.0zM378.8 350.6h7.5v1.5h-7.5zM383.3 352.1h1.5v1.5h-1.5zM378.8 353.6h4.5v1.5h-4.5zM378.8 355.1h4.5v1.5h-4.5z" fill="#ff1818"/>
<path d="M322.0 286.8h10.3v10.3h-10.3zM353.0 297.1h10.3v10.3h-10.3zM363.4 297.1h10.3v10.3h-10.3zM373.7 297.1h10.3v10.3h-10.3zM384.1 297.1h10.3v10.3h-10.3zM311.6 307.4h10.3v10.3h-10.3zM322.0 307.4h10.3v10.3h-10.3zM404.8 307.4h10.3v10.3h-10.3zM311.6 317.7h10.3v10.3h-10.3zM322.0 317.7h10.3v10.3h-10.3zM311.6 328.0h10.3v10.3h-10.3zM322.0 328.0h10.3v10.3h-10.3zM332.3 328.0h10.3v10.3h-10.3zM342.7 328.0h10.3v10.3h-10.3zM353.0 328.0h10.3v10.3h-10.3zM363.4 328.0h10.3v10.3h-10.3zM363.4 338.3h10.3v10.3h-10.3zM394.4 338.3h10.3v10.3h-10.3zM363.4 348.6h10.3v10.3h-10.3z" fill="none" stroke="#e0921e" stroke-width="0.9"/>
<path d="M332.3 286.8h10.3v10.3h-10.3zM342.7 286.8h10.3v10.3h-10.3zM394.4 297.1h10.3v10.3h-10.3zM384.1 307.4h10.3v10.3h-10.3zM394.4 307.4h10.3v10.3h-10.3zM384.1 317.7h10.3v10.3h-10.3zM394.4 317.7h10.3v10.3h-10.3zM373.7 328.0h10.3v10.3h-10.3zM384.1 328.0h10.3v10.3h-10.3zM394.4 328.0h10.3v10.3h-10.3zM342.7 338.3h10.3v10.3h-10.3zM353.0 338.3h10.3v10.3h-10.3zM373.7 338.3h10.3v10.3h-10.3zM384.1 338.3h10.3v10.3h-10.3zM373.7 348.6h10.3v10.3h-10.3zM384.1 348.6h10.3v10.3h-10.3z" fill="none" stroke="#dc32dc" stroke-width="0.9"/>
<path d="M322.0 297.1h10.3v10.3h-10.3zM332.3 297.1h10.3v10.3h-10.3zM342.7 297.1h10.3v10.3h-10.3zM332.3 307.4h10.3v10.3h-10.3zM342.7 307.4h10.3v10.3h-10.3zM353.0 307.4h10.3v10.3h-10.3zM363.4 307.4h10.3v10.3h-10.3zM373.7 307.4h10.3v10.3h-10.3zM332.3 317.7h10.3v10.3h-10.3zM342.7 317.7h10.3v10.3h-10.3zM353.0 317.7h10.3v10.3h-10.3zM363.4 317.7h10.3v10.3h-10.3zM373.7 317.7h10.3v10.3h-10.3zM404.8 317.7h10.3v10.3h-10.3zM404.8 328.0h10.3v10.3h-10.3z" fill="none" stroke="#62d0d0" stroke-width="0.9"/>
<rect x="452.2" y="284.2" width="126" height="73.6" fill="#000"/>
<path d="M493.0 286.0h1.5v1.5h-1.5zM497.5 286.0h1.5v1.5h-1.5zM493.0 287.5h1.5v1.5h-1.5zM499.0 287.5h3.0v1.5h-3.0zM494.5 289.0h1.5v1.5h-1.5zM499.0 289.0h1.5v1.5h-1.5zM503.5 292.0h1.5v1.5h-1.5zM511.0 296.5h1.5v1.5h-1.5zM505.0 301.0h1.5v1.5h-1.5zM538.0 304.0h1.5v1.5h-1.5zM556.0 304.0h3.0v1.5h-3.0zM503.5 305.5h1.5v1.5h-1.5zM538.0 305.5h1.5v1.5h-1.5zM542.5 305.5h1.5v1.5h-1.5zM553.0 305.5h3.0v1.5h-3.0zM559.0 305.5h1.5v1.5h-1.5zM536.5 308.5h1.5v1.5h-1.5zM541.0 308.5h1.5v1.5h-1.5zM562.0 308.5h1.5v1.5h-1.5zM536.5 310.0h1.5v1.5h-1.5zM541.0 313.0h1.5v1.5h-1.5zM553.0 313.0h1.5v1.5h-1.5zM527.5 316.0h1.5v1.5h-1.5zM533.5 316.0h1.5v1.5h-1.5zM542.5 316.0h1.5v1.5h-1.5zM557.5 316.0h1.5v1.5h-1.5zM560.5 316.0h3.0v1.5h-3.0zM526.0 317.5h1.5v1.5h-1.5zM533.5 317.5h1.5v1.5h-1.5zM542.5 317.5h4.5v1.5h-4.5zM560.5 317.5h1.5v1.5h-1.5zM467.5 319.0h1.5v1.5h-1.5zM473.5 319.0h1.5v1.5h-1.5zM538.0 319.0h1.5v1.5h-1.5zM521.5 320.5h1.5v1.5h-1.5zM542.5 320.5h1.5v1.5h-1.5zM547.0 320.5h1.5v1.5h-1.5zM464.5 322.0h1.5v1.5h-1.5zM523.0 322.0h1.5v1.5h-1.5zM526.0 322.0h1.5v1.5h-1.5zM530.5 322.0h1.5v1.5h-1.5zM536.5 322.0h1.5v1.5h-1.5zM542.5 322.0h1.5v1.5h-1.5zM545.5 322.0h1.5v1.5h-1.5zM470.5 323.5h1.5v1.5h-1.5zM536.5 323.5h4.5v1.5h-4.5zM551.5 323.5h3.0v1.5h-3.0zM469.0 325.0h3.0v1.5h-3.0zM512.5 325.0h1.5v1.5h-1.5zM527.5 325.0h3.0v1.5h-3.0zM547.0 325.0h1.5v1.5h-1.5zM461.5 326.5h1.5v1.5h-1.5zM466.0 326.5h1.5v1.5h-1.5zM512.5 326.5h1.5v1.5h-1.5zM518.5 326.5h1.5v1.5h-1.5zM521.5 326.5h1.5v1.5h-1.5zM524.5 326.5h1.5v1.5h-1.5zM530.5 326.5h1.5v1.5h-1.5zM470.5 328.0h1.5v1.5h-1.5zM475.0 328.0h1.5v1.5h-1.5zM523.0 328.0h1.5v1.5h-1.5zM542.5 328.0h1.5v1.5h-1.5zM467.5 329.5h1.5v1.5h-1.5zM488.5 329.5h3.0v1.5h-3.0zM509.5 329.5h1.5v1.5h-1.5zM533.5 329.5h1.5v1.5h-1.5zM550.0 329.5h1.5v1.5h-1.5zM467.5 331.0h3.0v1.5h-3.0zM517.0 331.0h1.5v1.5h-1.5zM533.5 331.0h1.5v1.5h-1.5zM536.5 331.0h1.5v1.5h-1.5zM457.0 332.5h3.0v1.5h-3.0zM505.0 332.5h1.5v1.5h-1.5zM520.0 332.5h1.5v1.5h-1.5zM535.0 332.5h1.5v1.5h-1.5zM523.0 334.0h1.5v1.5h-1.5zM529.0 334.0h3.0v1.5h-3.0zM458.5 335.5h1.5v1.5h-1.5zM491.5 335.5h1.5v1.5h-1.5zM505.0 335.5h1.5v1.5h-1.5zM545.5 335.5h1.5v1.5h-1.5zM454.0 337.0h1.5v1.5h-1.5zM457.0 337.0h1.5v1.5h-1.5zM469.0 337.0h1.5v1.5h-1.5zM473.5 337.0h3.0v1.5h-3.0zM479.5 337.0h3.0v1.5h-3.0zM496.0 337.0h1.5v1.5h-1.5zM503.5 337.0h1.5v1.5h-1.5zM457.0 338.5h1.5v1.5h-1.5zM479.5 338.5h1.5v1.5h-1.5zM485.5 338.5h1.5v1.5h-1.5zM488.5 338.5h1.5v1.5h-1.5zM496.0 340.0h1.5v1.5h-1.5zM542.5 340.0h1.5v1.5h-1.5zM470.5 341.5h1.5v1.5h-1.5zM521.5 341.5h3.0v1.5h-3.0zM532.0 341.5h1.5v1.5h-1.5zM461.5 343.0h1.5v1.5h-1.5zM464.5 343.0h1.5v1.5h-1.5zM467.5 343.0h1.5v1.5h-1.5zM526.0 343.0h1.5v1.5h-1.5zM466.0 344.5h1.5v1.5h-1.5zM529.0 344.5h1.5v1.5h-1.5zM524.5 347.5h1.5v1.5h-1.5zM457.0 349.0h1.5v1.5h-1.5zM460.0 349.0h1.5v1.5h-1.5zM458.5 350.5h1.5v1.5h-1.5zM463.0 350.5h1.5v1.5h-1.5zM457.0 352.0h1.5v1.5h-1.5zM467.5 352.0h1.5v1.5h-1.5zM460.0 353.5h1.5v1.5h-1.5z" fill="#000000"/>
<path d="M494.5 286.0h3.0v1.5h-3.0zM499.0 286.0h3.0v1.5h-3.0zM490.0 287.5h1.5v1.5h-1.5zM496.0 287.5h3.0v1.5h-3.0zM490.0 289.0h1.5v1.5h-1.5zM500.5 289.0h4.5v1.5h-4.5zM490.0 290.5h1.5v1.5h-1.5zM505.0 292.0h1.5v1.5h-1.5zM508.0 292.0h1.5v1.5h-1.5zM508.0 293.5h1.5v1.5h-1.5zM505.0 296.5h1.5v1.5h-1.5zM493.0 298.0h1.5v1.5h-1.5zM503.5 299.5h1.5v1.5h-1.5zM503.5 301.0h1.5v1.5h-1.5zM506.5 301.0h4.5v1.5h-4.5zM485.5 302.5h1.5v1.5h-1.5zM505.0 302.5h1.5v1.5h-1.5zM512.5 302.5h1.5v1.5h-1.5zM557.5 302.5h3.0v1.5h-3.0zM503.5 304.0h1.5v1.5h-1.5zM511.0 304.0h1.5v1.5h-1.5zM514.0 304.0h1.5v1.5h-1.5zM551.5 304.0h1.5v1.5h-1.5zM554.5 304.0h1.5v1.5h-1.5zM560.5 304.0h3.0v1.5h-3.0zM484.0 305.5h1.5v1.5h-1.5zM488.5 305.5h1.5v1.5h-1.5zM500.5 305.5h1.5v1.5h-1.5zM505.0 305.5h1.5v1.5h-1.5zM508.0 305.5h1.5v1.5h-1.5zM541.0 305.5h1.5v1.5h-1.5zM544.0 305.5h6.0v1.5h-6.0zM556.0 305.5h1.5v1.5h-1.5zM560.5 305.5h4.5v1.5h-4.5zM488.5 307.0h1.5v1.5h-1.5zM493.0 307.0h1.5v1.5h-1.5zM496.0 307.0h1.5v1.5h-1.5zM503.5 307.0h3.0v1.5h-3.0zM532.0 307.0h1.5v1.5h-1.5zM536.5 307.0h1.5v1.5h-1.5zM539.5 307.0h1.5v1.5h-1.5zM542.5 307.0h7.5v1.5h-7.5zM551.5 307.0h1.5v1.5h-1.5zM554.5 307.0h1.5v1.5h-1.5zM563.5 307.0h1.5v1.5h-1.5zM479.5 308.5h1.5v1.5h-1.5zM482.5 308.5h1.5v1.5h-1.5zM508.0 308.5h3.0v1.5h-3.0zM527.5 308.5h1.5v1.5h-1.5zM530.5 308.5h3.0v1.5h-3.0zM539.5 308.5h1.5v1.5h-1.5zM550.0 308.5h1.5v1.5h-1.5zM553.0 308.5h1.5v1.5h-1.5zM557.5 308.5h4.5v1.5h-4.5zM563.5 308.5h1.5v1.5h-1.5zM566.5 308.5h1.5v1.5h-1.5zM485.5 310.0h1.5v1.5h-1.5zM494.5 310.0h1.5v1.5h-1.5zM505.0 310.0h1.5v1.5h-1.5zM526.0 310.0h1.5v1.5h-1.5zM532.0 310.0h3.0v1.5h-3.0zM539.5 310.0h1.5v1.5h-1.5zM544.0 310.0h6.0v1.5h-6.0zM553.0 310.0h3.0v1.5h-3.0zM559.0 310.0h3.0v1.5h-3.0zM565.0 310.0h1.5v1.5h-1.5zM487.0 311.5h1.5v1.5h-1.5zM512.5 311.5h1.5v1.5h-1.5zM529.0 311.5h1.5v1.5h-1.5zM535.0 311.5h3.0v1.5h-3.0zM542.5 311.5h1.5v1.5h-1.5zM545.5 311.5h1.5v1.5h-1.5zM551.5 311.5h1.5v1.5h-1.5zM556.0 311.5h1.5v1.5h-1.5zM560.5 311.5h1.5v1.5h-1.5zM565.0 311.5h3.0v1.5h-3.0zM481.0 313.0h1.5v1.5h-1.5zM503.5 313.0h1.5v1.5h-1.5zM529.0 313.0h1.5v1.5h-1.5zM536.5 313.0h1.5v1.5h-1.5zM542.5 313.0h4.5v1.5h-4.5zM548.5 313.0h1.5v1.5h-1.5zM551.5 313.0h1.5v1.5h-1.5zM556.0 313.0h4.5v1.5h-4.5zM563.5 313.0h4.5v1.5h-4.5zM478.0 314.5h1.5v1.5h-1.5zM482.5 314.5h1.5v1.5h-1.5zM503.5 314.5h4.5v1.5h-4.5zM524.5 314.5h1.5v1.5h-1.5zM527.5 314.5h1.5v1.5h-1.5zM532.0 314.5h1.5v1.5h-1.5zM536.5 314.5h1.5v1.5h-1.5zM541.0 314.5h3.0v1.5h-3.0zM545.5 314.5h6.0v1.5h-6.0zM553.0 314.5h1.5v1.5h-1.5zM556.0 314.5h3.0v1.5h-3.0zM562.0 314.5h4.5v1.5h-4.5zM470.5 316.0h1.5v1.5h-1.5zM497.5 316.0h1.5v1.5h-1.5zM503.5 316.0h3.0v1.5h-3.0zM514.0 316.0h1.5v1.5h-1.5zM524.5 316.0h3.0v1.5h-3.0zM535.0 316.0h4.5v1.5h-4.5zM541.0 316.0h1.5v1.5h-1.5zM544.0 316.0h1.5v1.5h-1.5zM548.5 316.0h3.0v1.5h-3.0zM553.0 316.0h1.5v1.5h-1.5zM559.0 316.0h1.5v1.5h-1.5zM565.0 316.0h1.5v1.5h-1.5zM469.0 317.5h1.5v1.5h-1.5zM482.5 317.5h1.5v1.5h-1.5zM499.0 317.5h1.5v1.5h-1.5zM505.0 317.5h1.5v1.5h-1.5zM523.0 317.5h3.0v1.5h-3.0zM530.5 317.5h3.0v1.5h-3.0zM535.0 317.5h1.5v1.5h-1.5zM539.5 317.5h1.5v1.5h-1.5zM547.0 317.5h1.5v1.5h-1.5zM550.0 317.5h1.5v1.5h-1.5zM553.0 317.5h1.5v1.5h-1.5zM466.0 319.0h1.5v1.5h-1.5zM469.0 319.0h3.0v1.5h-3.0zM475.0 319.0h1.5v1.5h-1.5zM484.0 319.0h1.5v1.5h-1.5zM487.0 319.0h4.5v1.5h-4.5zM509.5 319.0h1.5v1.5h-1.5zM527.5 319.0h1.5v1.5h-1.5zM533.5 319.0h1.5v1.5h-1.5zM550.0 319.0h4.5v1.5h-4.5zM556.0 319.0h3.0v1.5h-3.0zM464.5 320.5h3.0v1.5h-3.0zM469.0 320.5h3.0v1.5h-3.0zM476.5 320.5h1.5v1.5h-1.5zM496.0 320.5h1.5v1.5h-1.5zM499.0 320.5h1.5v1.5h-1.5zM533.5 320.5h1.5v1.5h-1.5zM536.5 320.5h1.5v1.5h-1.5zM541.0 320.5h1.5v1.5h-1.5zM544.0 320.5h1.5v1.5h-1.5zM550.0 320.5h1.5v1.5h-1.5zM553.0 320.5h4.5v1.5h-4.5zM466.0 322.0h6.0v1.5h-6.0zM494.5 322.0h1.5v1.5h-1.5zM524.5 322.0h1.5v1.5h-1.5zM527.5 322.0h1.5v1.5h-1.5zM533.5 322.0h1.5v1.5h-1.5zM539.5 322.0h3.0v1.5h-3.0zM548.5 322.0h4.5v1.5h-4.5zM554.5 322.0h1.5v1.5h-1.5zM463.0 323.5h6.0v1.5h-6.0zM476.5 323.5h1.5v1.5h-1.5zM484.0 323.5h3.0v1.5h-3.0zM493.0 323.5h4.5v1.5h-4.5zM512.5 323.5h1.5v1.5h-1.5zM524.5 323.5h3.0v1.5h-3.0zM533.5 323.5h1.5v1.5h-1.5zM541.0 323.5h4.5v1.5h-4.5zM461.5 325.0h6.0v1.5h-6.0zM472.0 325.0h1.5v1.5h-1.5zM484.0 325.0h3.0v1.5h-3.0zM494.5 325.0h3.0v1.5h-3.0zM499.0 325.0h1.5v1.5h-1.5zM508.0 325.0h1.5v1.5h-1.5zM518.5 325.0h3.0v1.5h-3.0zM530.5 325.0h1.5v1.5h-1.5zM533.5 325.0h6.0v1.5h-6.0zM545.5 325.0h1.5v1.5h-1.5zM548.5 325.0h1.5v1.5h-1.5zM551.5 325.0h1.5v1.5h-1.5zM463.0 326.5h3.0v1.5h-3.0zM470.5 326.5h3.0v1.5h-3.0zM520.0 326.5h1.5v1.5h-1.5zM527.5 326.5h1.5v1.5h-1.5zM532.0 326.5h6.0v1.5h-6.0zM539.5 326.5h4.5v1.5h-4.5zM547.0 326.5h1.5v1.5h-1.5zM550.0 326.5h3.0v1.5h-3.0zM460.0 328.0h10.5v1.5h-10.5zM472.0 328.0h3.0v1.5h-3.0zM490.0 328.0h1.5v1.5h-1.5zM520.0 328.0h3.0v1.5h-3.0zM526.0 328.0h4.5v1.5h-4.5zM532.0 328.0h3.0v1.5h-3.0zM536.5 328.0h1.5v1.5h-1.5zM544.0 328.0h3.0v1.5h-3.0zM550.0 328.0h1.5v1.5h-1.5zM463.0 329.5h1.5v1.5h-1.5zM469.0 329.5h7.5v1.5h-7.5zM503.5 329.5h1.5v1.5h-1.5zM517.0 329.5h1.5v1.5h-1.5zM520.0 329.5h3.0v1.5h-3.0zM526.0 329.5h3.0v1.5h-3.0zM530.5 329.5h3.0v1.5h-3.0zM536.5 329.5h3.0v1.5h-3.0zM457.0 331.0h3.0v1.5h-3.0zM463.0 331.0h3.0v1.5h-3.0zM473.5 331.0h1.5v1.5h-1.5zM476.5 331.0h1.5v1.5h-1.5zM494.5 331.0h1.5v1.5h-1.5zM506.5 331.0h6.0v1.5h-6.0zM521.5 331.0h3.0v1.5h-3.0zM526.0 331.0h3.0v1.5h-3.0zM532.0 331.0h1.5v1.5h-1.5zM535.0 331.0h1.5v1.5h-1.5zM538.0 331.0h1.5v1.5h-1.5zM541.0 331.0h3.0v1.5h-3.0zM545.5 331.0h1.5v1.5h-1.5zM550.0 331.0h1.5v1.5h-1.5zM463.0 332.5h4.5v1.5h-4.5zM469.0 332.5h1.5v1.5h-1.5zM472.0 332.5h1.5v1.5h-1.5zM475.0 332.5h1.5v1.5h-1.5zM479.5 332.5h3.0v1.5h-3.0zM500.5 332.5h1.5v1.5h-1.5zM503.5 332.5h1.5v1.5h-1.5zM506.5 332.5h4.5v1.5h-4.5zM523.0 332.5h6.0v1.5h-6.0zM536.5 332.5h1.5v1.5h-1.5zM545.5 332.5h3.0v1.5h-3.0zM458.5 334.0h7.5v1.5h-7.5zM469.0 334.0h1.5v1.5h-1.5zM473.5 334.0h1.5v1.5h-1.5zM479.5 334.0h3.0v1.5h-3.0zM484.0 334.0h1.5v1.5h-1.5zM494.5 334.0h1.5v1.5h-1.5zM500.5 334.0h7.5v1.5h-7.5zM518.5 334.0h1.5v1.5h-1.5zM524.5 334.0h1.5v1.5h-1.5zM527.5 334.0h1.5v1.5h-1.5zM535.0 334.0h3.0v1.5h-3.0zM548.5 334.0h1.5v1.5h-1.5zM457.0 335.5h1.5v1.5h-1.5zM461.5 335.5h1.5v1.5h-1.5zM464.5 335.5h1.5v1.5h-1.5zM469.0 335.5h1.5v1.5h-1.5zM472.0 335.5h13.5v1.5h-13.5zM487.0 335.5h4.5v1.5h-4.5zM494.5 335.5h4.5v1.5h-4.5zM500.5 335.5h1.5v1.5h-1.5zM506.5 335.5h1.5v1.5h-1.5zM517.0 335.5h1.5v1.5h-1.5zM520.0 335.5h3.0v1.5h-3.0zM524.5 335.5h1.5v1.5h-1.5zM527.5 335.5h1.5v1.5h-1.5zM532.0 335.5h3.0v1.5h-3.0zM460.0 337.0h1.5v1.5h-1.5zM464.5 337.0h3.0v1.5h-3.0zM472.0 337.0h1.5v1.5h-1.5zM476.5 337.0h1.5v1.5h-1.5zM484.0 337.0h1.5v1.5h-1.5zM487.0 337.0h1.5v1.5h-1.5zM490.0 337.0h3.0v1.5h-3.0zM494.5 337.0h1.5v1.5h-1.5zM500.5 337.0h3.0v1.5h-3.0zM505.0 337.0h1.5v1.5h-1.5zM520.0 337.0h1.5v1.5h-1.5zM523.0 337.0h1.5v1.5h-1.5zM527.5 337.0h1.5v1.5h-1.5zM535.0 337.0h1.5v1.5h-1.5zM541.0 337.0h1.5v1.5h-1.5zM544.0 337.0h1.5v1.5h-1.5zM460.0 338.5h4.5v1.5h-4.5zM467.5 338.5h4.5v1.5h-4.5zM473.5 338.5h1.5v1.5h-1.5zM478.0 338.5h1.5v1.5h-1.5zM490.0 338.5h1.5v1.5h-1.5zM494.5 338.5h4.5v1.5h-4.5zM500.5 338.5h3.0v1.5h-3.0zM520.0 338.5h3.0v1.5h-3.0zM524.5 338.5h4.5v1.5h-4.5zM530.5 338.5h3.0v1.5h-3.0zM535.0 338.5h3.0v1.5h-3.0zM539.5 338.5h1.5v1.5h-1.5zM542.5 338.5h1.5v1.5h-1.5zM454.0 340.0h3.0v1.5h-3.0zM458.5 340.0h7.5v1.5h-7.5zM467.5 340.0h4.5v1.5h-4.5zM473.5 340.0h6.0v1.5h-6.0zM484.0 340.0h3.0v1.5h-3.0zM488.5 340.0h3.0v1.5h-3.0zM494.5 340.0h1.5v1.5h-1.5zM499.0 340.0h1.5v1.5h-1.5zM521.5 340.0h3.0v1.5h-3.0zM527.5 340.0h6.0v1.5h-6.0zM538.0 340.0h1.5v1.5h-1.5zM457.0 341.5h1.5v1.5h-1.5zM461.5 341.5h1.5v1.5h-1.5zM466.0 341.5h3.0v1.5h-3.0zM473.5 341.5h3.0v1.5h-3.0zM478.0 341.5h1.5v1.5h-1.5zM482.5 341.5h4.5v1.5h-4.5zM496.0 341.5h1.5v1.5h-1.5zM499.0 341.5h1.5v1.5h-1.5zM520.0 341.5h1.5v1.5h-1.5zM524.5 341.5h1.5v1.5h-1.5zM527.5 341.5h3.0v1.5h-3.0zM535.0 341.5h1.5v1.5h-1.5zM539.5 341.5h1.5v1.5h-1.5zM542.5 341.5h1.5v1.5h-1.5zM455.5 343.0h6.0v1.5h-6.0zM463.0 343.0h1.5v1.5h-1.5zM466.0 343.0h1.5v1.5h-1.5zM475.0 343.0h3.0v1.5h-3.0zM523.0 343.0h1.5v1.5h-1.5zM527.5 343.0h1.5v1.5h-1.5zM530.5 343.0h3.0v1.5h-3.0zM535.0 343.0h1.5v1.5h-1.5zM538.0 343.0h1.5v1.5h-1.5zM455.5 344.5h1.5v1.5h-1.5zM458.5 344.5h1.5v1.5h-1.5zM463.0 344.5h1.5v1.5h-1.5zM469.0 344.5h7.5v1.5h-7.5zM524.5 344.5h3.0v1.5h-3.0zM530.5 344.5h3.0v1.5h-3.0zM538.0 344.5h3.0v1.5h-3.0zM455.5 346.0h6.0v1.5h-6.0zM463.0 346.0h3.0v1.5h-3.0zM470.5 346.0h3.0v1.5h-3.0zM524.5 346.0h1.5v1.5h-1.5zM530.5 346.0h4.5v1.5h-4.5zM538.0 346.0h1.5v1.5h-1.5zM454.0 347.5h1.5v1.5h-1.5zM460.0 347.5h1.5v1.5h-1.5zM466.0 347.5h6.0v1.5h-6.0zM526.0 347.5h3.0v1.5h-3.0zM458.5 349.0h1.5v1.5h-1.5zM461.5 349.0h6.0v1.5h-6.0zM526.0 349.0h1.5v1.5h-1.5zM532.0 349.0h1.5v1.5h-1.5zM455.5 350.5h3.0v1.5h-3.0zM460.0 350.5h3.0v1.5h-3.0zM467.5 350.5h1.5v1.5h-1.5zM455.5 352.0h1.5v1.5h-1.5zM460.0 352.0h1.5v1.5h-1.5zM464.5 352.0h1.5v1.5h-1.5zM463.0 353.5h3.0v1.5h-3.0z" fill="#40f020"/>
<path d="M502.0 286.0h1.5v1.5h-1.5zM491.5 287.5h1.5v1.5h-1.5zM494.5 287.5h1.5v1.5h-1.5zM502.0 287.5h3.0v1.5h-3.0zM488.5 289.0h1.5v1.5h-1.5zM505.0 289.0h1.5v1.5h-1.5zM488.5 290.5h1.5v1.5h-1.5zM500.5 290.5h3.0v1.5h-3.0zM506.5 290.5h1.5v1.5h-1.5zM488.5 292.0h1.5v1.5h-1.5zM491.5 292.0h1.5v1.5h-1.5zM502.0 295.0h1.5v1.5h-1.5zM509.5 295.0h1.5v1.5h-1.5zM490.0 298.0h1.5v1.5h-1.5zM499.0 298.0h1.5v1.5h-1.5zM509.5 298.0h1.5v1.5h-1.5zM512.5 299.5h1.5v1.5h-1.5zM493.0 301.0h1.5v1.5h-1.5zM502.0 301.0h1.5v1.5h-1.5zM503.5 302.5h1.5v1.5h-1.5zM511.0 302.5h1.5v1.5h-1.5zM541.0 304.0h1.5v1.5h-1.5zM487.0 305.5h1.5v1.5h-1.5zM502.0 305.5h1.5v1.5h-1.5zM509.5 305.5h1.5v1.5h-1.5zM482.5 307.0h1.5v1.5h-1.5zM491.5 307.0h1.5v1.5h-1.5zM494.5 307.0h1.5v1.5h-1.5zM530.5 307.0h1.5v1.5h-1.5zM533.5 307.0h3.0v1.5h-3.0zM550.0 307.0h1.5v1.5h-1.5zM553.0 307.0h1.5v1.5h-1.5zM535.0 308.5h1.5v1.5h-1.5zM551.5 308.5h1.5v1.5h-1.5zM478.0 310.0h3.0v1.5h-3.0zM488.5 310.0h1.5v1.5h-1.5zM497.5 310.0h1.5v1.5h-1.5zM529.0 310.0h1.5v1.5h-1.5zM550.0 310.0h1.5v1.5h-1.5zM476.5 311.5h1.5v1.5h-1.5zM500.5 311.5h1.5v1.5h-1.5zM503.5 311.5h1.5v1.5h-1.5zM533.5 311.5h1.5v1.5h-1.5zM550.0 311.5h1.5v1.5h-1.5zM553.0 311.5h1.5v1.5h-1.5zM478.0 313.0h1.5v1.5h-1.5zM497.5 313.0h1.5v1.5h-1.5zM533.5 314.5h3.0v1.5h-3.0zM472.0 316.0h1.5v1.5h-1.5zM487.0 316.0h1.5v1.5h-1.5zM493.0 316.0h1.5v1.5h-1.5zM508.0 316.0h1.5v1.5h-1.5zM512.5 316.0h1.5v1.5h-1.5zM532.0 316.0h1.5v1.5h-1.5zM539.5 316.0h1.5v1.5h-1.5zM467.5 317.5h1.5v1.5h-1.5zM475.0 317.5h3.0v1.5h-3.0zM488.5 317.5h1.5v1.5h-1.5zM503.5 317.5h1.5v1.5h-1.5zM509.5 317.5h1.5v1.5h-1.5zM521.5 317.5h1.5v1.5h-1.5zM472.0 319.0h1.5v1.5h-1.5zM481.0 319.0h1.5v1.5h-1.5zM523.0 319.0h1.5v1.5h-1.5zM539.5 319.0h1.5v1.5h-1.5zM485.5 320.5h1.5v1.5h-1.5zM502.0 320.5h1.5v1.5h-1.5zM508.0 320.5h1.5v1.5h-1.5zM511.0 320.5h3.0v1.5h-3.0zM520.0 320.5h1.5v1.5h-1.5zM523.0 320.5h1.5v1.5h-1.5zM530.5 320.5h3.0v1.5h-3.0zM479.5 322.0h1.5v1.5h-1.5zM487.0 322.0h1.5v1.5h-1.5zM491.5 322.0h3.0v1.5h-3.0zM499.0 322.0h1.5v1.5h-1.5zM529.0 322.0h1.5v1.5h-1.5zM469.0 323.5h1.5v1.5h-1.5zM472.0 323.5h1.5v1.5h-1.5zM478.0 323.5h1.5v1.5h-1.5zM523.0 323.5h1.5v1.5h-1.5zM509.5 325.0h1.5v1.5h-1.5zM521.5 325.0h6.0v1.5h-6.0zM542.5 325.0h1.5v1.5h-1.5zM550.0 325.0h1.5v1.5h-1.5zM460.0 326.5h1.5v1.5h-1.5zM467.5 326.5h1.5v1.5h-1.5zM484.0 326.5h1.5v1.5h-1.5zM494.5 326.5h1.5v1.5h-1.5zM505.0 326.5h1.5v1.5h-1.5zM523.0 326.5h1.5v1.5h-1.5zM538.0 326.5h1.5v1.5h-1.5zM479.5 328.0h1.5v1.5h-1.5zM518.5 328.0h1.5v1.5h-1.5zM538.0 328.0h1.5v1.5h-1.5zM541.0 328.0h1.5v1.5h-1.5zM548.5 328.0h1.5v1.5h-1.5zM478.0 329.5h3.0v1.5h-3.0zM485.5 329.5h3.0v1.5h-3.0zM511.0 329.5h1.5v1.5h-1.5zM524.5 329.5h1.5v1.5h-1.5zM535.0 329.5h1.5v1.5h-1.5zM541.0 329.5h1.5v1.5h-1.5zM547.0 329.5h3.0v1.5h-3.0zM478.0 331.0h1.5v1.5h-1.5zM485.5 331.0h3.0v1.5h-3.0zM518.5 331.0h1.5v1.5h-1.5zM517.0 332.5h3.0v1.5h-3.0zM529.0 332.5h1.5v1.5h-1.5zM539.5 332.5h1.5v1.5h-1.5zM544.0 332.5h1.5v1.5h-1.5zM548.5 332.5h1.5v1.5h-1.5zM478.0 334.0h1.5v1.5h-1.5zM482.5 334.0h1.5v1.5h-1.5zM496.0 334.0h1.5v1.5h-1.5zM526.0 334.0h1.5v1.5h-1.5zM538.0 334.0h1.5v1.5h-1.5zM541.0 334.0h1.5v1.5h-1.5zM544.0 334.0h1.5v1.5h-1.5zM503.5 335.5h1.5v1.5h-1.5zM529.0 335.5h1.5v1.5h-1.5zM536.5 335.5h1.5v1.5h-1.5zM539.5 335.5h1.5v1.5h-1.5zM544.0 335.5h1.5v1.5h-1.5zM485.5 337.0h1.5v1.5h-1.5zM488.5 337.0h1.5v1.5h-1.5zM530.5 337.0h1.5v1.5h-1.5zM536.5 337.0h3.0v1.5h-3.0zM542.5 337.0h1.5v1.5h-1.5zM491.5 338.5h3.0v1.5h-3.0zM499.0 338.5h1.5v1.5h-1.5zM491.5 340.0h3.0v1.5h-3.0zM497.5 340.0h1.5v1.5h-1.5zM500.5 340.0h1.5v1.5h-1.5zM524.5 340.0h1.5v1.5h-1.5zM535.0 340.0h1.5v1.5h-1.5zM479.5 341.5h3.0v1.5h-3.0zM536.5 341.5h3.0v1.5h-3.0zM521.5 343.0h1.5v1.5h-1.5zM523.0 344.5h1.5v1.5h-1.5zM535.0 346.0h1.5v1.5h-1.5zM529.0 349.0h1.5v1.5h-1.5zM529.0 350.5h1.5v1.5h-1.5z" fill="#40e8f0"/>
<path d="M491.5 289.0h1.5v1.5h-1.5zM487.0 290.5h1.5v1.5h-1.5zM491.5 290.5h9.0v1.5h-9.0zM503.5 290.5h1.5v1.5h-1.5zM487.0 292.0h1.5v1.5h-1.5zM490.0 292.0h1.5v1.5h-1.5zM493.0 292.0h9.0v1.5h-9.0zM506.5 292.0h1.5v1.5h-1.5zM487.0 293.5h21.0v1.5h-21.0zM509.5 293.5h1.5v1.5h-1.5zM487.0 295.0h1.5v1.5h-1.5zM490.0 295.0h12.0v1.5h-12.0zM503.5 295.0h6.0v1.5h-6.0zM485.5 296.5h19.5v1.5h-19.5zM506.5 296.5h4.5v1.5h-4.5zM485.5 298.0h4.5v1.5h-4.5zM491.5 298.0h1.5v1.5h-1.5zM494.5 298.0h4.5v1.5h-4.5zM500.5 298.0h9.0v1.5h-9.0zM511.0 298.0h1.5v1.5h-1.5zM485.5 299.5h1.5v1.5h-1.5zM488.5 299.5h15.0v1.5h-15.0zM505.0 299.5h7.5v1.5h-7.5zM485.5 301.0h7.5v1.5h-7.5zM494.5 301.0h7.5v1.5h-7.5zM511.0 301.0h1.5v1.5h-1.5zM484.0 302.5h1.5v1.5h-1.5zM487.0 302.5h1.5v1.5h-1.5zM490.0 302.5h13.5v1.5h-13.5zM506.5 302.5h4.5v1.5h-4.5zM484.0 304.0h6.0v1.5h-6.0zM491.5 304.0h6.0v1.5h-6.0zM499.0 304.0h4.5v1.5h-4.5zM506.5 304.0h4.5v1.5h-4.5zM542.5 304.0h3.0v1.5h-3.0zM553.0 304.0h1.5v1.5h-1.5zM482.5 305.5h1.5v1.5h-1.5zM485.5 305.5h1.5v1.5h-1.5zM490.0 305.5h10.5v1.5h-10.5zM506.5 305.5h1.5v1.5h-1.5zM511.0 305.5h4.5v1.5h-4.5zM535.0 305.5h1.5v1.5h-1.5zM481.0 307.0h1.5v1.5h-1.5zM484.0 307.0h1.5v1.5h-1.5zM487.0 307.0h1.5v1.5h-1.5zM490.0 307.0h1.5v1.5h-1.5zM497.5 307.0h6.0v1.5h-6.0zM508.0 307.0h7.5v1.5h-7.5zM484.0 308.5h9.0v1.5h-9.0zM494.5 308.5h13.5v1.5h-13.5zM511.0 308.5h4.5v1.5h-4.5zM533.5 308.5h1.5v1.5h-1.5zM542.5 308.5h3.0v1.5h-3.0zM481.0 310.0h4.5v1.5h-4.5zM487.0 310.0h1.5v1.5h-1.5zM490.0 310.0h3.0v1.5h-3.0zM496.0 310.0h1.5v1.5h-1.5zM499.0 310.0h6.0v1.5h-6.0zM506.5 310.0h9.0v1.5h-9.0zM527.5 310.0h1.5v1.5h-1.5zM542.5 310.0h1.5v1.5h-1.5zM478.0 311.5h6.0v1.5h-6.0zM485.5 311.5h1.5v1.5h-1.5zM488.5 311.5h3.0v1.5h-3.0zM493.0 311.5h1.5v1.5h-1.5zM496.0 311.5h4.5v1.5h-4.5zM502.0 311.5h1.5v1.5h-1.5zM506.5 311.5h1.5v1.5h-1.5zM509.5 311.5h3.0v1.5h-3.0zM530.5 311.5h1.5v1.5h-1.5zM475.0 313.0h3.0v1.5h-3.0zM479.5 313.0h1.5v1.5h-1.5zM482.5 313.0h15.0v1.5h-15.0zM499.0 313.0h4.5v1.5h-4.5zM508.0 313.0h7.5v1.5h-7.5zM472.0 314.5h6.0v1.5h-6.0zM479.5 314.5h3.0v1.5h-3.0zM484.0 314.5h19.5v1.5h-19.5zM508.0 314.5h3.0v1.5h-3.0zM512.5 314.5h3.0v1.5h-3.0zM538.0 314.5h1.5v1.5h-1.5zM473.5 316.0h1.5v1.5h-1.5zM478.0 316.0h3.0v1.5h-3.0zM484.0 316.0h3.0v1.5h-3.0zM488.5 316.0h1.5v1.5h-1.5zM491.5 316.0h1.5v1.5h-1.5zM494.5 316.0h3.0v1.5h-3.0zM499.0 316.0h4.5v1.5h-4.5zM506.5 316.0h1.5v1.5h-1.5zM509.5 316.0h3.0v1.5h-3.0zM551.5 316.0h1.5v1.5h-1.5zM470.5 317.5h1.5v1.5h-1.5zM473.5 317.5h1.5v1.5h-1.5zM478.0 317.5h4.5v1.5h-4.5zM484.0 317.5h3.0v1.5h-3.0zM490.0 317.5h1.5v1.5h-1.5zM493.0 317.5h6.0v1.5h-6.0zM500.5 317.5h3.0v1.5h-3.0zM506.5 317.5h3.0v1.5h-3.0zM511.0 317.5h4.5v1.5h-4.5zM536.5 317.5h3.0v1.5h-3.0zM476.5 319.0h4.5v1.5h-4.5zM482.5 319.0h1.5v1.5h-1.5zM485.5 319.0h1.5v1.5h-1.5zM491.5 319.0h9.0v1.5h-9.0zM502.0 319.0h3.0v1.5h-3.0zM506.5 319.0h3.0v1.5h-3.0zM511.0 319.0h3.0v1.5h-3.0zM532.0 319.0h1.5v1.5h-1.5zM467.5 320.5h1.5v1.5h-1.5zM472.0 320.5h4.5v1.5h-4.5zM478.0 320.5h4.5v1.5h-4.5zM487.0 320.5h9.0v1.5h-9.0zM497.5 320.5h1.5v1.5h-1.5zM503.5 320.5h4.5v1.5h-4.5zM509.5 320.5h1.5v1.5h-1.5zM524.5 320.5h1.5v1.5h-1.5zM538.0 320.5h1.5v1.5h-1.5zM472.0 322.0h7.5v1.5h-7.5zM481.0 322.0h6.0v1.5h-6.0zM488.5 322.0h3.0v1.5h-3.0zM496.0 322.0h3.0v1.5h-3.0zM500.5 322.0h4.5v1.5h-4.5zM506.5 322.0h1.5v1.5h-1.5zM509.5 322.0h1.5v1.5h-1.5zM512.5 322.0h1.5v1.5h-1.5zM520.0 322.0h1.5v1.5h-1.5zM538.0 322.0h1.5v1.5h-1.5zM547.0 322.0h1.5v1.5h-1.5zM553.0 322.0h1.5v1.5h-1.5zM473.5 323.5h3.0v1.5h-3.0zM479.5 323.5h4.5v1.5h-4.5zM487.0 323.5h6.0v1.5h-6.0zM497.5 323.5h15.0v1.5h-15.0zM520.0 323.5h1.5v1.5h-1.5zM527.5 323.5h1.5v1.5h-1.5zM532.0 323.5h1.5v1.5h-1.5zM467.5 325.0h1.5v1.5h-1.5zM473.5 325.0h10.5v1.5h-10.5zM487.0 325.0h7.5v1.5h-7.5zM497.5 325.0h1.5v1.5h-1.5zM500.5 325.0h7.5v1.5h-7.5zM511.0 325.0h1.5v1.5h-1.5zM532.0 325.0h1.5v1.5h-1.5zM475.0 326.5h9.0v1.5h-9.0zM485.5 326.5h1.5v1.5h-1.5zM488.5 326.5h6.0v1.5h-6.0zM496.0 326.5h9.0v1.5h-9.0zM506.5 326.5h1.5v1.5h-1.5zM509.5 326.5h1.5v1.5h-1.5zM529.0 326.5h1.5v1.5h-1.5zM544.0 326.5h1.5v1.5h-1.5zM476.5 328.0h3.0v1.5h-3.0zM481.0 328.0h1.5v1.5h-1.5zM484.0 328.0h6.0v1.5h-6.0zM491.5 328.0h9.0v1.5h-9.0zM502.0 328.0h7.5v1.5h-7.5zM511.0 328.0h1.5v1.5h-1.5zM539.5 328.0h1.5v1.5h-1.5zM482.5 329.5h3.0v1.5h-3.0zM491.5 329.5h12.0v1.5h-12.0zM505.0 329.5h3.0v1.5h-3.0zM542.5 329.5h1.5v1.5h-1.5zM479.5 331.0h4.5v1.5h-4.5zM488.5 331.0h6.0v1.5h-6.0zM496.0 331.0h10.5v1.5h-10.5zM520.0 331.0h1.5v1.5h-1.5zM524.5 331.0h1.5v1.5h-1.5zM529.0 331.0h3.0v1.5h-3.0zM478.0 332.5h1.5v1.5h-1.5zM482.5 332.5h18.0v1.5h-18.0zM502.0 332.5h1.5v1.5h-1.5zM538.0 332.5h1.5v1.5h-1.5zM542.5 332.5h1.5v1.5h-1.5zM485.5 334.0h9.0v1.5h-9.0zM497.5 334.0h3.0v1.5h-3.0zM517.0 334.0h1.5v1.5h-1.5zM521.5 334.0h1.5v1.5h-1.5zM533.5 334.0h1.5v1.5h-1.5zM539.5 334.0h1.5v1.5h-1.5zM499.0 335.5h1.5v1.5h-1.5zM518.5 335.5h1.5v1.5h-1.5zM541.0 335.5h1.5v1.5h-1.5zM482.5 337.0h1.5v1.5h-1.5zM499.0 337.0h1.5v1.5h-1.5zM529.0 337.0h1.5v1.5h-1.5zM481.0 338.5h3.0v1.5h-3.0zM487.0 338.5h1.5v1.5h-1.5zM523.0 338.5h1.5v1.5h-1.5zM479.5 340.0h1.5v1.5h-1.5zM536.5 340.0h1.5v1.5h-1.5zM539.5 340.0h1.5v1.5h-1.5zM526.0 341.5h1.5v1.5h-1.5zM524.5 343.0h1.5v1.5h-1.5zM539.5 343.0h3.0v1.5h-3.0zM533.5 344.5h1.5v1.5h-1.5zM523.0 346.0h1.5v1.5h-1.5zM527.5 346.0h1.5v1.5h-1.5zM536.5 346.0h1.5v1.5h-1.5zM529.0 347.5h4.5v1.5h-4.5zM535.0 347.5h1.5v1.5h-1.5zM533.5 349.0h1.5v1.5h-1.5z" fill="#1414ff"/>
<path d="M493.0 289.0h1.5v1.5h-1.5zM496.0 289.0h3.0v1.5h-3.0zM505.0 290.5h1.5v1.5h-1.5zM512.5 301.0h1.5v1.5h-1.5zM505.0 304.0h1.5v1.5h-1.5zM533.5 305.5h1.5v1.5h-1.5zM536.5 305.5h1.5v1.5h-1.5zM557.5 305.5h1.5v1.5h-1.5zM545.5 308.5h1.5v1.5h-1.5zM548.5 308.5h1.5v1.5h-1.5zM554.5 308.5h1.5v1.5h-1.5zM551.5 310.0h1.5v1.5h-1.5zM563.5 310.0h1.5v1.5h-1.5zM505.0 311.5h1.5v1.5h-1.5zM505.0 313.0h1.5v1.5h-1.5zM530.5 313.0h1.5v1.5h-1.5zM533.5 313.0h1.5v1.5h-1.5zM550.0 313.0h1.5v1.5h-1.5zM539.5 314.5h1.5v1.5h-1.5zM547.0 316.0h1.5v1.5h-1.5zM559.0 317.5h1.5v1.5h-1.5zM514.0 319.0h1.5v1.5h-1.5zM521.5 322.0h1.5v1.5h-1.5zM532.0 322.0h1.5v1.5h-1.5zM535.0 322.0h1.5v1.5h-1.5zM529.0 323.5h3.0v1.5h-3.0zM539.5 325.0h3.0v1.5h-3.0zM469.0 326.5h1.5v1.5h-1.5zM473.5 326.5h1.5v1.5h-1.5zM511.0 326.5h1.5v1.5h-1.5zM545.5 326.5h1.5v1.5h-1.5zM509.5 328.0h1.5v1.5h-1.5zM460.0 329.5h1.5v1.5h-1.5zM476.5 329.5h1.5v1.5h-1.5zM508.0 329.5h1.5v1.5h-1.5zM518.5 329.5h1.5v1.5h-1.5zM523.0 329.5h1.5v1.5h-1.5zM545.5 329.5h1.5v1.5h-1.5zM461.5 331.0h1.5v1.5h-1.5zM466.0 331.0h1.5v1.5h-1.5zM548.5 331.0h1.5v1.5h-1.5zM467.5 332.5h1.5v1.5h-1.5zM476.5 332.5h1.5v1.5h-1.5zM541.0 332.5h1.5v1.5h-1.5zM472.0 334.0h1.5v1.5h-1.5zM508.0 334.0h1.5v1.5h-1.5zM547.0 334.0h1.5v1.5h-1.5zM460.0 335.5h1.5v1.5h-1.5zM485.5 335.5h1.5v1.5h-1.5zM493.0 335.5h1.5v1.5h-1.5zM502.0 335.5h1.5v1.5h-1.5zM526.0 335.5h1.5v1.5h-1.5zM530.5 335.5h1.5v1.5h-1.5zM535.0 335.5h1.5v1.5h-1.5zM467.5 337.0h1.5v1.5h-1.5zM470.5 337.0h1.5v1.5h-1.5zM478.0 337.0h1.5v1.5h-1.5zM493.0 337.0h1.5v1.5h-1.5zM497.5 337.0h1.5v1.5h-1.5zM526.0 337.0h1.5v1.5h-1.5zM532.0 337.0h1.5v1.5h-1.5zM539.5 337.0h1.5v1.5h-1.5zM466.0 338.5h1.5v1.5h-1.5zM475.0 338.5h1.5v1.5h-1.5zM484.0 338.5h1.5v1.5h-1.5zM529.0 338.5h1.5v1.5h-1.5zM541.0 338.5h1.5v1.5h-1.5zM544.0 338.5h1.5v1.5h-1.5zM457.0 340.0h1.5v1.5h-1.5zM481.0 340.0h3.0v1.5h-3.0zM487.0 340.0h1.5v1.5h-1.5zM526.0 340.0h1.5v1.5h-1.5zM533.5 340.0h1.5v1.5h-1.5zM541.0 340.0h1.5v1.5h-1.5zM464.5 341.5h1.5v1.5h-1.5zM476.5 341.5h1.5v1.5h-1.5zM497.5 341.5h1.5v1.5h-1.5zM541.0 341.5h1.5v1.5h-1.5zM454.0 343.0h1.5v1.5h-1.5zM470.5 343.0h1.5v1.5h-1.5zM461.5 344.5h1.5v1.5h-1.5zM536.5 344.5h1.5v1.5h-1.5zM461.5 346.0h1.5v1.5h-1.5zM466.0 346.0h1.5v1.5h-1.5zM457.0 347.5h1.5v1.5h-1.5zM454.0 349.0h1.5v1.5h-1.5zM530.5 349.0h1.5v1.5h-1.5zM464.5 350.5h1.5v1.5h-1.5zM457.0 353.5h1.5v1.5h-1.5z" fill="#f0f040"/>
<path d="M502.0 292.0h1.5v1.5h-1.5zM488.5 295.0h1.5v1.5h-1.5zM488.5 302.5h1.5v1.5h-1.5zM563.5 304.0h1.5v1.5h-1.5zM550.0 305.5h3.0v1.5h-3.0zM506.5 307.0h1.5v1.5h-1.5zM556.0 307.0h1.5v1.5h-1.5zM481.0 308.5h1.5v1.5h-1.5zM493.0 308.5h1.5v1.5h-1.5zM529.0 308.5h1.5v1.5h-1.5zM530.5 310.0h1.5v1.5h-1.5zM535.0 310.0h1.5v1.5h-1.5zM556.0 310.0h1.5v1.5h-1.5zM491.5 311.5h1.5v1.5h-1.5zM494.5 311.5h1.5v1.5h-1.5zM508.0 311.5h1.5v1.5h-1.5zM526.0 311.5h1.5v1.5h-1.5zM532.0 311.5h1.5v1.5h-1.5zM532.0 313.0h1.5v1.5h-1.5zM551.5 314.5h1.5v1.5h-1.5zM476.5 316.0h1.5v1.5h-1.5zM487.0 317.5h1.5v1.5h-1.5zM541.0 317.5h1.5v1.5h-1.5zM500.5 319.0h1.5v1.5h-1.5zM521.5 319.0h1.5v1.5h-1.5zM530.5 319.0h1.5v1.5h-1.5zM500.5 320.5h1.5v1.5h-1.5zM505.0 322.0h1.5v1.5h-1.5zM508.0 322.0h1.5v1.5h-1.5zM511.0 322.0h1.5v1.5h-1.5zM518.5 323.5h1.5v1.5h-1.5zM521.5 323.5h1.5v1.5h-1.5zM535.0 323.5h1.5v1.5h-1.5zM545.5 323.5h1.5v1.5h-1.5zM550.0 323.5h1.5v1.5h-1.5zM544.0 325.0h1.5v1.5h-1.5zM526.0 326.5h1.5v1.5h-1.5zM548.5 326.5h1.5v1.5h-1.5zM500.5 328.0h1.5v1.5h-1.5zM535.0 328.0h1.5v1.5h-1.5zM547.0 328.0h1.5v1.5h-1.5zM481.0 329.5h1.5v1.5h-1.5zM529.0 329.5h1.5v1.5h-1.5zM539.5 329.5h1.5v1.5h-1.5zM544.0 329.5h1.5v1.5h-1.5zM521.5 332.5h1.5v1.5h-1.5zM532.0 332.5h3.0v1.5h-3.0zM520.0 334.0h1.5v1.5h-1.5zM532.0 334.0h1.5v1.5h-1.5zM545.5 334.0h1.5v1.5h-1.5zM523.0 335.5h1.5v1.5h-1.5zM538.0 335.5h1.5v1.5h-1.5zM518.5 337.0h1.5v1.5h-1.5zM524.5 337.0h1.5v1.5h-1.5zM545.5 337.0h1.5v1.5h-1.5zM518.5 338.5h1.5v1.5h-1.5zM538.0 338.5h1.5v1.5h-1.5zM530.5 341.5h1.5v1.5h-1.5zM533.5 341.5h1.5v1.5h-1.5zM529.0 343.0h1.5v1.5h-1.5zM536.5 343.0h1.5v1.5h-1.5zM535.0 344.5h1.5v1.5h-1.5zM526.0 346.0h1.5v1.5h-1.5zM533.5 347.5h1.5v1.5h-1.5zM527.5 349.0h1.5v1.5h-1.5zM527.5 350.5h1.5v1.5h-1.5z" fill="#ffffff"/>
<path d="M487.0 299.5h1.5v1.5h-1.5zM490.0 304.0h1.5v1.5h-1.5zM497.5 304.0h1.5v1.5h-1.5zM512.5 304.0h1.5v1.5h-1.5zM539.5 304.0h1.5v1.5h-1.5zM559.0 304.0h1.5v1.5h-1.5zM532.0 305.5h1.5v1.5h-1.5zM539.5 305.5h1.5v1.5h-1.5zM485.5 307.0h1.5v1.5h-1.5zM538.0 307.0h1.5v1.5h-1.5zM541.0 307.0h1.5v1.5h-1.5zM557.5 307.0h3.0v1.5h-3.0zM562.0 307.0h1.5v1.5h-1.5zM538.0 308.5h1.5v1.5h-1.5zM547.0 308.5h1.5v1.5h-1.5zM556.0 308.5h1.5v1.5h-1.5zM565.0 308.5h1.5v1.5h-1.5zM493.0 310.0h1.5v1.5h-1.5zM538.0 310.0h1.5v1.5h-1.5zM541.0 310.0h1.5v1.5h-1.5zM568.0 310.0h1.5v1.5h-1.5zM484.0 311.5h1.5v1.5h-1.5zM514.0 311.5h1.5v1.5h-1.5zM527.5 311.5h1.5v1.5h-1.5zM538.0 311.5h4.5v1.5h-4.5zM544.0 311.5h1.5v1.5h-1.5zM547.0 311.5h3.0v1.5h-3.0zM554.5 311.5h1.5v1.5h-1.5zM506.5 313.0h1.5v1.5h-1.5zM524.5 313.0h4.5v1.5h-4.5zM535.0 313.0h1.5v1.5h-1.5zM538.0 313.0h3.0v1.5h-3.0zM547.0 313.0h1.5v1.5h-1.5zM554.5 313.0h1.5v1.5h-1.5zM511.0 314.5h1.5v1.5h-1.5zM523.0 314.5h1.5v1.5h-1.5zM526.0 314.5h1.5v1.5h-1.5zM529.0 314.5h3.0v1.5h-3.0zM544.0 314.5h1.5v1.5h-1.5zM554.5 314.5h1.5v1.5h-1.5zM559.0 314.5h1.5v1.5h-1.5zM475.0 316.0h1.5v1.5h-1.5zM481.0 316.0h3.0v1.5h-3.0zM490.0 316.0h1.5v1.5h-1.5zM521.5 316.0h3.0v1.5h-3.0zM529.0 316.0h3.0v1.5h-3.0zM545.5 316.0h1.5v1.5h-1.5zM554.5 316.0h3.0v1.5h-3.0zM472.0 317.5h1.5v1.5h-1.5zM491.5 317.5h1.5v1.5h-1.5zM527.5 317.5h3.0v1.5h-3.0zM548.5 317.5h1.5v1.5h-1.5zM551.5 317.5h1.5v1.5h-1.5zM554.5 317.5h4.5v1.5h-4.5zM505.0 319.0h1.5v1.5h-1.5zM520.0 319.0h1.5v1.5h-1.5zM524.5 319.0h3.0v1.5h-3.0zM529.0 319.0h1.5v1.5h-1.5zM535.0 319.0h3.0v1.5h-3.0zM541.0 319.0h9.0v1.5h-9.0zM554.5 319.0h1.5v1.5h-1.5zM482.5 320.5h3.0v1.5h-3.0zM526.0 320.5h4.5v1.5h-4.5zM535.0 320.5h1.5v1.5h-1.5zM539.5 320.5h1.5v1.5h-1.5zM545.5 320.5h1.5v1.5h-1.5zM548.5 320.5h1.5v1.5h-1.5zM551.5 320.5h1.5v1.5h-1.5zM544.0 322.0h1.5v1.5h-1.5zM547.0 323.5h3.0v1.5h-3.0zM487.0 326.5h1.5v1.5h-1.5zM508.0 326.5h1.5v1.5h-1.5zM482.5 328.0h1.5v1.5h-1.5zM524.5 328.0h1.5v1.5h-1.5zM530.5 328.0h1.5v1.5h-1.5zM484.0 331.0h1.5v1.5h-1.5zM539.5 331.0h1.5v1.5h-1.5zM544.0 331.0h1.5v1.5h-1.5zM547.0 331.0h1.5v1.5h-1.5zM530.5 332.5h1.5v1.5h-1.5zM542.5 334.0h1.5v1.5h-1.5zM542.5 335.5h1.5v1.5h-1.5zM547.0 335.5h1.5v1.5h-1.5zM521.5 337.0h1.5v1.5h-1.5zM533.5 337.0h1.5v1.5h-1.5zM533.5 338.5h1.5v1.5h-1.5zM520.0 340.0h1.5v1.5h-1.5zM533.5 343.0h1.5v1.5h-1.5zM527.5 344.5h1.5v1.5h-1.5zM529.0 346.0h1.5v1.5h-1.5z" fill="#ff2cff"/>
<path d="M565.0 305.5h1.5v1.5h-1.5zM560.5 307.0h1.5v1.5h-1.5zM565.0 307.0h3.0v1.5h-3.0zM568.0 308.5h1.5v1.5h-1.5zM557.5 310.0h1.5v1.5h-1.5zM562.0 310.0h1.5v1.5h-1.5zM566.5 310.0h1.5v1.5h-1.5zM557.5 311.5h3.0v1.5h-3.0zM562.0 311.5h3.0v1.5h-3.0zM560.5 313.0h3.0v1.5h-3.0zM560.5 314.5h1.5v1.5h-1.5zM566.5 314.5h1.5v1.5h-1.5zM563.5 316.0h1.5v1.5h-1.5zM458.5 329.5h1.5v1.5h-1.5zM461.5 329.5h1.5v1.5h-1.5zM464.5 329.5h3.0v1.5h-3.0zM460.0 331.0h1.5v1.5h-1.5zM470.5 331.0h3.0v1.5h-3.0zM475.0 331.0h1.5v1.5h-1.5zM460.0 332.5h3.0v1.5h-3.0zM470.5 332.5h1.5v1.5h-1.5zM473.5 332.5h1.5v1.5h-1.5zM455.5 334.0h3.0v1.5h-3.0zM466.0 334.0h3.0v1.5h-3.0zM470.5 334.0h1.5v1.5h-1.5zM475.0 334.0h3.0v1.5h-3.0zM455.5 335.5h1.5v1.5h-1.5zM463.0 335.5h1.5v1.5h-1.5zM466.0 335.5h3.0v1.5h-3.0zM470.5 335.5h1.5v1.5h-1.5zM455.5 337.0h1.5v1.5h-1.5zM458.5 337.0h1.5v1.5h-1.5zM461.5 337.0h3.0v1.5h-3.0zM454.0 338.5h3.0v1.5h-3.0zM458.5 338.5h1.5v1.5h-1.5zM464.5 338.5h1.5v1.5h-1.5zM472.0 338.5h1.5v1.5h-1.5zM476.5 338.5h1.5v1.5h-1.5zM466.0 340.0h1.5v1.5h-1.5zM472.0 340.0h1.5v1.5h-1.5zM454.0 341.5h3.0v1.5h-3.0zM458.5 341.5h3.0v1.5h-3.0zM463.0 341.5h1.5v1.5h-1.5zM469.0 341.5h1.5v1.5h-1.5zM472.0 341.5h1.5v1.5h-1.5zM469.0 343.0h1.5v1.5h-1.5zM472.0 343.0h3.0v1.5h-3.0zM454.0 344.5h1.5v1.5h-1.5zM457.0 344.5h1.5v1.5h-1.5zM460.0 344.5h1.5v1.5h-1.5zM464.5 344.5h1.5v1.5h-1.5zM467.5 344.5h1.5v1.5h-1.5zM454.0 346.0h1.5v1.5h-1.5zM467.5 346.0h3.0v1.5h-3.0zM473.5 346.0h1.5v1.5h-1.5zM455.5 347.5h1.5v1.5h-1.5zM458.5 347.5h1.5v1.5h-1.5zM461.5 347.5h4.5v1.5h-4.5zM472.0 347.5h1.5v1.5h-1.5zM455.5 349.0h1.5v1.5h-1.5zM467.5 349.0h4.5v1.5h-4.5zM454.0 350.5h1.5v1.5h-1.5zM466.0 350.5h1.5v1.5h-1.5zM469.0 350.5h1.5v1.5h-1.5zM458.5 352.0h1.5v1.5h-1.5zM461.5 352.0h3.0v1.5h-3.0zM466.0 352.0h1.5v1.5h-1.5zM455.5 353.5h1.5v1.5h-1.5zM458.5 353.5h1.5v1.5h-1.5zM461.5 353.5h1.5v1.5h-1.5zM466.0 353.5h1.5v1.5h-1.5z" fill="#ff1818"/>
<path d="M479.8 285.4h8.8v8.8h-8.8zM488.6 285.4h8.8v8.8h-8.8zM506.2 294.2h8.8v8.8h-8.8zM550.2 294.2h8.8v8.8h-8.8zM479.8 303.1h8.8v8.8h-8.8zM488.6 303.1h8.8v8.8h-8.8zM497.4 303.1h8.8v8.8h-8.8zM506.2 303.1h8.8v8.8h-8.8zM541.4 303.1h8.8v8.8h-8.8zM559.0 303.1h8.8v8.8h-8.8zM462.2 311.9h8.8v8.8h-8.8zM471.0 311.9h8.8v8.8h-8.8zM479.8 311.9h8.8v8.8h-8.8zM488.6 311.9h8.8v8.8h-8.8zM497.4 311.9h8.8v8.8h-8.8zM506.2 311.9h8.8v8.8h-8.8zM541.4 311.9h8.8v8.8h-8.8zM550.2 311.9h8.8v8.8h-8.8zM567.8 311.9h8.8v8.8h-8.8zM453.4 320.8h8.8v8.8h-8.8zM471.0 320.8h8.8v8.8h-8.8zM479.8 320.8h8.8v8.8h-8.8zM488.6 320.8h8.8v8.8h-8.8zM497.4 320.8h8.8v8.8h-8.8zM506.2 320.8h8.8v8.8h-8.8zM462.2 329.6h8.8v8.8h-8.8zM471.0 329.6h8.8v8.8h-8.8zM488.6 329.6h8.8v8.8h-8.8zM497.4 329.6h8.8v8.8h-8.8zM550.2 329.6h8.8v8.8h-8.8zM462.2 338.5h8.8v8.8h-8.8zM471.0 338.5h8.8v8.8h-8.8zM479.8 338.5h8.8v8.8h-8.8zM488.6 338.5h8.8v8.8h-8.8zM497.4 338.5h8.8v8.8h-8.8zM541.4 338.5h8.8v8.8h-8.8zM453.4 347.3h8.8v8.8h-8.8zM462.2 347.3h8.8v8.8h-8.8zM515.0 347.3h8.8v8.8h-8.8zM523.8 347.3h8.8v8.8h-8.8zM532.6 347.3h8.8v8.8h-8.8z" fill="none" stroke="#62d0d0" stroke-width="0.9"/>
<path d="M497.4 285.4h8.8v8.8h-8.8zM506.2 285.4h8.8v8.8h-8.8zM488.6 294.2h8.8v8.8h-8.8zM497.4 294.2h8.8v8.8h-8.8zM532.6 303.1h8.8v8.8h-8.8zM515.0 311.9h8.8v8.8h-8.8zM559.0 311.9h8.8v8.8h-8.8zM462.2 320.8h8.8v8.8h-8.8zM515.0 320.8h8.8v8.8h-8.8zM523.8 320.8h8.8v8.8h-8.8zM532.6 320.8h8.8v8.8h-8.8zM541.4 320.8h8.8v8.8h-8.8zM550.2 320.8h8.8v8.8h-8.8zM453.4 329.6h8.8v8.8h-8.8zM479.8 329.6h8.8v8.8h-8.8zM506.2 329.6h8.8v8.8h-8.8zM515.0 329.6h8.8v8.8h-8.8zM523.8 329.6h8.8v8.8h-8.8zM532.6 329.6h8.8v8.8h-8.8zM541.4 329.6h8.8v8.8h-8.8zM453.4 338.5h8.8v8.8h-8.8zM515.0 338.5h8.8v8.8h-8.8zM523.8 338.5h8.8v8.8h-8.8zM532.6 338.5h8.8v8.8h-8.8z" fill="none" stroke="#e0921e" stroke-width="0.9"/>
<path d="M523.8 303.1h8.8v8.8h-8.8zM550.2 303.1h8.8v8.8h-8.8zM523.8 311.9h8.8v8.8h-8.8zM532.6 311.9h8.8v8.8h-8.8z" fill="none" stroke="#dc32dc" stroke-width="0.9"/>
<line x1="99.5" y1="403.3" x2="99.5" y2="595.2" stroke="#111" stroke-width="1.9"/>
<line x1="98.55" y1="594.4" x2="262.6" y2="594.4" stroke="#111" stroke-width="1.8"/>
<line x1="96.8" y1="593.4" x2="99.5" y2="593.4" stroke="#333" stroke-width="0.8"/>
<text x="80.70" y="597.0" font-size="10.61" fill="#333" textLength="13.74" lengthAdjust="spacingAndGlyphs">0.0</text>
<line x1="96.8" y1="559.0" x2="99.5" y2="559.0" stroke="#333" stroke-width="0.8"/>
<text x="80.70" y="562.6" font-size="10.61" fill="#333" textLength="13.90" lengthAdjust="spacingAndGlyphs">0.2</text>
<line x1="96.8" y1="524.6" x2="99.5" y2="524.6" stroke="#333" stroke-width="0.8"/>
<text x="80.71" y="528.2" font-size="10.61" fill="#333" textLength="13.69" lengthAdjust="spacingAndGlyphs">0.4</text>
<line x1="96.8" y1="490.2" x2="99.5" y2="490.2" stroke="#333" stroke-width="0.8"/>
<text x="80.70" y="493.8" font-size="10.61" fill="#333" textLength="13.80" lengthAdjust="spacingAndGlyphs">0.6</text>
<line x1="96.8" y1="455.8" x2="99.5" y2="455.8" stroke="#333" stroke-width="0.8"/>
<text x="80.70" y="459.4" font-size="10.61" fill="#333" textLength="13.80" lengthAdjust="spacingAndGlyphs">0.8</text>
<line x1="96.8" y1="421.4" x2="99.5" y2="421.4" stroke="#333" stroke-width="0.8"/>
<text x="80.34" y="425.0" font-size="10.61" fill="#333" textLength="14.12" lengthAdjust="spacingAndGlyphs">1.0</text>
<line x1="105.8" y1="594.4" x2="105.8" y2="596.6" stroke="#333" stroke-width="0.8"/>
<text x="102.83" y="607.9" font-size="10.60" fill="#333">0</text>
<line x1="131.9" y1="594.4" x2="131.9" y2="596.6" stroke="#333" stroke-width="0.8"/>
<text x="129.00" y="607.9" font-size="10.60" fill="#333">2</text>
<line x1="158.1" y1="594.4" x2="158.1" y2="596.6" stroke="#333" stroke-width="0.8"/>
<text x="155.19" y="607.9" font-size="10.60" fill="#333">4</text>
<line x1="184.2" y1="594.4" x2="184.2" y2="596.6" stroke="#333" stroke-width="0.8"/>
<text x="181.23" y="607.9" font-size="10.60" fill="#333">6</text>
<line x1="210.4" y1="594.4" x2="210.4" y2="596.6" stroke="#333" stroke-width="0.8"/>
<text x="207.39" y="607.9" font-size="10.60" fill="#333">8</text>
<line x1="236.5" y1="594.4" x2="236.5" y2="596.6" stroke="#333" stroke-width="0.8"/>
<text x="230.40" y="607.9" font-size="10.60" fill="#333">10</text>
<line x1="262.6" y1="594.4" x2="262.6" y2="596.6" stroke="#333" stroke-width="0.8"/>
<text x="256.62" y="607.9" font-size="10.60" fill="#333">12</text>
<text x="146.57" y="622.6" font-size="12.94" font-weight="bold" fill="#111" textLength="80.65" lengthAdjust="spacingAndGlyphs">Time in Years</text>
<text transform="translate(72.3,562.77) rotate(-90)" x="0" y="0" font-size="13.52" font-weight="bold" fill="#111" textLength="114.25" lengthAdjust="spacingAndGlyphs">Survival Probability</text>
<text x="10.90" y="417.6" font-size="16.00" fill="#111" textLength="9.39" lengthAdjust="spacingAndGlyphs">b</text>
<path d="M105.5,421.4 L108.6,421.4 L108.6,426.0 L109.5,426.0 L109.5,432.0 L110.5,432.0 L110.5,440.0 L111.3,440.0 L111.3,447.0 L112.0,447.0 L112.0,452.5 L114.6,452.5 L114.6,458.6 L116.8,458.6 L116.8,464.6 L118.4,464.6 L118.4,470.5 L119.4,470.5 L119.4,480.5 L120.2,480.5 L120.2,486.0 L121.2,486.0 L121.2,491.8 L127.5,491.8 L127.5,497.0 L128.3,497.0 L128.3,502.3 L131.6,502.3 L131.6,508.0 L132.4,508.0 L132.4,513.6 L135.6,513.6 L135.6,518.5 L141.3,518.5 L141.3,523.8 L151.0,523.8 L151.0,531.0 L166.4,531.0 L166.4,537.9 L176.1,537.9 L176.1,546.8 L216.2,546.8 L216.2,546.8" fill="none" stroke="#eda62c" stroke-width="2.3" stroke-linejoin="miter" stroke-linecap="butt"/>
<path d="M138.8,514.9v7.2" stroke="#eda62c" stroke-width="1"/>
<path d="M141.8,520.2v7.2" stroke="#eda62c" stroke-width="1"/>
<path d="M148.0,520.2v7.2" stroke="#eda62c" stroke-width="1"/>
<path d="M170.9,534.3v7.2" stroke="#eda62c" stroke-width="1"/>
<path d="M173.6,534.3v7.2" stroke="#eda62c" stroke-width="1"/>
<path d="M177.6,543.2v7.2" stroke="#eda62c" stroke-width="1"/>
<path d="M196.7,543.2v7.2" stroke="#eda62c" stroke-width="1"/>
<path d="M206.1,543.2v7.2" stroke="#eda62c" stroke-width="1"/>
<path d="M211.2,543.2v7.2" stroke="#eda62c" stroke-width="1"/>
<path d="M214.5,543.2v7.2" stroke="#eda62c" stroke-width="1"/>
<path d="M105.5,421.4 L113.2,421.4 L113.2,428.7 L119.8,428.7 L119.8,446.0 L121.3,446.0 L121.3,446.0 L126.9,446.0 L126.9,450.2 L130.1,450.2 L130.1,454.0 L140.5,454.0 L140.5,458.3 L143.8,458.3 L143.8,462.7 L159.8,462.7 L159.8,467.9 L167.8,467.9 L167.8,480.5 L250.6,480.5 L250.6,480.5" fill="none" stroke="#ff1a14" stroke-width="2.3" stroke-linejoin="miter" stroke-linecap="butt"/>
<path d="M111.4,417.8v7.2" stroke="#ff1a14" stroke-width="1"/>
<path d="M140.5,450.4v7.2" stroke="#ff1a14" stroke-width="1"/>
<path d="M142.8,454.7v7.2" stroke="#ff1a14" stroke-width="1"/>
<path d="M146.0,459.1v7.2" stroke="#ff1a14" stroke-width="1"/>
<path d="M150.5,459.1v7.2" stroke="#ff1a14" stroke-width="1"/>
<path d="M158.7,459.1v7.2" stroke="#ff1a14" stroke-width="1"/>
<path d="M161.5,464.3v7.2" stroke="#ff1a14" stroke-width="1"/>
<path d="M166.9,464.3v7.2" stroke="#ff1a14" stroke-width="1"/>
<path d="M171.5,476.9v7.2" stroke="#ff1a14" stroke-width="1"/>
<path d="M173.3,476.9v7.2" stroke="#ff1a14" stroke-width="1"/>
<path d="M175.5,476.9v7.2" stroke="#ff1a14" stroke-width="1"/>
<path d="M178.4,476.9v7.2" stroke="#ff1a14" stroke-width="1"/>
<path d="M185.7,476.9v7.2" stroke="#ff1a14" stroke-width="1"/>
<path d="M187.0,476.9v7.2" stroke="#ff1a14" stroke-width="1"/>
<path d="M188.8,476.9v7.2" stroke="#ff1a14" stroke-width="1"/>
<path d="M192.5,476.9v7.2" stroke="#ff1a14" stroke-width="1"/>
<path d="M198.9,476.9v7.2" stroke="#ff1a14" stroke-width="1"/>
<path d="M202.9,476.9v7.2" stroke="#ff1a14" stroke-width="1"/>
<path d="M240.0,476.9v7.2" stroke="#ff1a14" stroke-width="1"/>
<path d="M242.7,476.9v7.2" stroke="#ff1a14" stroke-width="1"/>
<path d="M246.7,476.9v7.2" stroke="#ff1a14" stroke-width="1"/>
<path d="M105.5,421.4 L110.2,421.4 L110.2,434.5 L113.3,434.5 L113.3,474.0 L115.4,474.0 L115.4,487.7 L117.0,487.7 L117.0,514.5 L129.1,514.5 L129.1,527.4 L131.6,527.4 L131.6,541.2 L233.0,541.2 L233.0,541.2" fill="none" stroke="#2e9a2a" stroke-width="2.3" stroke-linejoin="miter" stroke-linecap="butt"/>
<path d="M147.4,537.6v7.2M158.1,537.6v7.2M200.1,537.6v7.2M229.7,537.6v7.2" stroke="#2e9a2a" stroke-width="1"/>
<text x="181.75" y="578.0" font-size="12.65" fill="#222" textLength="55.13" lengthAdjust="spacingAndGlyphs">p=0.0004</text>
<line x1="468.5" y1="403.3" x2="468.5" y2="595.2" stroke="#111" stroke-width="1.9"/>
<line x1="467.55" y1="594.4" x2="631.6" y2="594.4" stroke="#111" stroke-width="1.8"/>
<line x1="465.8" y1="593.4" x2="468.5" y2="593.4" stroke="#333" stroke-width="0.8"/>
<text x="449.70" y="597.0" font-size="10.61" fill="#333" textLength="13.74" lengthAdjust="spacingAndGlyphs">0.0</text>
<line x1="465.8" y1="559.0" x2="468.5" y2="559.0" stroke="#333" stroke-width="0.8"/>
<text x="449.70" y="562.6" font-size="10.61" fill="#333" textLength="13.90" lengthAdjust="spacingAndGlyphs">0.2</text>
<line x1="465.8" y1="524.6" x2="468.5" y2="524.6" stroke="#333" stroke-width="0.8"/>
<text x="449.71" y="528.2" font-size="10.61" fill="#333" textLength="13.69" lengthAdjust="spacingAndGlyphs">0.4</text>
<line x1="465.8" y1="490.2" x2="468.5" y2="490.2" stroke="#333" stroke-width="0.8"/>
<text x="449.70" y="493.8" font-size="10.61" fill="#333" textLength="13.80" lengthAdjust="spacingAndGlyphs">0.6</text>
<line x1="465.8" y1="455.8" x2="468.5" y2="455.8" stroke="#333" stroke-width="0.8"/>
<text x="449.70" y="459.4" font-size="10.61" fill="#333" textLength="13.80" lengthAdjust="spacingAndGlyphs">0.8</text>
<line x1="465.8" y1="421.4" x2="468.5" y2="421.4" stroke="#333" stroke-width="0.8"/>
<text x="449.34" y="425.0" font-size="10.61" fill="#333" textLength="14.12" lengthAdjust="spacingAndGlyphs">1.0</text>
<line x1="474.8" y1="594.4" x2="474.8" y2="596.6" stroke="#333" stroke-width="0.8"/>
<text x="471.83" y="607.9" font-size="10.60" fill="#333">0</text>
<line x1="500.9" y1="594.4" x2="500.9" y2="596.6" stroke="#333" stroke-width="0.8"/>
<text x="498.00" y="607.9" font-size="10.60" fill="#333">2</text>
<line x1="527.1" y1="594.4" x2="527.1" y2="596.6" stroke="#333" stroke-width="0.8"/>
<text x="524.19" y="607.9" font-size="10.60" fill="#333">4</text>
<line x1="553.2" y1="594.4" x2="553.2" y2="596.6" stroke="#333" stroke-width="0.8"/>
<text x="550.23" y="607.9" font-size="10.60" fill="#333">6</text>
<line x1="579.4" y1="594.4" x2="579.4" y2="596.6" stroke="#333" stroke-width="0.8"/>
<text x="576.39" y="607.9" font-size="10.60" fill="#333">8</text>
<line x1="605.5" y1="594.4" x2="605.5" y2="596.6" stroke="#333" stroke-width="0.8"/>
<text x="599.41" y="607.9" font-size="10.60" fill="#333">10</text>
<line x1="631.6" y1="594.4" x2="631.6" y2="596.6" stroke="#333" stroke-width="0.8"/>
<text x="625.62" y="607.9" font-size="10.60" fill="#333">12</text>
<text x="515.57" y="622.6" font-size="12.94" font-weight="bold" fill="#111" textLength="80.65" lengthAdjust="spacingAndGlyphs">Time in Years</text>
<text transform="translate(441.3,562.77) rotate(-90)" x="0" y="0" font-size="13.52" font-weight="bold" fill="#111" textLength="114.25" lengthAdjust="spacingAndGlyphs">Survival Probability</text>
<text x="359.46" y="417.4" font-size="16.50" fill="#111" textLength="9.20" lengthAdjust="spacingAndGlyphs">c</text>
<path d="M474.1,421.2 L479.7,421.2 L479.7,440.1 L482.4,440.1 L482.4,478.8 L486.3,478.8 L486.3,498.2 L488.1,498.2 L488.1,517.3 L490.7,517.3 L490.7,536.5 L503.9,536.5 L503.9,556.2 L515.2,556.2 L515.2,556.2" fill="none" stroke="#2e9a2a" stroke-width="2.3" stroke-linejoin="miter" stroke-linecap="butt"/>
<path d="M509.9,552.6v7.2M512.5,552.6v7.2" stroke="#2e9a2a" stroke-width="1"/>
<path d="M474.1,421.2 L479.2,421.2 L480.4,424.0 L483.4,438.7 L485.6,446.0 L488.5,454.1 L490.0,458.5 L495.9,458.5 L498.1,464.4 L501.0,477.6 L509.1,477.6 L510.6,477.6 L510.6,480.6 L513.5,480.6 L513.5,482.5 L517.9,482.5 L517.9,484.0 L520.1,484.0 L520.1,487.6 L529.0,487.6 L529.0,488.8 L530.5,488.8 L530.5,491.0 L534.9,491.0 L534.9,493.0 L536.5,493.0 L536.5,494.6 L544.4,494.6 L544.4,495.3 L546.0,495.3 L546.0,498.5 L547.5,498.5 L547.5,500.6 L620.3,500.6 L620.3,500.6" fill="none" stroke="#ff1a14" stroke-width="2.3" stroke-linejoin="miter" stroke-linecap="butt"/>
<path d="M510.6,474.0v7.2" stroke="#ff1a14" stroke-width="1"/>
<path d="M515.7,478.9v7.2" stroke="#ff1a14" stroke-width="1"/>
<path d="M517.9,478.9v7.2" stroke="#ff1a14" stroke-width="1"/>
<path d="M520.1,480.4v7.2" stroke="#ff1a14" stroke-width="1"/>
<path d="M535.6,489.4v7.2" stroke="#ff1a14" stroke-width="1"/>
<path d="M537.8,491.0v7.2" stroke="#ff1a14" stroke-width="1"/>
<path d="M540.0,491.0v7.2" stroke="#ff1a14" stroke-width="1"/>
<path d="M542.2,491.0v7.2" stroke="#ff1a14" stroke-width="1"/>
<path d="M544.4,491.0v7.2" stroke="#ff1a14" stroke-width="1"/>
<path d="M547.4,494.9v7.2" stroke="#ff1a14" stroke-width="1"/>
<path d="M548.8,497.0v7.2" stroke="#ff1a14" stroke-width="1"/>
<path d="M551.0,497.0v7.2" stroke="#ff1a14" stroke-width="1"/>
<path d="M553.0,497.0v7.2" stroke="#ff1a14" stroke-width="1"/>
<path d="M556.0,497.0v7.2" stroke="#ff1a14" stroke-width="1"/>
<path d="M558.0,497.0v7.2" stroke="#ff1a14" stroke-width="1"/>
<path d="M560.5,497.0v7.2" stroke="#ff1a14" stroke-width="1"/>
<path d="M563.0,497.0v7.2" stroke="#ff1a14" stroke-width="1"/>
<path d="M566.0,497.0v7.2" stroke="#ff1a14" stroke-width="1"/>
<path d="M569.0,497.0v7.2" stroke="#ff1a14" stroke-width="1"/>
<path d="M572.0,497.0v7.2" stroke="#ff1a14" stroke-width="1"/>
<path d="M575.0,497.0v7.2" stroke="#ff1a14" stroke-width="1"/>
<path d="M579.5,497.0v7.2" stroke="#ff1a14" stroke-width="1"/>
<path d="M608.5,497.0v7.2" stroke="#ff1a14" stroke-width="1"/>
<path d="M611.0,497.0v7.2" stroke="#ff1a14" stroke-width="1"/>
<path d="M614.0,497.0v7.2" stroke="#ff1a14" stroke-width="1"/>
<path d="M617.6,497.0v7.2" stroke="#ff1a14" stroke-width="1"/>
<path d="M474.1,421.2 L478.5,421.2 L478.5,450.0 L487.8,450.0 L487.8,478.8 L509.1,478.8 L509.1,507.4 L601.9,507.4 L601.9,507.4" fill="none" stroke="#eda62c" stroke-width="2.3" stroke-linejoin="miter" stroke-linecap="butt"/>
<path d="M527.5,503.8v7.2M546.6,503.8v7.2M600.6,503.8v7.2" stroke="#eda62c" stroke-width="1"/>
<text x="556.84" y="578.9" font-size="12.65" fill="#222" textLength="55.71" lengthAdjust="spacingAndGlyphs">p=0.0207</text>
<line x1="515.3" y1="420.9" x2="533.8" y2="420.9" stroke="#ff1a14" stroke-width="3.6"/>
<text x="536.39" y="424.1" font-size="13.52" fill="#222">Immune Inflamed (IN)</text>
<line x1="515.3" y1="434.9" x2="533.8" y2="434.9" stroke="#2e9a2a" stroke-width="3.6"/>
<text x="536.43" y="438.1" font-size="13.52" fill="#222" textLength="128.99" lengthAdjust="spacingAndGlyphs">Immune Excluded (IE)</text>
<line x1="515.3" y1="449.5" x2="533.8" y2="449.5" stroke="#eda62c" stroke-width="3.6"/>
<text x="536.41" y="452.7" font-size="13.52" fill="#222" textLength="115.74" lengthAdjust="spacingAndGlyphs">Immune Desert (ID)</text>
<text x="65.20" y="634.0" font-size="10.30" fill="#222" textLength="30.92" lengthAdjust="spacingAndGlyphs">At Risk</text>
<text x="17.58" y="645.8" font-size="10.25" fill="#222">Immune Inflamed</text>
<text x="98.53" y="645.8" font-size="10.25" fill="#222">43</text>
<text x="125.33" y="645.8" font-size="10.25" fill="#222">34</text>
<text x="152.44" y="645.8" font-size="10.25" fill="#222">27</text>
<text x="178.83" y="645.8" font-size="10.25" fill="#222">12</text>
<text x="207.92" y="645.8" font-size="10.25" fill="#222">3</text>
<text x="237.62" y="645.8" font-size="10.25" fill="#222">3</text>
<text x="263.37" y="645.8" font-size="10.25" fill="#222">0</text>
<text x="26.09" y="657.5" font-size="10.25" fill="#222">Immune Desert</text>
<text x="98.64" y="657.5" font-size="10.25" fill="#222">32</text>
<text x="125.43" y="657.5" font-size="10.25" fill="#222">16</text>
<text x="158.07" y="657.5" font-size="10.25" fill="#222">9</text>
<text x="184.32" y="657.5" font-size="10.25" fill="#222">4</text>
<text x="207.97" y="657.5" font-size="10.25" fill="#222">1</text>
<text x="237.57" y="657.5" font-size="10.25" fill="#222">0</text>
<text x="263.37" y="657.5" font-size="10.25" fill="#222">0</text>
<text x="14.71" y="669.2" font-size="10.25" fill="#222">Immune Excluded</text>
<text x="98.53" y="669.2" font-size="10.25" fill="#222">13</text>
<text x="131.02" y="669.2" font-size="10.25" fill="#222">4</text>
<text x="158.02" y="669.2" font-size="10.25" fill="#222">3</text>
<text x="184.52" y="669.2" font-size="10.25" fill="#222">2</text>
<text x="207.97" y="669.2" font-size="10.25" fill="#222">1</text>
<text x="237.57" y="669.2" font-size="10.25" fill="#222">0</text>
<text x="263.37" y="669.2" font-size="10.25" fill="#222">0</text>
<text x="433.10" y="634.0" font-size="10.30" fill="#222" textLength="30.92" lengthAdjust="spacingAndGlyphs">At Risk</text>
<text x="385.49" y="645.8" font-size="10.25" fill="#222">Immune Inflamed</text>
<text x="466.13" y="645.8" font-size="10.25" fill="#222">55</text>
<text x="493.33" y="645.8" font-size="10.25" fill="#222">37</text>
<text x="519.68" y="645.8" font-size="10.25" fill="#222">29</text>
<text x="545.93" y="645.8" font-size="10.25" fill="#222">14</text>
<text x="576.02" y="645.8" font-size="10.25" fill="#222">3</text>
<text x="605.72" y="645.8" font-size="10.25" fill="#222">3</text>
<text x="631.47" y="645.8" font-size="10.25" fill="#222">0</text>
<text x="393.99" y="657.5" font-size="10.25" fill="#222">Immune Desert</text>
<text x="471.87" y="657.5" font-size="10.25" fill="#222">9</text>
<text x="498.92" y="657.5" font-size="10.25" fill="#222">3</text>
<text x="525.27" y="657.5" font-size="10.25" fill="#222">0</text>
<text x="551.67" y="657.5" font-size="10.25" fill="#222">0</text>
<text x="575.97" y="657.5" font-size="10.25" fill="#222">0</text>
<text x="605.67" y="657.5" font-size="10.25" fill="#222">0</text>
<text x="631.47" y="657.5" font-size="10.25" fill="#222">0</text>
<text x="382.62" y="669.2" font-size="10.25" fill="#222">Immune Excluded</text>
<text x="471.82" y="669.2" font-size="10.25" fill="#222">6</text>
<text x="498.82" y="669.2" font-size="10.25" fill="#222">4</text>
<text x="525.32" y="669.2" font-size="10.25" fill="#222">3</text>
<text x="551.77" y="669.2" font-size="10.25" fill="#222">1</text>
<text x="576.07" y="669.2" font-size="10.25" fill="#222">1</text>
<text x="605.67" y="669.2" font-size="10.25" fill="#222">0</text>
<text x="631.47" y="669.2" font-size="10.25" fill="#222">0</text>
</svg></body></html>
